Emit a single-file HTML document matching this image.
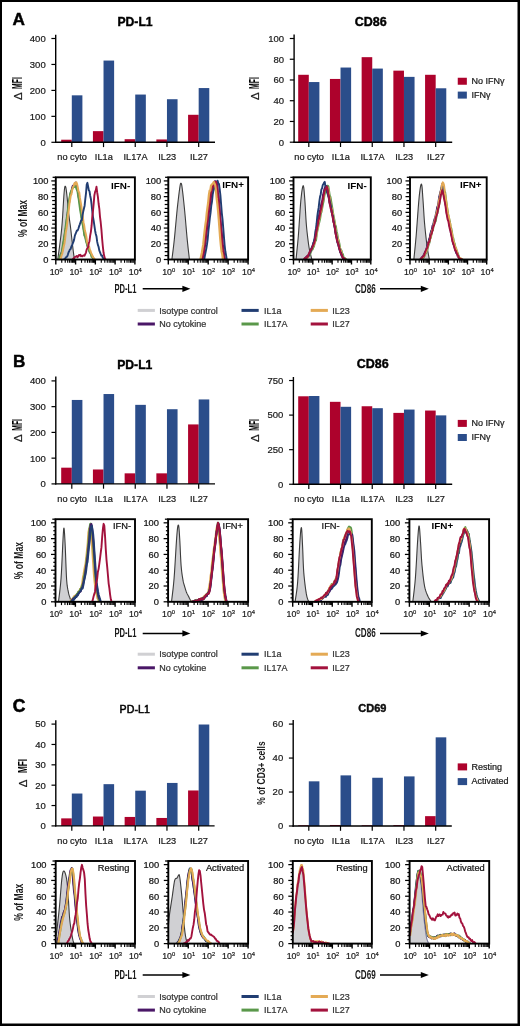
<!DOCTYPE html>
<html><head><meta charset="utf-8"><title>Figure</title>
<style>
html,body{margin:0;padding:0;background:#fff;}
body{width:520px;height:1026px;overflow:hidden;}
svg{display:block;filter:blur(0.3px);font-family:"Liberation Sans", sans-serif;}
</style></head><body>
<svg width="520" height="1026" viewBox="0 0 520 1026">
<rect x="0" y="0" width="520" height="1026" fill="#000"/>
<rect x="2" y="2" width="515.5" height="1021.5" fill="#fff"/>
<text x="12.4" y="24.9" font-size="17.2" text-anchor="start" font-weight="bold" fill="#000" stroke="#000" stroke-width="0.45">A</text>
<text x="12.9" y="367.2" font-size="17.2" text-anchor="start" font-weight="bold" fill="#000" stroke="#000" stroke-width="0.45">B</text>
<text x="12.7" y="711.5" font-size="17.5" text-anchor="start" font-weight="bold" fill="#000" stroke="#000" stroke-width="0.55">C</text>
<text x="135" y="26" font-size="12.2" text-anchor="middle" font-weight="bold" fill="#000" stroke="#000" stroke-width="0.4">PD-L1</text>
<text x="370.8" y="26.1" font-size="12.5" text-anchor="middle" font-weight="bold" fill="#000" stroke="#000" stroke-width="0.4">CD86</text>
<rect x="61.2" y="139.71" width="10.6" height="2.6" fill="#ad022c"/>
<rect x="71.8" y="95.33" width="10.6" height="46.97" fill="#2b4d8a"/>
<rect x="92.92" y="131.14" width="10.6" height="11.16" fill="#ad022c"/>
<rect x="103.52" y="60.56" width="10.6" height="81.74" fill="#2b4d8a"/>
<rect x="124.64" y="139.19" width="10.6" height="3.11" fill="#ad022c"/>
<rect x="135.24" y="94.55" width="10.6" height="47.75" fill="#2b4d8a"/>
<rect x="156.36" y="139.45" width="10.6" height="2.85" fill="#ad022c"/>
<rect x="166.96" y="99.22" width="10.6" height="43.08" fill="#2b4d8a"/>
<rect x="188.08" y="114.79" width="10.6" height="27.51" fill="#ad022c"/>
<rect x="198.68" y="88.06" width="10.6" height="54.24" fill="#2b4d8a"/>
<line x1="55.7" y1="34.7" x2="55.7" y2="143" stroke="#000" stroke-width="1.4"/>
<line x1="55" y1="142.3" x2="215" y2="142.3" stroke="#000" stroke-width="1.4"/>
<line x1="51.4" y1="142.3" x2="55.7" y2="142.3" stroke="#000" stroke-width="1.2"/>
<text x="45.7" y="145.65" font-size="9.5" text-anchor="end" font-weight="normal" fill="#1a1a1a" stroke="#1a1a1a" stroke-width="0.22">0</text>
<line x1="51.4" y1="116.35" x2="55.7" y2="116.35" stroke="#000" stroke-width="1.2"/>
<text x="45.7" y="119.7" font-size="9.5" text-anchor="end" font-weight="normal" fill="#1a1a1a" stroke="#1a1a1a" stroke-width="0.22">100</text>
<line x1="51.4" y1="90.4" x2="55.7" y2="90.4" stroke="#000" stroke-width="1.2"/>
<text x="45.7" y="93.75" font-size="9.5" text-anchor="end" font-weight="normal" fill="#1a1a1a" stroke="#1a1a1a" stroke-width="0.22">200</text>
<line x1="51.4" y1="64.45" x2="55.7" y2="64.45" stroke="#000" stroke-width="1.2"/>
<text x="45.7" y="67.8" font-size="9.5" text-anchor="end" font-weight="normal" fill="#1a1a1a" stroke="#1a1a1a" stroke-width="0.22">300</text>
<line x1="51.4" y1="38.5" x2="55.7" y2="38.5" stroke="#000" stroke-width="1.2"/>
<text x="45.7" y="41.85" font-size="9.5" text-anchor="end" font-weight="normal" fill="#1a1a1a" stroke="#1a1a1a" stroke-width="0.22">400</text>
<line x1="71.8" y1="142.3" x2="71.8" y2="147.1" stroke="#000" stroke-width="1.2"/>
<text x="72.1" y="159.9" font-size="9.2" text-anchor="middle" font-weight="normal" fill="#1a1a1a" stroke="#1a1a1a" stroke-width="0.22">no cyto</text>
<line x1="103.52" y1="142.3" x2="103.52" y2="147.1" stroke="#000" stroke-width="1.2"/>
<text x="103.82" y="159.9" font-size="9.2" text-anchor="middle" font-weight="normal" fill="#1a1a1a" stroke="#1a1a1a" stroke-width="0.22">IL1a</text>
<line x1="135.24" y1="142.3" x2="135.24" y2="147.1" stroke="#000" stroke-width="1.2"/>
<text x="135.54" y="159.9" font-size="9.2" text-anchor="middle" font-weight="normal" fill="#1a1a1a" stroke="#1a1a1a" stroke-width="0.22">IL17A</text>
<line x1="166.96" y1="142.3" x2="166.96" y2="147.1" stroke="#000" stroke-width="1.2"/>
<text x="167.26" y="159.9" font-size="9.2" text-anchor="middle" font-weight="normal" fill="#1a1a1a" stroke="#1a1a1a" stroke-width="0.22">IL23</text>
<line x1="198.68" y1="142.3" x2="198.68" y2="147.1" stroke="#000" stroke-width="1.2"/>
<text x="198.98" y="159.9" font-size="9.2" text-anchor="middle" font-weight="normal" fill="#1a1a1a" stroke="#1a1a1a" stroke-width="0.22">IL27</text>
<rect x="298.2" y="74.79" width="10.6" height="67.41" fill="#ad022c"/>
<rect x="308.8" y="82.05" width="10.6" height="60.15" fill="#2b4d8a"/>
<rect x="329.92" y="78.94" width="10.6" height="63.26" fill="#ad022c"/>
<rect x="340.52" y="67.54" width="10.6" height="74.66" fill="#2b4d8a"/>
<rect x="361.64" y="57.17" width="10.6" height="85.03" fill="#ad022c"/>
<rect x="372.24" y="68.57" width="10.6" height="73.63" fill="#2b4d8a"/>
<rect x="393.36" y="70.65" width="10.6" height="71.55" fill="#ad022c"/>
<rect x="403.96" y="76.87" width="10.6" height="65.33" fill="#2b4d8a"/>
<rect x="425.08" y="74.79" width="10.6" height="67.41" fill="#ad022c"/>
<rect x="435.68" y="88.28" width="10.6" height="53.92" fill="#2b4d8a"/>
<line x1="294.1" y1="34.6" x2="294.1" y2="142.9" stroke="#000" stroke-width="1.4"/>
<line x1="293.4" y1="142.2" x2="452.2" y2="142.2" stroke="#000" stroke-width="1.4"/>
<line x1="289.8" y1="142.2" x2="294.1" y2="142.2" stroke="#000" stroke-width="1.2"/>
<text x="284.1" y="145.55" font-size="9.5" text-anchor="end" font-weight="normal" fill="#1a1a1a" stroke="#1a1a1a" stroke-width="0.22">0</text>
<line x1="289.8" y1="121.46" x2="294.1" y2="121.46" stroke="#000" stroke-width="1.2"/>
<text x="284.1" y="124.81" font-size="9.5" text-anchor="end" font-weight="normal" fill="#1a1a1a" stroke="#1a1a1a" stroke-width="0.22">20</text>
<line x1="289.8" y1="100.72" x2="294.1" y2="100.72" stroke="#000" stroke-width="1.2"/>
<text x="284.1" y="104.07" font-size="9.5" text-anchor="end" font-weight="normal" fill="#1a1a1a" stroke="#1a1a1a" stroke-width="0.22">40</text>
<line x1="289.8" y1="79.98" x2="294.1" y2="79.98" stroke="#000" stroke-width="1.2"/>
<text x="284.1" y="83.33" font-size="9.5" text-anchor="end" font-weight="normal" fill="#1a1a1a" stroke="#1a1a1a" stroke-width="0.22">60</text>
<line x1="289.8" y1="59.24" x2="294.1" y2="59.24" stroke="#000" stroke-width="1.2"/>
<text x="284.1" y="62.59" font-size="9.5" text-anchor="end" font-weight="normal" fill="#1a1a1a" stroke="#1a1a1a" stroke-width="0.22">80</text>
<line x1="289.8" y1="38.5" x2="294.1" y2="38.5" stroke="#000" stroke-width="1.2"/>
<text x="284.1" y="41.85" font-size="9.5" text-anchor="end" font-weight="normal" fill="#1a1a1a" stroke="#1a1a1a" stroke-width="0.22">100</text>
<line x1="308.8" y1="142.2" x2="308.8" y2="147" stroke="#000" stroke-width="1.2"/>
<text x="309.1" y="159.8" font-size="9.2" text-anchor="middle" font-weight="normal" fill="#1a1a1a" stroke="#1a1a1a" stroke-width="0.22">no cyto</text>
<line x1="340.52" y1="142.2" x2="340.52" y2="147" stroke="#000" stroke-width="1.2"/>
<text x="340.82" y="159.8" font-size="9.2" text-anchor="middle" font-weight="normal" fill="#1a1a1a" stroke="#1a1a1a" stroke-width="0.22">IL1a</text>
<line x1="372.24" y1="142.2" x2="372.24" y2="147" stroke="#000" stroke-width="1.2"/>
<text x="372.54" y="159.8" font-size="9.2" text-anchor="middle" font-weight="normal" fill="#1a1a1a" stroke="#1a1a1a" stroke-width="0.22">IL17A</text>
<line x1="403.96" y1="142.2" x2="403.96" y2="147" stroke="#000" stroke-width="1.2"/>
<text x="404.26" y="159.8" font-size="9.2" text-anchor="middle" font-weight="normal" fill="#1a1a1a" stroke="#1a1a1a" stroke-width="0.22">IL23</text>
<line x1="435.68" y1="142.2" x2="435.68" y2="147" stroke="#000" stroke-width="1.2"/>
<text x="435.98" y="159.8" font-size="9.2" text-anchor="middle" font-weight="normal" fill="#1a1a1a" stroke="#1a1a1a" stroke-width="0.22">IL27</text>
<text transform="translate(21.7 100.1) rotate(-90)" font-size="11.5" fill="#1a1a1a" stroke="#1a1a1a" stroke-width="0.2">&#916;</text>
<text transform="translate(21.7 89) rotate(-90) scale(0.49 1)" font-size="14" font-weight="bold" fill="#000">MFI</text>
<text transform="translate(259 100.1) rotate(-90)" font-size="11.5" fill="#1a1a1a" stroke="#1a1a1a" stroke-width="0.2">&#916;</text>
<text transform="translate(259 89) rotate(-90) scale(0.49 1)" font-size="14" font-weight="bold" fill="#000">MFI</text>
<rect x="457.75" y="77.75" width="9.1" height="7" fill="#ad022c"/>
<rect x="457.75" y="91.6" width="9.1" height="7" fill="#2b4d8a"/>
<text x="471.45" y="84.05" font-size="9" text-anchor="start" font-weight="normal" fill="#1a1a1a" stroke="#1a1a1a" stroke-width="0.22">No IFN&#947;</text>
<text x="471.45" y="97.9" font-size="9" text-anchor="start" font-weight="normal" fill="#1a1a1a" stroke="#1a1a1a" stroke-width="0.22">IFN&#947;</text>
<text x="134.8" y="368.6" font-size="12.2" text-anchor="middle" font-weight="bold" fill="#000" stroke="#000" stroke-width="0.4">PD-L1</text>
<text x="372.8" y="368.1" font-size="12.5" text-anchor="middle" font-weight="bold" fill="#000" stroke="#000" stroke-width="0.4">CD86</text>
<rect x="61.2" y="467.68" width="10.6" height="16.22" fill="#ad022c"/>
<rect x="71.8" y="399.95" width="10.6" height="83.95" fill="#2b4d8a"/>
<rect x="92.92" y="469.48" width="10.6" height="14.42" fill="#ad022c"/>
<rect x="103.52" y="394.03" width="10.6" height="89.87" fill="#2b4d8a"/>
<rect x="124.64" y="473.34" width="10.6" height="10.56" fill="#ad022c"/>
<rect x="135.24" y="404.85" width="10.6" height="79.05" fill="#2b4d8a"/>
<rect x="156.36" y="473.34" width="10.6" height="10.56" fill="#ad022c"/>
<rect x="166.96" y="409.22" width="10.6" height="74.67" fill="#2b4d8a"/>
<rect x="188.08" y="424.42" width="10.6" height="59.48" fill="#ad022c"/>
<rect x="198.68" y="399.44" width="10.6" height="84.46" fill="#2b4d8a"/>
<line x1="55.8" y1="376.4" x2="55.8" y2="484.6" stroke="#000" stroke-width="1.4"/>
<line x1="55.1" y1="483.9" x2="215" y2="483.9" stroke="#000" stroke-width="1.4"/>
<line x1="51.5" y1="483.9" x2="55.8" y2="483.9" stroke="#000" stroke-width="1.2"/>
<text x="45.8" y="487.25" font-size="9.5" text-anchor="end" font-weight="normal" fill="#1a1a1a" stroke="#1a1a1a" stroke-width="0.22">0</text>
<line x1="51.5" y1="458.15" x2="55.8" y2="458.15" stroke="#000" stroke-width="1.2"/>
<text x="45.8" y="461.5" font-size="9.5" text-anchor="end" font-weight="normal" fill="#1a1a1a" stroke="#1a1a1a" stroke-width="0.22">100</text>
<line x1="51.5" y1="432.4" x2="55.8" y2="432.4" stroke="#000" stroke-width="1.2"/>
<text x="45.8" y="435.75" font-size="9.5" text-anchor="end" font-weight="normal" fill="#1a1a1a" stroke="#1a1a1a" stroke-width="0.22">200</text>
<line x1="51.5" y1="406.65" x2="55.8" y2="406.65" stroke="#000" stroke-width="1.2"/>
<text x="45.8" y="410" font-size="9.5" text-anchor="end" font-weight="normal" fill="#1a1a1a" stroke="#1a1a1a" stroke-width="0.22">300</text>
<line x1="51.5" y1="380.9" x2="55.8" y2="380.9" stroke="#000" stroke-width="1.2"/>
<text x="45.8" y="384.25" font-size="9.5" text-anchor="end" font-weight="normal" fill="#1a1a1a" stroke="#1a1a1a" stroke-width="0.22">400</text>
<line x1="71.8" y1="483.9" x2="71.8" y2="488.7" stroke="#000" stroke-width="1.2"/>
<text x="72.1" y="501.5" font-size="9.2" text-anchor="middle" font-weight="normal" fill="#1a1a1a" stroke="#1a1a1a" stroke-width="0.22">no cyto</text>
<line x1="103.52" y1="483.9" x2="103.52" y2="488.7" stroke="#000" stroke-width="1.2"/>
<text x="103.82" y="501.5" font-size="9.2" text-anchor="middle" font-weight="normal" fill="#1a1a1a" stroke="#1a1a1a" stroke-width="0.22">IL1a</text>
<line x1="135.24" y1="483.9" x2="135.24" y2="488.7" stroke="#000" stroke-width="1.2"/>
<text x="135.54" y="501.5" font-size="9.2" text-anchor="middle" font-weight="normal" fill="#1a1a1a" stroke="#1a1a1a" stroke-width="0.22">IL17A</text>
<line x1="166.96" y1="483.9" x2="166.96" y2="488.7" stroke="#000" stroke-width="1.2"/>
<text x="167.26" y="501.5" font-size="9.2" text-anchor="middle" font-weight="normal" fill="#1a1a1a" stroke="#1a1a1a" stroke-width="0.22">IL23</text>
<line x1="198.68" y1="483.9" x2="198.68" y2="488.7" stroke="#000" stroke-width="1.2"/>
<text x="198.98" y="501.5" font-size="9.2" text-anchor="middle" font-weight="normal" fill="#1a1a1a" stroke="#1a1a1a" stroke-width="0.22">IL27</text>
<rect x="298.2" y="396.29" width="10.6" height="87.96" fill="#ad022c"/>
<rect x="308.8" y="396.01" width="10.6" height="88.24" fill="#2b4d8a"/>
<rect x="329.92" y="401.82" width="10.6" height="82.43" fill="#ad022c"/>
<rect x="340.52" y="406.8" width="10.6" height="77.45" fill="#2b4d8a"/>
<rect x="361.64" y="406.25" width="10.6" height="78" fill="#ad022c"/>
<rect x="372.24" y="408.19" width="10.6" height="76.06" fill="#2b4d8a"/>
<rect x="393.36" y="412.89" width="10.6" height="71.36" fill="#ad022c"/>
<rect x="403.96" y="409.57" width="10.6" height="74.68" fill="#2b4d8a"/>
<rect x="425.08" y="410.54" width="10.6" height="73.71" fill="#ad022c"/>
<rect x="435.68" y="415.38" width="10.6" height="68.87" fill="#2b4d8a"/>
<line x1="293.4" y1="377" x2="293.4" y2="484.95" stroke="#000" stroke-width="1.4"/>
<line x1="292.7" y1="484.25" x2="452.2" y2="484.25" stroke="#000" stroke-width="1.4"/>
<line x1="289.1" y1="484.25" x2="293.4" y2="484.25" stroke="#000" stroke-width="1.2"/>
<text x="283.4" y="487.6" font-size="9.5" text-anchor="end" font-weight="normal" fill="#1a1a1a" stroke="#1a1a1a" stroke-width="0.22">0</text>
<line x1="289.1" y1="449.68" x2="293.4" y2="449.68" stroke="#000" stroke-width="1.2"/>
<text x="283.4" y="453.03" font-size="9.5" text-anchor="end" font-weight="normal" fill="#1a1a1a" stroke="#1a1a1a" stroke-width="0.22">250</text>
<line x1="289.1" y1="415.1" x2="293.4" y2="415.1" stroke="#000" stroke-width="1.2"/>
<text x="283.4" y="418.45" font-size="9.5" text-anchor="end" font-weight="normal" fill="#1a1a1a" stroke="#1a1a1a" stroke-width="0.22">500</text>
<line x1="289.1" y1="380.52" x2="293.4" y2="380.52" stroke="#000" stroke-width="1.2"/>
<text x="283.4" y="383.88" font-size="9.5" text-anchor="end" font-weight="normal" fill="#1a1a1a" stroke="#1a1a1a" stroke-width="0.22">750</text>
<line x1="308.8" y1="484.25" x2="308.8" y2="489.05" stroke="#000" stroke-width="1.2"/>
<text x="309.1" y="501.85" font-size="9.2" text-anchor="middle" font-weight="normal" fill="#1a1a1a" stroke="#1a1a1a" stroke-width="0.22">no cyto</text>
<line x1="340.52" y1="484.25" x2="340.52" y2="489.05" stroke="#000" stroke-width="1.2"/>
<text x="340.82" y="501.85" font-size="9.2" text-anchor="middle" font-weight="normal" fill="#1a1a1a" stroke="#1a1a1a" stroke-width="0.22">IL1a</text>
<line x1="372.24" y1="484.25" x2="372.24" y2="489.05" stroke="#000" stroke-width="1.2"/>
<text x="372.54" y="501.85" font-size="9.2" text-anchor="middle" font-weight="normal" fill="#1a1a1a" stroke="#1a1a1a" stroke-width="0.22">IL17A</text>
<line x1="403.96" y1="484.25" x2="403.96" y2="489.05" stroke="#000" stroke-width="1.2"/>
<text x="404.26" y="501.85" font-size="9.2" text-anchor="middle" font-weight="normal" fill="#1a1a1a" stroke="#1a1a1a" stroke-width="0.22">IL23</text>
<line x1="435.68" y1="484.25" x2="435.68" y2="489.05" stroke="#000" stroke-width="1.2"/>
<text x="435.98" y="501.85" font-size="9.2" text-anchor="middle" font-weight="normal" fill="#1a1a1a" stroke="#1a1a1a" stroke-width="0.22">IL27</text>
<text transform="translate(21.8 441.9) rotate(-90)" font-size="11.5" fill="#1a1a1a" stroke="#1a1a1a" stroke-width="0.2">&#916;</text>
<text transform="translate(21.8 430.8) rotate(-90) scale(0.49 1)" font-size="14" font-weight="bold" fill="#000">MFI</text>
<text transform="translate(259 441.9) rotate(-90)" font-size="11.5" fill="#1a1a1a" stroke="#1a1a1a" stroke-width="0.2">&#916;</text>
<text transform="translate(259 430.8) rotate(-90) scale(0.49 1)" font-size="14" font-weight="bold" fill="#000">MFI</text>
<rect x="457.75" y="419.9" width="9.1" height="7" fill="#ad022c"/>
<rect x="457.75" y="434" width="9.1" height="7" fill="#2b4d8a"/>
<text x="471.45" y="426.2" font-size="9" text-anchor="start" font-weight="normal" fill="#1a1a1a" stroke="#1a1a1a" stroke-width="0.22">No IFN&#947;</text>
<text x="471.45" y="440.3" font-size="9" text-anchor="start" font-weight="normal" fill="#1a1a1a" stroke="#1a1a1a" stroke-width="0.22">IFN&#947;</text>
<text x="134.8" y="713.1" font-size="10.6" text-anchor="middle" fill="#000" stroke="#000" stroke-width="0.5" letter-spacing="0.1">PD-L1</text>
<text x="372.4" y="712.3" font-size="11" text-anchor="middle" font-weight="bold" fill="#111" stroke="#000" stroke-width="0.4">CD69</text>
<rect x="61.2" y="818.37" width="10.6" height="7.53" fill="#ad022c"/>
<rect x="71.8" y="793.53" width="10.6" height="32.37" fill="#2b4d8a"/>
<rect x="92.92" y="816.53" width="10.6" height="9.37" fill="#ad022c"/>
<rect x="103.52" y="784.16" width="10.6" height="41.74" fill="#2b4d8a"/>
<rect x="124.64" y="816.94" width="10.6" height="8.96" fill="#ad022c"/>
<rect x="135.24" y="790.68" width="10.6" height="35.22" fill="#2b4d8a"/>
<rect x="156.36" y="817.96" width="10.6" height="7.94" fill="#ad022c"/>
<rect x="166.96" y="782.94" width="10.6" height="42.96" fill="#2b4d8a"/>
<rect x="188.08" y="790.47" width="10.6" height="35.43" fill="#ad022c"/>
<rect x="198.68" y="724.51" width="10.6" height="101.39" fill="#2b4d8a"/>
<line x1="55.8" y1="720.3" x2="55.8" y2="826.6" stroke="#000" stroke-width="1.4"/>
<line x1="55.1" y1="825.9" x2="214.6" y2="825.9" stroke="#000" stroke-width="1.4"/>
<line x1="51.5" y1="825.9" x2="55.8" y2="825.9" stroke="#000" stroke-width="1.2"/>
<text x="45.8" y="829.25" font-size="9.5" text-anchor="end" font-weight="normal" fill="#1a1a1a" stroke="#1a1a1a" stroke-width="0.22">0</text>
<line x1="51.5" y1="805.54" x2="55.8" y2="805.54" stroke="#000" stroke-width="1.2"/>
<text x="45.8" y="808.89" font-size="9.5" text-anchor="end" font-weight="normal" fill="#1a1a1a" stroke="#1a1a1a" stroke-width="0.22">10</text>
<line x1="51.5" y1="785.18" x2="55.8" y2="785.18" stroke="#000" stroke-width="1.2"/>
<text x="45.8" y="788.53" font-size="9.5" text-anchor="end" font-weight="normal" fill="#1a1a1a" stroke="#1a1a1a" stroke-width="0.22">20</text>
<line x1="51.5" y1="764.82" x2="55.8" y2="764.82" stroke="#000" stroke-width="1.2"/>
<text x="45.8" y="768.17" font-size="9.5" text-anchor="end" font-weight="normal" fill="#1a1a1a" stroke="#1a1a1a" stroke-width="0.22">30</text>
<line x1="51.5" y1="744.46" x2="55.8" y2="744.46" stroke="#000" stroke-width="1.2"/>
<text x="45.8" y="747.81" font-size="9.5" text-anchor="end" font-weight="normal" fill="#1a1a1a" stroke="#1a1a1a" stroke-width="0.22">40</text>
<line x1="51.5" y1="724.1" x2="55.8" y2="724.1" stroke="#000" stroke-width="1.2"/>
<text x="45.8" y="727.45" font-size="9.5" text-anchor="end" font-weight="normal" fill="#1a1a1a" stroke="#1a1a1a" stroke-width="0.22">50</text>
<line x1="71.8" y1="825.9" x2="71.8" y2="830.7" stroke="#000" stroke-width="1.2"/>
<text x="72.1" y="843.5" font-size="9.2" text-anchor="middle" font-weight="normal" fill="#1a1a1a" stroke="#1a1a1a" stroke-width="0.22">no cyto</text>
<line x1="103.52" y1="825.9" x2="103.52" y2="830.7" stroke="#000" stroke-width="1.2"/>
<text x="103.82" y="843.5" font-size="9.2" text-anchor="middle" font-weight="normal" fill="#1a1a1a" stroke="#1a1a1a" stroke-width="0.22">IL1a</text>
<line x1="135.24" y1="825.9" x2="135.24" y2="830.7" stroke="#000" stroke-width="1.2"/>
<text x="135.54" y="843.5" font-size="9.2" text-anchor="middle" font-weight="normal" fill="#1a1a1a" stroke="#1a1a1a" stroke-width="0.22">IL17A</text>
<line x1="166.96" y1="825.9" x2="166.96" y2="830.7" stroke="#000" stroke-width="1.2"/>
<text x="167.26" y="843.5" font-size="9.2" text-anchor="middle" font-weight="normal" fill="#1a1a1a" stroke="#1a1a1a" stroke-width="0.22">IL23</text>
<line x1="198.68" y1="825.9" x2="198.68" y2="830.7" stroke="#000" stroke-width="1.2"/>
<text x="198.98" y="843.5" font-size="9.2" text-anchor="middle" font-weight="normal" fill="#1a1a1a" stroke="#1a1a1a" stroke-width="0.22">IL27</text>
<rect x="298.2" y="825.32" width="10.6" height="0.68" fill="#ad022c"/>
<rect x="308.8" y="781.33" width="10.6" height="44.67" fill="#2b4d8a"/>
<rect x="329.92" y="824.98" width="10.6" height="1.02" fill="#ad022c"/>
<rect x="340.52" y="775.38" width="10.6" height="50.62" fill="#2b4d8a"/>
<rect x="361.64" y="825.32" width="10.6" height="0.68" fill="#ad022c"/>
<rect x="372.24" y="777.76" width="10.6" height="48.24" fill="#2b4d8a"/>
<rect x="393.36" y="825.15" width="10.6" height="0.85" fill="#ad022c"/>
<rect x="403.96" y="776.4" width="10.6" height="49.6" fill="#2b4d8a"/>
<rect x="425.08" y="816.15" width="10.6" height="9.85" fill="#ad022c"/>
<rect x="435.68" y="737.34" width="10.6" height="88.66" fill="#2b4d8a"/>
<line x1="293.2" y1="720" x2="293.2" y2="826.7" stroke="#000" stroke-width="1.4"/>
<line x1="292.5" y1="826" x2="451.8" y2="826" stroke="#000" stroke-width="1.4"/>
<line x1="288.9" y1="826" x2="293.2" y2="826" stroke="#000" stroke-width="1.2"/>
<text x="283.2" y="829.35" font-size="9.5" text-anchor="end" font-weight="normal" fill="#1a1a1a" stroke="#1a1a1a" stroke-width="0.22">0</text>
<line x1="288.9" y1="792.03" x2="293.2" y2="792.03" stroke="#000" stroke-width="1.2"/>
<text x="283.2" y="795.38" font-size="9.5" text-anchor="end" font-weight="normal" fill="#1a1a1a" stroke="#1a1a1a" stroke-width="0.22">20</text>
<line x1="288.9" y1="758.06" x2="293.2" y2="758.06" stroke="#000" stroke-width="1.2"/>
<text x="283.2" y="761.41" font-size="9.5" text-anchor="end" font-weight="normal" fill="#1a1a1a" stroke="#1a1a1a" stroke-width="0.22">40</text>
<line x1="288.9" y1="724.09" x2="293.2" y2="724.09" stroke="#000" stroke-width="1.2"/>
<text x="283.2" y="727.44" font-size="9.5" text-anchor="end" font-weight="normal" fill="#1a1a1a" stroke="#1a1a1a" stroke-width="0.22">60</text>
<line x1="308.8" y1="826" x2="308.8" y2="830.8" stroke="#000" stroke-width="1.2"/>
<text x="309.1" y="843.6" font-size="9.2" text-anchor="middle" font-weight="normal" fill="#1a1a1a" stroke="#1a1a1a" stroke-width="0.22">no cyto</text>
<line x1="340.52" y1="826" x2="340.52" y2="830.8" stroke="#000" stroke-width="1.2"/>
<text x="340.82" y="843.6" font-size="9.2" text-anchor="middle" font-weight="normal" fill="#1a1a1a" stroke="#1a1a1a" stroke-width="0.22">IL1a</text>
<line x1="372.24" y1="826" x2="372.24" y2="830.8" stroke="#000" stroke-width="1.2"/>
<text x="372.54" y="843.6" font-size="9.2" text-anchor="middle" font-weight="normal" fill="#1a1a1a" stroke="#1a1a1a" stroke-width="0.22">IL17A</text>
<line x1="403.96" y1="826" x2="403.96" y2="830.8" stroke="#000" stroke-width="1.2"/>
<text x="404.26" y="843.6" font-size="9.2" text-anchor="middle" font-weight="normal" fill="#1a1a1a" stroke="#1a1a1a" stroke-width="0.22">IL23</text>
<line x1="435.68" y1="826" x2="435.68" y2="830.8" stroke="#000" stroke-width="1.2"/>
<text x="435.98" y="843.6" font-size="9.2" text-anchor="middle" font-weight="normal" fill="#1a1a1a" stroke="#1a1a1a" stroke-width="0.22">IL27</text>
<text transform="translate(27.3 787.3) rotate(-90)" font-size="11.5" fill="#1a1a1a" stroke="#1a1a1a" stroke-width="0.2">&#916;</text>
<text transform="translate(27 773.1) rotate(-90) scale(0.615 1)" font-size="13.4" font-weight="bold" fill="#000">MFI</text>
<text transform="translate(265.2 773) rotate(-90) scale(0.72 1)" font-size="11.8" font-weight="bold" text-anchor="middle" fill="#1a1a1a">% of CD3+ cells</text>
<rect x="457.7" y="763.4" width="9.4" height="7" fill="#ad022c"/>
<rect x="457.7" y="778.1" width="9.4" height="7" fill="#2b4d8a"/>
<text x="471.5" y="770" font-size="9" text-anchor="start" font-weight="normal" fill="#1a1a1a" stroke="#1a1a1a" stroke-width="0.22">Resting</text>
<text x="471.5" y="784.4" font-size="9" text-anchor="start" font-weight="normal" fill="#1a1a1a" stroke="#1a1a1a" stroke-width="0.22">Activated</text>
<path d="M57.78 259.5L58.23 256.13L58.86 251.5L59.61 245.99L60.38 240L61.12 233.9L61.73 228.07L62.23 222.06L62.68 215.49L63.08 208.81L63.45 202.48L63.79 196.96L64.11 192.7L64.39 189.8L64.64 187.9L64.86 186.81L65.06 186.33L65.27 186.26L65.49 186.42L65.72 186.89L65.94 187.84L66.16 189.22L66.38 190.93L66.62 192.9L66.87 195.06L67.15 197.56L67.43 200.5L67.73 203.71L68.03 206.99L68.34 210.2L68.65 213.14L68.98 215.82L69.31 218.37L69.65 220.85L69.99 223.26L70.32 225.66L70.63 228.07L70.92 230.47L71.18 232.84L71.43 235.19L71.69 237.53L71.94 239.86L72.21 242.21L72.51 244.7L72.81 247.33L73.13 249.97L73.44 252.46L73.73 254.64L73.99 256.36L74.24 257.55L74.48 258.34L74.7 258.81L74.89 259.09L75.06 259.29L75.18 259.5L75.18 259.5L57.78 259.5Z" fill="#d0d0d3" stroke="none"/>
<path d="M57.78 259.5L58.23 256.13L58.86 251.5L59.61 245.99L60.38 240L61.12 233.9L61.73 228.07L62.23 222.06L62.68 215.49L63.08 208.81L63.45 202.48L63.79 196.96L64.11 192.7L64.39 189.8L64.64 187.9L64.86 186.81L65.06 186.33L65.27 186.26L65.49 186.42L65.72 186.89L65.94 187.84L66.16 189.22L66.38 190.93L66.62 192.9L66.87 195.06L67.15 197.56L67.43 200.5L67.73 203.71L68.03 206.99L68.34 210.2L68.65 213.14L68.98 215.82L69.31 218.37L69.65 220.85L69.99 223.26L70.32 225.66L70.63 228.07L70.92 230.47L71.18 232.84L71.43 235.19L71.69 237.53L71.94 239.86L72.21 242.21L72.51 244.7L72.81 247.33L73.13 249.97L73.44 252.46L73.73 254.64L73.99 256.36L74.24 257.55L74.48 258.34L74.7 258.81L74.89 259.09L75.06 259.29L75.18 259.5" fill="none" stroke="#3c3c3c" stroke-width="1.1" stroke-linejoin="round"/>
<path d="M59.36 259.5L60.07 258.16L60.77 254.92L61.48 252.82L62.18 251.16L62.89 247.15L63.6 243.01L64.3 237.85L65.01 232.62L65.72 229.41L66.42 224.21L67.13 216.39L67.83 211.94L68.54 205.12L69.25 202.23L69.95 196.82L70.66 192.97L71.37 192.24L72.07 187.71L72.78 185.7L73.48 186.81L74.19 185.68L74.9 183.51L75.6 182.47L76.31 185.62L77.02 188.49L77.72 190.89L78.43 195.74L79.13 199.38L79.84 203.34L80.55 207.97L81.25 213.71L81.96 218.49L82.67 223.03L83.37 226.72L84.08 231.24L84.78 235.53L85.49 236.72L86.2 240.39L86.9 242.92L87.61 246.4L88.32 246.67L89.02 248.81L89.73 252.1L90.43 253.32L91.14 254.16L91.85 255.68L92.55 256.62L93.26 258.61L93.97 259.5" fill="none" stroke="#4a1767" stroke-width="1.9" stroke-linejoin="round"/>
<path d="M58.96 259.5L59.67 256.81L60.38 254.83L61.08 254.31L61.79 251.68L62.5 246.66L63.2 242.68L63.91 238.24L64.61 234.37L65.32 228.67L66.03 223.33L66.73 217.98L67.44 213.7L68.15 207.22L68.85 202.16L69.56 197.2L70.26 193.43L70.97 191.24L71.68 190.46L72.38 188.69L73.09 187.47L73.8 187.12L74.5 186.76L75.21 185.59L75.91 187.3L76.62 189.37L77.33 190.73L78.03 195.42L78.74 199.52L79.45 205.08L80.15 210.41L80.86 214.36L81.56 219.58L82.27 222.95L82.98 225.93L83.68 230.81L84.39 235.61L85.1 237.04L85.8 240.21L86.51 243.05L87.21 245.07L87.92 247.42L88.63 249.17L89.33 251.78L90.04 252.19L90.75 253.81L91.45 256.74L92.16 256.99L92.86 258.16L93.57 259.5" fill="none" stroke="#5a984a" stroke-width="1.9" stroke-linejoin="round"/>
<path d="M60.15 259.5L60.86 257.97L61.56 255.44L62.27 253.53L62.98 250.35L63.68 246.74L64.39 243.75L65.09 239.22L65.8 232.23L66.51 228.66L67.21 223.27L67.92 215.49L68.63 211.35L69.33 204.35L70.04 200.14L70.74 195.56L71.45 194.2L72.16 190.2L72.86 187.26L73.57 186.26L74.28 183.64L74.98 182.71L75.69 184.4L76.39 182.32L77.1 184.16L77.81 187.49L78.51 191.52L79.22 192.34L79.93 197.97L80.63 201.89L81.34 206.27L82.04 211.81L82.75 216.06L83.46 222.16L84.16 225.45L84.87 230.55L85.58 232.93L86.28 236.38L86.99 241.32L87.69 243.95L88.4 246.2L89.11 246.6L89.81 249.61L90.52 250.98L91.23 253.32L91.93 254.51L92.64 256.24L93.34 257.62L94.05 258.33L94.76 259.5" fill="none" stroke="#e4aa55" stroke-width="2" stroke-linejoin="round"/>
<path d="M63.71 259.5L64.41 259.17L65.1 258.68L65.8 257.43L66.5 257.04L67.2 256.29L67.89 254.56L68.59 252.23L69.29 250.97L69.98 249.41L70.68 248.88L71.38 246.44L72.08 245.18L72.77 243.47L73.47 241.63L74.17 239.37L74.86 235.66L75.56 233.98L76.26 232.16L76.96 230.43L77.65 230.49L78.35 228.76L79.05 226.45L79.74 224.56L80.44 222.5L81.14 220.42L81.84 220.07L82.53 215.33L83.23 211.58L83.93 208.54L84.62 205.67L85.32 198.9L86.02 193.02L86.72 184.56L87.41 182.85L88.11 186.42L88.81 190.24L89.5 191.23L90.2 195.71L90.9 198.98L91.6 204.77L92.29 211.62L92.99 216.85L93.69 220.88L94.38 225.67L95.08 230.48L95.78 233.96L96.48 236.36L97.17 241.65L97.87 244.89L98.57 246.79L99.26 250.38L99.96 252.08L100.66 253.94L101.36 255.57L102.05 255.47L102.75 257.82L103.45 258.29L104.14 259.34L104.84 259.5" fill="none" stroke="#213d72" stroke-width="1.9" stroke-linejoin="round"/>
<path d="M72.61 259.5L73.31 258.71L74.01 257.94L74.72 257.35L75.42 256.67L76.12 256.62L76.82 255.94L77.53 257.21L78.23 256.16L78.93 255.05L79.64 255.42L80.34 254.83L81.04 256.28L81.74 255.7L82.45 256.18L83.15 255.58L83.85 255.25L84.55 255.71L85.26 254.17L85.96 252.59L86.66 249.65L87.36 248.14L88.07 247.37L88.77 243.25L89.47 241.21L90.17 235.62L90.88 231.85L91.58 225.95L92.28 216.53L92.99 211.03L93.69 203.55L94.39 195.19L95.09 191.9L95.8 190.25L96.5 186.76L97.2 192.49L97.9 196.85L98.61 203.74L99.31 208.52L100.01 216.82L100.71 222.49L101.42 229.66L102.12 238.74L102.82 246.28L103.53 252.54L104.23 256.11L104.93 258.6L105.63 259.5" fill="none" stroke="#a3123d" stroke-width="1.9" stroke-linejoin="round"/>
<rect x="55.8" y="177.3" width="79.1" height="82.2" fill="none" stroke="#000" stroke-width="1.9"/>
<line x1="51.3" y1="259.5" x2="55.8" y2="259.5" stroke="#000" stroke-width="1.25"/>
<line x1="52.2" y1="255.57" x2="55.8" y2="255.57" stroke="#000" stroke-width="1.25"/>
<line x1="52.2" y1="251.64" x2="55.8" y2="251.64" stroke="#000" stroke-width="1.25"/>
<line x1="52.2" y1="247.71" x2="55.8" y2="247.71" stroke="#000" stroke-width="1.25"/>
<line x1="51.3" y1="243.78" x2="55.8" y2="243.78" stroke="#000" stroke-width="1.25"/>
<line x1="52.2" y1="239.85" x2="55.8" y2="239.85" stroke="#000" stroke-width="1.25"/>
<line x1="52.2" y1="235.93" x2="55.8" y2="235.93" stroke="#000" stroke-width="1.25"/>
<line x1="52.2" y1="232" x2="55.8" y2="232" stroke="#000" stroke-width="1.25"/>
<line x1="51.3" y1="228.07" x2="55.8" y2="228.07" stroke="#000" stroke-width="1.25"/>
<line x1="52.2" y1="224.14" x2="55.8" y2="224.14" stroke="#000" stroke-width="1.25"/>
<line x1="52.2" y1="220.21" x2="55.8" y2="220.21" stroke="#000" stroke-width="1.25"/>
<line x1="52.2" y1="216.28" x2="55.8" y2="216.28" stroke="#000" stroke-width="1.25"/>
<line x1="51.3" y1="212.35" x2="55.8" y2="212.35" stroke="#000" stroke-width="1.25"/>
<line x1="52.2" y1="208.42" x2="55.8" y2="208.42" stroke="#000" stroke-width="1.25"/>
<line x1="52.2" y1="204.49" x2="55.8" y2="204.49" stroke="#000" stroke-width="1.25"/>
<line x1="52.2" y1="200.56" x2="55.8" y2="200.56" stroke="#000" stroke-width="1.25"/>
<line x1="51.3" y1="196.63" x2="55.8" y2="196.63" stroke="#000" stroke-width="1.25"/>
<line x1="52.2" y1="192.7" x2="55.8" y2="192.7" stroke="#000" stroke-width="1.25"/>
<line x1="52.2" y1="188.78" x2="55.8" y2="188.78" stroke="#000" stroke-width="1.25"/>
<line x1="52.2" y1="184.85" x2="55.8" y2="184.85" stroke="#000" stroke-width="1.25"/>
<line x1="51.3" y1="180.92" x2="55.8" y2="180.92" stroke="#000" stroke-width="1.25"/>
<line x1="52.6" y1="177.3" x2="55.8" y2="177.3" stroke="#000" stroke-width="1.3"/>
<text x="48.4" y="262.8" font-size="9.3" text-anchor="end" font-weight="normal" fill="#111" stroke="#111" stroke-width="0.22">0</text>
<text x="48.4" y="247.08" font-size="9.3" text-anchor="end" font-weight="normal" fill="#111" stroke="#111" stroke-width="0.22">20</text>
<text x="48.4" y="231.37" font-size="9.3" text-anchor="end" font-weight="normal" fill="#111" stroke="#111" stroke-width="0.22">40</text>
<text x="48.4" y="215.65" font-size="9.3" text-anchor="end" font-weight="normal" fill="#111" stroke="#111" stroke-width="0.22">60</text>
<text x="48.4" y="199.93" font-size="9.3" text-anchor="end" font-weight="normal" fill="#111" stroke="#111" stroke-width="0.22">80</text>
<text x="48.4" y="184.22" font-size="9.3" text-anchor="end" font-weight="normal" fill="#111" stroke="#111" stroke-width="0.22">100</text>
<line x1="55.8" y1="259.5" x2="55.8" y2="264.5" stroke="#000" stroke-width="1.4"/>
<line x1="61.75" y1="259.5" x2="61.75" y2="262.8" stroke="#000" stroke-width="1.15"/>
<line x1="65.24" y1="259.5" x2="65.24" y2="262.8" stroke="#000" stroke-width="1.15"/>
<line x1="67.71" y1="259.5" x2="67.71" y2="262.8" stroke="#000" stroke-width="1.15"/>
<line x1="69.62" y1="259.5" x2="69.62" y2="262.8" stroke="#000" stroke-width="1.15"/>
<line x1="71.19" y1="259.5" x2="71.19" y2="262.8" stroke="#000" stroke-width="1.15"/>
<line x1="72.51" y1="259.5" x2="72.51" y2="262.8" stroke="#000" stroke-width="1.15"/>
<line x1="73.66" y1="259.5" x2="73.66" y2="262.8" stroke="#000" stroke-width="1.15"/>
<line x1="74.67" y1="259.5" x2="74.67" y2="262.8" stroke="#000" stroke-width="1.15"/>
<text x="56.2" y="274.7" font-size="8.8" text-anchor="middle" fill="#1a1a1a" stroke="#1a1a1a" stroke-width="0.2">10<tspan font-size="5.8" dy="-3.1">0</tspan></text>
<line x1="75.58" y1="259.5" x2="75.58" y2="264.5" stroke="#000" stroke-width="1.4"/>
<line x1="81.53" y1="259.5" x2="81.53" y2="262.8" stroke="#000" stroke-width="1.15"/>
<line x1="85.01" y1="259.5" x2="85.01" y2="262.8" stroke="#000" stroke-width="1.15"/>
<line x1="87.48" y1="259.5" x2="87.48" y2="262.8" stroke="#000" stroke-width="1.15"/>
<line x1="89.4" y1="259.5" x2="89.4" y2="262.8" stroke="#000" stroke-width="1.15"/>
<line x1="90.96" y1="259.5" x2="90.96" y2="262.8" stroke="#000" stroke-width="1.15"/>
<line x1="92.29" y1="259.5" x2="92.29" y2="262.8" stroke="#000" stroke-width="1.15"/>
<line x1="93.43" y1="259.5" x2="93.43" y2="262.8" stroke="#000" stroke-width="1.15"/>
<line x1="94.45" y1="259.5" x2="94.45" y2="262.8" stroke="#000" stroke-width="1.15"/>
<text x="75.98" y="274.7" font-size="8.8" text-anchor="middle" fill="#1a1a1a" stroke="#1a1a1a" stroke-width="0.2">10<tspan font-size="5.8" dy="-3.1">1</tspan></text>
<line x1="95.35" y1="259.5" x2="95.35" y2="264.5" stroke="#000" stroke-width="1.4"/>
<line x1="101.3" y1="259.5" x2="101.3" y2="262.8" stroke="#000" stroke-width="1.15"/>
<line x1="104.79" y1="259.5" x2="104.79" y2="262.8" stroke="#000" stroke-width="1.15"/>
<line x1="107.26" y1="259.5" x2="107.26" y2="262.8" stroke="#000" stroke-width="1.15"/>
<line x1="109.17" y1="259.5" x2="109.17" y2="262.8" stroke="#000" stroke-width="1.15"/>
<line x1="110.74" y1="259.5" x2="110.74" y2="262.8" stroke="#000" stroke-width="1.15"/>
<line x1="112.06" y1="259.5" x2="112.06" y2="262.8" stroke="#000" stroke-width="1.15"/>
<line x1="113.21" y1="259.5" x2="113.21" y2="262.8" stroke="#000" stroke-width="1.15"/>
<line x1="114.22" y1="259.5" x2="114.22" y2="262.8" stroke="#000" stroke-width="1.15"/>
<text x="95.75" y="274.7" font-size="8.8" text-anchor="middle" fill="#1a1a1a" stroke="#1a1a1a" stroke-width="0.2">10<tspan font-size="5.8" dy="-3.1">2</tspan></text>
<line x1="115.12" y1="259.5" x2="115.12" y2="264.5" stroke="#000" stroke-width="1.4"/>
<line x1="121.08" y1="259.5" x2="121.08" y2="262.8" stroke="#000" stroke-width="1.15"/>
<line x1="124.56" y1="259.5" x2="124.56" y2="262.8" stroke="#000" stroke-width="1.15"/>
<line x1="127.03" y1="259.5" x2="127.03" y2="262.8" stroke="#000" stroke-width="1.15"/>
<line x1="128.95" y1="259.5" x2="128.95" y2="262.8" stroke="#000" stroke-width="1.15"/>
<line x1="130.51" y1="259.5" x2="130.51" y2="262.8" stroke="#000" stroke-width="1.15"/>
<line x1="131.84" y1="259.5" x2="131.84" y2="262.8" stroke="#000" stroke-width="1.15"/>
<line x1="132.98" y1="259.5" x2="132.98" y2="262.8" stroke="#000" stroke-width="1.15"/>
<line x1="134" y1="259.5" x2="134" y2="262.8" stroke="#000" stroke-width="1.15"/>
<text x="115.53" y="274.7" font-size="8.8" text-anchor="middle" fill="#1a1a1a" stroke="#1a1a1a" stroke-width="0.2">10<tspan font-size="5.8" dy="-3.1">3</tspan></text>
<line x1="134.9" y1="259.5" x2="134.9" y2="264.5" stroke="#000" stroke-width="1.4"/>
<text x="135.3" y="274.7" font-size="8.8" text-anchor="middle" fill="#1a1a1a" stroke="#1a1a1a" stroke-width="0.2">10<tspan font-size="5.8" dy="-3.1">4</tspan></text>
<text x="111" y="188.7" font-size="9.9" text-anchor="start" font-weight="bold" fill="#000">IFN-</text>
<path d="M171.89 259.5L172.14 257.5L172.49 254.84L172.9 251.64L173.35 248L173.82 244.04L174.28 239.85L174.75 235.18L175.25 229.87L175.77 224.24L176.29 218.58L176.79 213.21L177.28 208.42L177.75 204.09L178.22 199.95L178.69 196.09L179.12 192.62L179.52 189.62L179.87 187.2L180.15 185.44L180.37 184.26L180.56 183.57L180.72 183.25L180.88 183.18L181.07 183.27L181.25 183.45L181.42 183.8L181.59 184.4L181.78 185.37L182 186.79L182.27 188.78L182.59 191.41L182.97 194.63L183.37 198.3L183.8 202.31L184.23 206.51L184.66 210.78L185.08 215.32L185.52 220.3L185.97 225.46L186.41 230.6L186.84 235.47L187.25 239.85L187.67 243.9L188.09 247.83L188.51 251.49L188.89 254.76L189.21 257.47L189.45 259.5L189.45 259.5L171.89 259.5Z" fill="#d0d0d3" stroke="none"/>
<path d="M171.89 259.5L172.14 257.5L172.49 254.84L172.9 251.64L173.35 248L173.82 244.04L174.28 239.85L174.75 235.18L175.25 229.87L175.77 224.24L176.29 218.58L176.79 213.21L177.28 208.42L177.75 204.09L178.22 199.95L178.69 196.09L179.12 192.62L179.52 189.62L179.87 187.2L180.15 185.44L180.37 184.26L180.56 183.57L180.72 183.25L180.88 183.18L181.07 183.27L181.25 183.45L181.42 183.8L181.59 184.4L181.78 185.37L182 186.79L182.27 188.78L182.59 191.41L182.97 194.63L183.37 198.3L183.8 202.31L184.23 206.51L184.66 210.78L185.08 215.32L185.52 220.3L185.97 225.46L186.41 230.6L186.84 235.47L187.25 239.85L187.67 243.9L188.09 247.83L188.51 251.49L188.89 254.76L189.21 257.47L189.45 259.5" fill="none" stroke="#3c3c3c" stroke-width="1.1" stroke-linejoin="round"/>
<path d="M204.21 259.5L204.91 255.56L205.62 251.95L206.32 248.62L207.03 244.17L207.73 238.83L208.44 230.74L209.14 225L209.85 217.95L210.55 212.89L211.25 205.79L211.96 201.85L212.66 194.96L213.37 190.84L214.07 188.71L214.78 186.03L215.48 183.79L216.19 183.95L216.89 181.65L217.6 180.67L218.3 183.35L219 184.03L219.71 189.36L220.41 195.31L221.12 204.35L221.82 213.05L222.53 219.28L223.23 227.87L223.94 236.85L224.64 245.27L225.34 251.27L226.05 255.09L226.75 259.5" fill="none" stroke="#213d72" stroke-width="1.9" stroke-linejoin="round"/>
<path d="M202.41 259.5L203.12 256.45L203.82 253.36L204.53 248.37L205.23 244.76L205.94 237.71L206.64 231.81L207.35 226.47L208.05 219.09L208.75 214.35L209.46 207.36L210.16 203.06L210.87 197.9L211.57 192.53L212.28 188.03L212.98 188.16L213.69 186.1L214.39 183.21L215.1 181.06L215.8 182.24L216.5 183.66L217.21 184.19L217.91 192.18L218.62 195.9L219.32 205.04L220.03 213.36L220.73 221.62L221.44 229.51L222.14 236.15L222.84 245.21L223.55 250.55L224.25 255.13L224.96 259.5" fill="none" stroke="#4a1767" stroke-width="1.9" stroke-linejoin="round"/>
<path d="M201.42 259.5L202.12 256.63L202.83 251.74L203.53 249.5L204.23 243.3L204.94 238.83L205.64 232.12L206.35 223.88L207.05 219.94L207.76 212.55L208.46 207.28L209.17 201.85L209.87 196.59L210.58 193.3L211.28 188.02L211.98 188.27L212.69 186.06L213.39 185.29L214.1 183.4L214.8 182.82L215.51 181.93L216.21 186.22L216.92 191.96L217.62 197.84L218.32 202.85L219.03 213.6L219.73 220.19L220.44 229.32L221.14 236.54L221.85 244.85L222.55 250.32L223.26 255.39L223.96 259.5" fill="none" stroke="#5a984a" stroke-width="1.9" stroke-linejoin="round"/>
<path d="M201.82 259.5L202.52 256.2L203.22 252.92L203.93 249.48L204.63 242.92L205.34 239.02L206.04 231.45L206.75 224.16L207.45 220.31L208.16 212.81L208.86 206.8L209.57 203.15L210.27 196.97L210.97 191.61L211.68 189.28L212.38 186.13L213.09 186.32L213.79 184.54L214.5 183.94L215.2 182.48L215.91 181.85L216.61 185.5L217.31 189.76L218.02 197.44L218.72 203.61L219.43 213.49L220.13 221.13L220.84 228.53L221.54 236.38L222.25 244.66L222.95 251.58L223.66 255.82L224.36 259.5" fill="none" stroke="#a3123d" stroke-width="2.2" stroke-linejoin="round"/>
<path d="M200.42 259.5L201.12 256L201.83 252.8L202.53 248.53L203.24 244.45L203.94 237.03L204.65 230.61L205.35 224.83L206.06 220.08L206.76 212.91L207.46 207.69L208.17 202.49L208.87 195.11L209.58 190.64L210.28 190.65L210.99 185.67L211.69 184.81L212.4 184.05L213.1 183.34L213.8 181.9L214.51 183.45L215.21 185.18L215.92 190.13L216.62 198.25L217.33 203.54L218.03 210.85L218.74 219.2L219.44 228.69L220.15 238.08L220.85 245.61L221.55 251.48L222.26 254.57L222.96 259.5" fill="none" stroke="#e4aa55" stroke-width="2.2" stroke-linejoin="round"/>
<rect x="168.3" y="177.3" width="79.8" height="82.2" fill="none" stroke="#000" stroke-width="1.9"/>
<line x1="163.8" y1="259.5" x2="168.3" y2="259.5" stroke="#000" stroke-width="1.25"/>
<line x1="164.7" y1="255.57" x2="168.3" y2="255.57" stroke="#000" stroke-width="1.25"/>
<line x1="164.7" y1="251.64" x2="168.3" y2="251.64" stroke="#000" stroke-width="1.25"/>
<line x1="164.7" y1="247.71" x2="168.3" y2="247.71" stroke="#000" stroke-width="1.25"/>
<line x1="163.8" y1="243.78" x2="168.3" y2="243.78" stroke="#000" stroke-width="1.25"/>
<line x1="164.7" y1="239.85" x2="168.3" y2="239.85" stroke="#000" stroke-width="1.25"/>
<line x1="164.7" y1="235.93" x2="168.3" y2="235.93" stroke="#000" stroke-width="1.25"/>
<line x1="164.7" y1="232" x2="168.3" y2="232" stroke="#000" stroke-width="1.25"/>
<line x1="163.8" y1="228.07" x2="168.3" y2="228.07" stroke="#000" stroke-width="1.25"/>
<line x1="164.7" y1="224.14" x2="168.3" y2="224.14" stroke="#000" stroke-width="1.25"/>
<line x1="164.7" y1="220.21" x2="168.3" y2="220.21" stroke="#000" stroke-width="1.25"/>
<line x1="164.7" y1="216.28" x2="168.3" y2="216.28" stroke="#000" stroke-width="1.25"/>
<line x1="163.8" y1="212.35" x2="168.3" y2="212.35" stroke="#000" stroke-width="1.25"/>
<line x1="164.7" y1="208.42" x2="168.3" y2="208.42" stroke="#000" stroke-width="1.25"/>
<line x1="164.7" y1="204.49" x2="168.3" y2="204.49" stroke="#000" stroke-width="1.25"/>
<line x1="164.7" y1="200.56" x2="168.3" y2="200.56" stroke="#000" stroke-width="1.25"/>
<line x1="163.8" y1="196.63" x2="168.3" y2="196.63" stroke="#000" stroke-width="1.25"/>
<line x1="164.7" y1="192.7" x2="168.3" y2="192.7" stroke="#000" stroke-width="1.25"/>
<line x1="164.7" y1="188.78" x2="168.3" y2="188.78" stroke="#000" stroke-width="1.25"/>
<line x1="164.7" y1="184.85" x2="168.3" y2="184.85" stroke="#000" stroke-width="1.25"/>
<line x1="163.8" y1="180.92" x2="168.3" y2="180.92" stroke="#000" stroke-width="1.25"/>
<line x1="165.1" y1="177.3" x2="168.3" y2="177.3" stroke="#000" stroke-width="1.3"/>
<text x="161.2" y="262.8" font-size="9.3" text-anchor="end" font-weight="normal" fill="#111" stroke="#111" stroke-width="0.22">0</text>
<text x="161.2" y="247.08" font-size="9.3" text-anchor="end" font-weight="normal" fill="#111" stroke="#111" stroke-width="0.22">20</text>
<text x="161.2" y="231.37" font-size="9.3" text-anchor="end" font-weight="normal" fill="#111" stroke="#111" stroke-width="0.22">40</text>
<text x="161.2" y="215.65" font-size="9.3" text-anchor="end" font-weight="normal" fill="#111" stroke="#111" stroke-width="0.22">60</text>
<text x="161.2" y="199.93" font-size="9.3" text-anchor="end" font-weight="normal" fill="#111" stroke="#111" stroke-width="0.22">80</text>
<text x="161.2" y="184.22" font-size="9.3" text-anchor="end" font-weight="normal" fill="#111" stroke="#111" stroke-width="0.22">100</text>
<line x1="168.3" y1="259.5" x2="168.3" y2="264.5" stroke="#000" stroke-width="1.4"/>
<line x1="174.31" y1="259.5" x2="174.31" y2="262.8" stroke="#000" stroke-width="1.15"/>
<line x1="177.82" y1="259.5" x2="177.82" y2="262.8" stroke="#000" stroke-width="1.15"/>
<line x1="180.31" y1="259.5" x2="180.31" y2="262.8" stroke="#000" stroke-width="1.15"/>
<line x1="182.24" y1="259.5" x2="182.24" y2="262.8" stroke="#000" stroke-width="1.15"/>
<line x1="183.82" y1="259.5" x2="183.82" y2="262.8" stroke="#000" stroke-width="1.15"/>
<line x1="185.16" y1="259.5" x2="185.16" y2="262.8" stroke="#000" stroke-width="1.15"/>
<line x1="186.32" y1="259.5" x2="186.32" y2="262.8" stroke="#000" stroke-width="1.15"/>
<line x1="187.34" y1="259.5" x2="187.34" y2="262.8" stroke="#000" stroke-width="1.15"/>
<text x="168.7" y="274.7" font-size="8.8" text-anchor="middle" fill="#1a1a1a" stroke="#1a1a1a" stroke-width="0.2">10<tspan font-size="5.8" dy="-3.1">0</tspan></text>
<line x1="188.25" y1="259.5" x2="188.25" y2="264.5" stroke="#000" stroke-width="1.4"/>
<line x1="194.26" y1="259.5" x2="194.26" y2="262.8" stroke="#000" stroke-width="1.15"/>
<line x1="197.77" y1="259.5" x2="197.77" y2="262.8" stroke="#000" stroke-width="1.15"/>
<line x1="200.26" y1="259.5" x2="200.26" y2="262.8" stroke="#000" stroke-width="1.15"/>
<line x1="202.19" y1="259.5" x2="202.19" y2="262.8" stroke="#000" stroke-width="1.15"/>
<line x1="203.77" y1="259.5" x2="203.77" y2="262.8" stroke="#000" stroke-width="1.15"/>
<line x1="205.11" y1="259.5" x2="205.11" y2="262.8" stroke="#000" stroke-width="1.15"/>
<line x1="206.27" y1="259.5" x2="206.27" y2="262.8" stroke="#000" stroke-width="1.15"/>
<line x1="207.29" y1="259.5" x2="207.29" y2="262.8" stroke="#000" stroke-width="1.15"/>
<text x="188.65" y="274.7" font-size="8.8" text-anchor="middle" fill="#1a1a1a" stroke="#1a1a1a" stroke-width="0.2">10<tspan font-size="5.8" dy="-3.1">1</tspan></text>
<line x1="208.2" y1="259.5" x2="208.2" y2="264.5" stroke="#000" stroke-width="1.4"/>
<line x1="214.21" y1="259.5" x2="214.21" y2="262.8" stroke="#000" stroke-width="1.15"/>
<line x1="217.72" y1="259.5" x2="217.72" y2="262.8" stroke="#000" stroke-width="1.15"/>
<line x1="220.21" y1="259.5" x2="220.21" y2="262.8" stroke="#000" stroke-width="1.15"/>
<line x1="222.14" y1="259.5" x2="222.14" y2="262.8" stroke="#000" stroke-width="1.15"/>
<line x1="223.72" y1="259.5" x2="223.72" y2="262.8" stroke="#000" stroke-width="1.15"/>
<line x1="225.06" y1="259.5" x2="225.06" y2="262.8" stroke="#000" stroke-width="1.15"/>
<line x1="226.22" y1="259.5" x2="226.22" y2="262.8" stroke="#000" stroke-width="1.15"/>
<line x1="227.24" y1="259.5" x2="227.24" y2="262.8" stroke="#000" stroke-width="1.15"/>
<text x="208.6" y="274.7" font-size="8.8" text-anchor="middle" fill="#1a1a1a" stroke="#1a1a1a" stroke-width="0.2">10<tspan font-size="5.8" dy="-3.1">2</tspan></text>
<line x1="228.15" y1="259.5" x2="228.15" y2="264.5" stroke="#000" stroke-width="1.4"/>
<line x1="234.16" y1="259.5" x2="234.16" y2="262.8" stroke="#000" stroke-width="1.15"/>
<line x1="237.67" y1="259.5" x2="237.67" y2="262.8" stroke="#000" stroke-width="1.15"/>
<line x1="240.16" y1="259.5" x2="240.16" y2="262.8" stroke="#000" stroke-width="1.15"/>
<line x1="242.09" y1="259.5" x2="242.09" y2="262.8" stroke="#000" stroke-width="1.15"/>
<line x1="243.67" y1="259.5" x2="243.67" y2="262.8" stroke="#000" stroke-width="1.15"/>
<line x1="245.01" y1="259.5" x2="245.01" y2="262.8" stroke="#000" stroke-width="1.15"/>
<line x1="246.17" y1="259.5" x2="246.17" y2="262.8" stroke="#000" stroke-width="1.15"/>
<line x1="247.19" y1="259.5" x2="247.19" y2="262.8" stroke="#000" stroke-width="1.15"/>
<text x="228.55" y="274.7" font-size="8.8" text-anchor="middle" fill="#1a1a1a" stroke="#1a1a1a" stroke-width="0.2">10<tspan font-size="5.8" dy="-3.1">3</tspan></text>
<line x1="248.1" y1="259.5" x2="248.1" y2="264.5" stroke="#000" stroke-width="1.4"/>
<text x="248.5" y="274.7" font-size="8.8" text-anchor="middle" fill="#1a1a1a" stroke="#1a1a1a" stroke-width="0.2">10<tspan font-size="5.8" dy="-3.1">4</tspan></text>
<text x="222.3" y="188.2" font-size="9.9" text-anchor="start" font-weight="bold" fill="#000">IFN+</text>
<path d="M296.01 259.5L296.26 257.07L296.61 253.82L297.01 249.92L297.46 245.53L297.91 240.81L298.33 235.93L298.74 230.48L299.16 224.25L299.59 217.7L300.01 211.27L300.43 205.41L300.84 200.56L301.25 196.57L301.66 193.05L302.06 190.1L302.45 187.81L302.82 186.29L303.16 185.63L303.46 185.99L303.74 187.32L303.98 189.41L304.22 192.06L304.46 195.06L304.71 198.21L304.96 201.77L305.22 205.98L305.47 210.53L305.72 215.14L305.99 219.52L306.25 223.35L306.54 226.68L306.83 229.73L307.12 232.54L307.42 235.14L307.71 237.57L307.99 239.85L308.25 241.93L308.49 243.75L308.73 245.4L308.97 246.96L309.24 248.49L309.54 250.07L309.91 251.8L310.34 253.62L310.8 255.42L311.23 257.08L311.6 258.48L311.86 259.5L311.86 259.5L296.01 259.5Z" fill="#d0d0d3" stroke="none"/>
<path d="M296.01 259.5L296.26 257.07L296.61 253.82L297.01 249.92L297.46 245.53L297.91 240.81L298.33 235.93L298.74 230.48L299.16 224.25L299.59 217.7L300.01 211.27L300.43 205.41L300.84 200.56L301.25 196.57L301.66 193.05L302.06 190.1L302.45 187.81L302.82 186.29L303.16 185.63L303.46 185.99L303.74 187.32L303.98 189.41L304.22 192.06L304.46 195.06L304.71 198.21L304.96 201.77L305.22 205.98L305.47 210.53L305.72 215.14L305.99 219.52L306.25 223.35L306.54 226.68L306.83 229.73L307.12 232.54L307.42 235.14L307.71 237.57L307.99 239.85L308.25 241.93L308.49 243.75L308.73 245.4L308.97 246.96L309.24 248.49L309.54 250.07L309.91 251.8L310.34 253.62L310.8 255.42L311.23 257.08L311.6 258.48L311.86 259.5" fill="none" stroke="#3c3c3c" stroke-width="1.1" stroke-linejoin="round"/>
<path d="M305.1 259.5L305.78 259L306.47 258.27L307.15 257.06L307.84 257.19L308.53 256.37L309.21 255.31L309.9 254.95L310.58 253.03L311.27 251.38L311.96 249.53L312.64 249.46L313.33 247.45L314.01 246.4L314.7 243.1L315.39 241.35L316.07 240.27L316.76 234.58L317.44 230.7L318.13 227.5L318.82 223.82L319.5 221.63L320.19 218.65L320.87 213.79L321.56 211.83L322.25 208.04L322.93 204.32L323.62 201.29L324.3 196.25L324.99 193L325.68 188.93L326.36 187.72L327.05 185.66L327.73 185.6L328.42 186.42L329.11 190.78L329.79 195.56L330.48 197.02L331.16 200.97L331.85 205.23L332.54 209.18L333.22 213.79L333.91 217.43L334.59 220.66L335.28 224.76L335.97 226.55L336.65 231.4L337.34 234.04L338.02 238.67L338.71 240.36L339.4 243.36L340.08 247.74L340.77 249.56L341.45 250.28L342.14 253.23L342.83 254.05L343.51 256.57L344.2 258.25L344.89 258.12L345.57 258.5L346.26 259.5" fill="none" stroke="#5a984a" stroke-width="1.9" stroke-linejoin="round"/>
<path d="M304.52 259.5L305.2 258.96L305.89 258.11L306.57 257.5L307.26 257.76L307.95 257.27L308.63 255.71L309.32 254.78L310 252.44L310.69 251.26L311.38 249.93L312.06 248.46L312.75 246.66L313.43 246.28L314.12 243.96L314.81 242.6L315.49 238.17L316.18 236.91L316.86 231.08L317.55 229.07L318.24 223.62L318.92 221.12L319.61 217.52L320.29 212.85L320.98 211.95L321.67 208.44L322.35 202.21L323.04 199.76L323.72 197.46L324.41 191.2L325.1 188.58L325.78 189.09L326.47 186.4L327.15 186.84L327.84 187.6L328.53 190.23L329.21 195.94L329.9 197.99L330.58 203.95L331.27 207.3L331.96 208.86L332.64 213.53L333.33 216.87L334.01 219.78L334.7 223.62L335.39 227.59L336.07 232.37L336.76 234.35L337.45 237.24L338.13 240.31L338.82 243.78L339.5 246.95L340.19 249.23L340.88 250.74L341.56 252.83L342.25 255.68L342.93 256.86L343.62 257.76L344.31 258.31L344.99 258.45L345.68 259.5" fill="none" stroke="#e4aa55" stroke-width="1.9" stroke-linejoin="round"/>
<path d="M303.74 259.5L304.43 259.3L305.11 258.07L305.8 257.47L306.49 256.52L307.17 256.95L307.86 255.98L308.54 255.02L309.23 253.6L309.92 251.17L310.6 250.92L311.29 248.52L311.97 247.65L312.66 245.94L313.35 243.98L314.03 241.01L314.72 238.89L315.4 237.03L316.09 232.5L316.78 228.87L317.46 223.11L318.15 219.77L318.84 216.36L319.52 212.9L320.21 209.76L320.89 205.71L321.58 202.59L322.27 200.57L322.95 194.99L323.64 192.84L324.32 189.22L325.01 187.57L325.7 186.38L326.38 186.06L327.07 187.2L327.75 191.26L328.44 196.09L329.13 197.59L329.81 201.6L330.5 204.78L331.18 209.23L331.87 213.08L332.56 215.91L333.24 221.1L333.93 223.07L334.61 227.43L335.3 231.98L335.99 235.68L336.67 238.34L337.36 242.03L338.04 244.25L338.73 246.4L339.42 249.16L340.1 251.89L340.79 253.19L341.47 255.45L342.16 256.86L342.85 258.05L343.53 258.55L344.22 259.5L344.9 259.5" fill="none" stroke="#4a1767" stroke-width="1.9" stroke-linejoin="round"/>
<path d="M305.1 259.5L305.77 259.37L306.45 257.68L307.13 256.99L307.81 255.65L308.49 255.94L309.16 254.88L309.84 252.61L310.52 251.19L311.2 250.1L311.88 247.26L312.55 245.93L313.23 243.04L313.91 241.98L314.59 238.33L315.27 232.27L315.94 228.63L316.62 223.49L317.3 216.39L317.98 211.38L318.66 207.7L319.33 201.68L320.01 196.82L320.69 194.5L321.37 189.55L322.05 188.36L322.72 185.11L323.4 183.96L324.08 182.68L324.76 181.87L325.44 186.91L326.11 187.34L326.79 191.71L327.47 193.7L328.15 195.34L328.83 198.44L329.5 202.81L330.18 203.97L330.86 206.72L331.54 211.25L332.22 214.85L332.89 216.05L333.57 220.65L334.25 225.09L334.93 228.08L335.61 232.51L336.28 234.71L336.96 238.85L337.64 242.76L338.32 243.73L339 247.79L339.67 249.62L340.35 252.27L341.03 252.83L341.71 255.77L342.39 256.4L343.06 258.25L343.74 258.38L344.42 258.65L345.1 259.5" fill="none" stroke="#213d72" stroke-width="1.9" stroke-linejoin="round"/>
<path d="M303.94 259.5L304.62 258.24L305.31 259.18L305.99 257.45L306.68 257.78L307.37 255.64L308.05 256.47L308.74 253.79L309.42 252.9L310.11 251.18L310.8 249.41L311.48 249.46L312.17 247.74L312.85 245.44L313.54 244.78L314.23 242.88L314.91 240.41L315.6 235.64L316.28 231.8L316.97 228.09L317.66 225.94L318.34 220.65L319.03 218.48L319.71 216.01L320.4 212.1L321.09 208.9L321.77 206.47L322.46 201.38L323.14 198.47L323.83 194.58L324.52 190.76L325.2 189.46L325.89 188.65L326.57 186.62L327.26 187.52L327.95 192.74L328.63 195.37L329.32 201.94L330 205.34L330.69 208.86L331.38 210.02L332.06 214.08L332.75 217.3L333.44 221.83L334.12 224.65L334.81 227.23L335.49 233.01L336.18 236.61L336.87 240.11L337.55 242.06L338.24 243.86L338.92 246.9L339.61 249.46L340.3 251.37L340.98 253.98L341.67 254.27L342.35 256.73L343.04 258.02L343.73 258.67L344.41 258.46L345.1 259.5" fill="none" stroke="#a3123d" stroke-width="1.9" stroke-linejoin="round"/>
<rect x="293.5" y="177.3" width="77.3" height="82.2" fill="none" stroke="#000" stroke-width="1.9"/>
<line x1="289" y1="259.5" x2="293.5" y2="259.5" stroke="#000" stroke-width="1.25"/>
<line x1="289.9" y1="255.57" x2="293.5" y2="255.57" stroke="#000" stroke-width="1.25"/>
<line x1="289.9" y1="251.64" x2="293.5" y2="251.64" stroke="#000" stroke-width="1.25"/>
<line x1="289.9" y1="247.71" x2="293.5" y2="247.71" stroke="#000" stroke-width="1.25"/>
<line x1="289" y1="243.78" x2="293.5" y2="243.78" stroke="#000" stroke-width="1.25"/>
<line x1="289.9" y1="239.85" x2="293.5" y2="239.85" stroke="#000" stroke-width="1.25"/>
<line x1="289.9" y1="235.93" x2="293.5" y2="235.93" stroke="#000" stroke-width="1.25"/>
<line x1="289.9" y1="232" x2="293.5" y2="232" stroke="#000" stroke-width="1.25"/>
<line x1="289" y1="228.07" x2="293.5" y2="228.07" stroke="#000" stroke-width="1.25"/>
<line x1="289.9" y1="224.14" x2="293.5" y2="224.14" stroke="#000" stroke-width="1.25"/>
<line x1="289.9" y1="220.21" x2="293.5" y2="220.21" stroke="#000" stroke-width="1.25"/>
<line x1="289.9" y1="216.28" x2="293.5" y2="216.28" stroke="#000" stroke-width="1.25"/>
<line x1="289" y1="212.35" x2="293.5" y2="212.35" stroke="#000" stroke-width="1.25"/>
<line x1="289.9" y1="208.42" x2="293.5" y2="208.42" stroke="#000" stroke-width="1.25"/>
<line x1="289.9" y1="204.49" x2="293.5" y2="204.49" stroke="#000" stroke-width="1.25"/>
<line x1="289.9" y1="200.56" x2="293.5" y2="200.56" stroke="#000" stroke-width="1.25"/>
<line x1="289" y1="196.63" x2="293.5" y2="196.63" stroke="#000" stroke-width="1.25"/>
<line x1="289.9" y1="192.7" x2="293.5" y2="192.7" stroke="#000" stroke-width="1.25"/>
<line x1="289.9" y1="188.78" x2="293.5" y2="188.78" stroke="#000" stroke-width="1.25"/>
<line x1="289.9" y1="184.85" x2="293.5" y2="184.85" stroke="#000" stroke-width="1.25"/>
<line x1="289" y1="180.92" x2="293.5" y2="180.92" stroke="#000" stroke-width="1.25"/>
<line x1="290.3" y1="177.3" x2="293.5" y2="177.3" stroke="#000" stroke-width="1.3"/>
<text x="285.3" y="262.8" font-size="9.3" text-anchor="end" font-weight="normal" fill="#111" stroke="#111" stroke-width="0.22">0</text>
<text x="285.3" y="247.08" font-size="9.3" text-anchor="end" font-weight="normal" fill="#111" stroke="#111" stroke-width="0.22">20</text>
<text x="285.3" y="231.37" font-size="9.3" text-anchor="end" font-weight="normal" fill="#111" stroke="#111" stroke-width="0.22">40</text>
<text x="285.3" y="215.65" font-size="9.3" text-anchor="end" font-weight="normal" fill="#111" stroke="#111" stroke-width="0.22">60</text>
<text x="285.3" y="199.93" font-size="9.3" text-anchor="end" font-weight="normal" fill="#111" stroke="#111" stroke-width="0.22">80</text>
<text x="285.3" y="184.22" font-size="9.3" text-anchor="end" font-weight="normal" fill="#111" stroke="#111" stroke-width="0.22">100</text>
<line x1="293.5" y1="259.5" x2="293.5" y2="264.5" stroke="#000" stroke-width="1.4"/>
<line x1="299.32" y1="259.5" x2="299.32" y2="262.8" stroke="#000" stroke-width="1.15"/>
<line x1="302.72" y1="259.5" x2="302.72" y2="262.8" stroke="#000" stroke-width="1.15"/>
<line x1="305.13" y1="259.5" x2="305.13" y2="262.8" stroke="#000" stroke-width="1.15"/>
<line x1="307.01" y1="259.5" x2="307.01" y2="262.8" stroke="#000" stroke-width="1.15"/>
<line x1="308.54" y1="259.5" x2="308.54" y2="262.8" stroke="#000" stroke-width="1.15"/>
<line x1="309.83" y1="259.5" x2="309.83" y2="262.8" stroke="#000" stroke-width="1.15"/>
<line x1="310.95" y1="259.5" x2="310.95" y2="262.8" stroke="#000" stroke-width="1.15"/>
<line x1="311.94" y1="259.5" x2="311.94" y2="262.8" stroke="#000" stroke-width="1.15"/>
<text x="293.9" y="274.7" font-size="8.8" text-anchor="middle" fill="#1a1a1a" stroke="#1a1a1a" stroke-width="0.2">10<tspan font-size="5.8" dy="-3.1">0</tspan></text>
<line x1="312.82" y1="259.5" x2="312.82" y2="264.5" stroke="#000" stroke-width="1.4"/>
<line x1="318.64" y1="259.5" x2="318.64" y2="262.8" stroke="#000" stroke-width="1.15"/>
<line x1="322.05" y1="259.5" x2="322.05" y2="262.8" stroke="#000" stroke-width="1.15"/>
<line x1="324.46" y1="259.5" x2="324.46" y2="262.8" stroke="#000" stroke-width="1.15"/>
<line x1="326.33" y1="259.5" x2="326.33" y2="262.8" stroke="#000" stroke-width="1.15"/>
<line x1="327.86" y1="259.5" x2="327.86" y2="262.8" stroke="#000" stroke-width="1.15"/>
<line x1="329.16" y1="259.5" x2="329.16" y2="262.8" stroke="#000" stroke-width="1.15"/>
<line x1="330.28" y1="259.5" x2="330.28" y2="262.8" stroke="#000" stroke-width="1.15"/>
<line x1="331.27" y1="259.5" x2="331.27" y2="262.8" stroke="#000" stroke-width="1.15"/>
<text x="313.22" y="274.7" font-size="8.8" text-anchor="middle" fill="#1a1a1a" stroke="#1a1a1a" stroke-width="0.2">10<tspan font-size="5.8" dy="-3.1">1</tspan></text>
<line x1="332.15" y1="259.5" x2="332.15" y2="264.5" stroke="#000" stroke-width="1.4"/>
<line x1="337.97" y1="259.5" x2="337.97" y2="262.8" stroke="#000" stroke-width="1.15"/>
<line x1="341.37" y1="259.5" x2="341.37" y2="262.8" stroke="#000" stroke-width="1.15"/>
<line x1="343.78" y1="259.5" x2="343.78" y2="262.8" stroke="#000" stroke-width="1.15"/>
<line x1="345.66" y1="259.5" x2="345.66" y2="262.8" stroke="#000" stroke-width="1.15"/>
<line x1="347.19" y1="259.5" x2="347.19" y2="262.8" stroke="#000" stroke-width="1.15"/>
<line x1="348.48" y1="259.5" x2="348.48" y2="262.8" stroke="#000" stroke-width="1.15"/>
<line x1="349.6" y1="259.5" x2="349.6" y2="262.8" stroke="#000" stroke-width="1.15"/>
<line x1="350.59" y1="259.5" x2="350.59" y2="262.8" stroke="#000" stroke-width="1.15"/>
<text x="332.55" y="274.7" font-size="8.8" text-anchor="middle" fill="#1a1a1a" stroke="#1a1a1a" stroke-width="0.2">10<tspan font-size="5.8" dy="-3.1">2</tspan></text>
<line x1="351.48" y1="259.5" x2="351.48" y2="264.5" stroke="#000" stroke-width="1.4"/>
<line x1="357.29" y1="259.5" x2="357.29" y2="262.8" stroke="#000" stroke-width="1.15"/>
<line x1="360.7" y1="259.5" x2="360.7" y2="262.8" stroke="#000" stroke-width="1.15"/>
<line x1="363.11" y1="259.5" x2="363.11" y2="262.8" stroke="#000" stroke-width="1.15"/>
<line x1="364.98" y1="259.5" x2="364.98" y2="262.8" stroke="#000" stroke-width="1.15"/>
<line x1="366.51" y1="259.5" x2="366.51" y2="262.8" stroke="#000" stroke-width="1.15"/>
<line x1="367.81" y1="259.5" x2="367.81" y2="262.8" stroke="#000" stroke-width="1.15"/>
<line x1="368.93" y1="259.5" x2="368.93" y2="262.8" stroke="#000" stroke-width="1.15"/>
<line x1="369.92" y1="259.5" x2="369.92" y2="262.8" stroke="#000" stroke-width="1.15"/>
<text x="351.88" y="274.7" font-size="8.8" text-anchor="middle" fill="#1a1a1a" stroke="#1a1a1a" stroke-width="0.2">10<tspan font-size="5.8" dy="-3.1">3</tspan></text>
<line x1="370.8" y1="259.5" x2="370.8" y2="264.5" stroke="#000" stroke-width="1.4"/>
<text x="371.2" y="274.7" font-size="8.8" text-anchor="middle" fill="#1a1a1a" stroke="#1a1a1a" stroke-width="0.2">10<tspan font-size="5.8" dy="-3.1">4</tspan></text>
<text x="347.6" y="188.5" font-size="9.9" text-anchor="start" font-weight="bold" fill="#000">IFN-</text>
<path d="M413.83 259.5L414.08 257.12L414.4 253.97L414.79 250.17L415.23 245.82L415.68 241.04L416.14 235.93L416.61 229.98L417.13 223L417.67 215.59L418.21 208.33L418.73 201.82L419.2 196.63L419.64 192.66L420.06 189.39L420.45 186.86L420.82 185.11L421.17 184.16L421.5 184.06L421.81 185.06L422.07 187.17L422.32 190.1L422.56 193.52L422.79 197.11L423.04 200.56L423.28 204L423.51 207.69L423.75 211.56L423.99 215.52L424.26 219.48L424.57 223.35L424.94 227.26L425.34 231.3L425.77 235.34L426.21 239.24L426.65 242.89L427.07 246.14L427.49 249.07L427.93 251.79L428.37 254.24L428.78 256.39L429.12 258.16L429.37 259.5L429.37 259.5L413.83 259.5Z" fill="#d0d0d3" stroke="none"/>
<path d="M413.83 259.5L414.08 257.12L414.4 253.97L414.79 250.17L415.23 245.82L415.68 241.04L416.14 235.93L416.61 229.98L417.13 223L417.67 215.59L418.21 208.33L418.73 201.82L419.2 196.63L419.64 192.66L420.06 189.39L420.45 186.86L420.82 185.11L421.17 184.16L421.5 184.06L421.81 185.06L422.07 187.17L422.32 190.1L422.56 193.52L422.79 197.11L423.04 200.56L423.28 204L423.51 207.69L423.75 211.56L423.99 215.52L424.26 219.48L424.57 223.35L424.94 227.26L425.34 231.3L425.77 235.34L426.21 239.24L426.65 242.89L427.07 246.14L427.49 249.07L427.93 251.79L428.37 254.24L428.78 256.39L429.12 258.16L429.37 259.5" fill="none" stroke="#3c3c3c" stroke-width="1.1" stroke-linejoin="round"/>
<path d="M421.31 259.5L422 259.09L422.68 258.32L423.36 257.74L424.04 256.82L424.72 255.76L425.41 253.85L426.09 252.91L426.77 250.24L427.45 249.52L428.13 246.78L428.82 244.54L429.5 242.78L430.18 239.1L430.86 237.84L431.55 234.17L432.23 231.16L432.91 230.4L433.59 226.11L434.27 223.9L434.96 222L435.64 221.52L436.32 217.75L437 214.37L437.68 212.22L438.37 209.15L439.05 205.5L439.73 202.25L440.41 197.01L441.09 194.62L441.78 190.85L442.46 187.12L443.14 184.19L443.82 187.21L444.51 191.19L445.19 192.23L445.87 197.87L446.55 203.04L447.23 208.05L447.92 212.58L448.6 216.22L449.28 219.09L449.96 221.97L450.64 226.48L451.33 228.32L452.01 231.85L452.69 237.14L453.37 238.31L454.06 242.05L454.74 243.61L455.42 246.91L456.1 248.33L456.78 251.02L457.47 252.49L458.15 254.35L458.83 256.7L459.51 257.64L460.19 258.33L460.88 258.63L461.56 259.08L462.24 259.17L462.92 259.5" fill="none" stroke="#5a984a" stroke-width="1.9" stroke-linejoin="round"/>
<path d="M420.16 259.5L420.84 258.84L421.53 257.79L422.21 256.81L422.89 257.1L423.57 255.1L424.26 253.76L424.94 252.1L425.62 251.33L426.3 249.49L426.98 246.6L427.67 243.59L428.35 242.52L429.03 239.69L429.71 237.83L430.39 234.03L431.08 231.19L431.76 230L432.44 225.83L433.12 225.96L433.81 221.6L434.49 219.1L435.17 218.63L435.85 214.14L436.53 211.43L437.22 206.91L437.9 205.81L438.58 201.35L439.26 196.71L439.94 193.67L440.63 191.23L441.31 189.01L441.99 184.22L442.67 186.6L443.36 188.01L444.04 194.96L444.72 197.93L445.4 202.97L446.08 206.83L446.77 213.23L447.45 215.58L448.13 219.82L448.81 221.14L449.49 225.68L450.18 227.62L450.86 232.77L451.54 235.22L452.22 238.24L452.9 242.64L453.59 244.44L454.27 245.84L454.95 248.91L455.63 251.21L456.32 253.18L457 253.8L457.68 256.38L458.36 256.84L459.04 257.79L459.73 258.39L460.41 259.46L461.09 259.17L461.77 259.5" fill="none" stroke="#4a1767" stroke-width="1.9" stroke-linejoin="round"/>
<path d="M420.55 259.5L421.23 259.38L421.91 258.03L422.59 257.88L423.27 257.26L423.96 255.61L424.64 254.16L425.32 252.46L426 250.61L426.69 248.97L427.37 246.89L428.05 243.72L428.73 242.35L429.41 239.27L430.1 236.66L430.78 233.98L431.46 231.19L432.14 230.45L432.82 227.89L433.51 224.1L434.19 222.26L434.87 221.02L435.55 217.11L436.24 213.64L436.92 210.6L437.6 209.17L438.28 205.54L438.96 203.04L439.65 196.41L440.33 195.04L441.01 189.84L441.69 187.48L442.37 185.39L443.06 186.42L443.74 188.58L444.42 193.46L445.1 199.56L445.78 205.15L446.47 208.19L447.15 210.51L447.83 216.24L448.51 218L449.2 221.49L449.88 226.22L450.56 229.64L451.24 231.96L451.92 236.07L452.61 239.37L453.29 242.07L453.97 245.48L454.65 246.4L455.33 248.77L456.02 250.85L456.7 253.04L457.38 253.75L458.06 255.23L458.75 256.94L459.43 258.58L460.11 259.05L460.79 259.42L461.47 259.17L462.16 259.5" fill="none" stroke="#213d72" stroke-width="1.9" stroke-linejoin="round"/>
<path d="M420.93 259.5L421.61 258.57L422.29 257.77L422.98 257.5L423.66 256.62L424.34 255.68L425.02 253.01L425.7 252.65L426.39 251L427.07 248.66L427.75 246.49L428.43 244.11L429.12 241.98L429.8 240.08L430.48 237.16L431.16 234.67L431.84 231.34L432.53 229.67L433.21 227.41L433.89 224.56L434.57 221.24L435.25 219.32L435.94 215.67L436.62 212.48L437.3 210.43L437.98 208.03L438.67 202.54L439.35 198.91L440.03 196.44L440.71 191.62L441.39 189.22L442.08 184.01L442.76 182.33L443.44 183.3L444.12 186.01L444.8 192.72L445.49 196.97L446.17 201.54L446.85 205.63L447.53 210.69L448.21 214.97L448.9 216.92L449.58 221.87L450.26 223.68L450.94 229.29L451.63 231.76L452.31 235.26L452.99 239.49L453.67 241.55L454.35 244.12L455.04 246.77L455.72 247.77L456.4 249.88L457.08 251.71L457.76 254.7L458.45 256.61L459.13 257.17L459.81 258.5L460.49 258.1L461.18 259.24L461.86 259.16L462.54 259.5" fill="none" stroke="#e4aa55" stroke-width="2" stroke-linejoin="round"/>
<path d="M420.35 259.5L421.04 258.33L421.72 258.09L422.4 257.31L423.08 256.25L423.77 256.28L424.45 254.28L425.13 252.16L425.81 250.43L426.49 249.09L427.18 247.95L427.86 245.42L428.54 242.08L429.22 241.98L429.9 239.34L430.59 235.57L431.27 234.37L431.95 232.55L432.63 229.91L433.31 226.14L434 225.49L434.68 223.11L435.36 220.21L436.04 217.04L436.73 214.98L437.41 213.08L438.09 208.52L438.77 206.91L439.45 203.46L440.14 199.64L440.82 194.82L441.5 193.32L442.18 190.27L442.86 192.68L443.55 195.74L444.23 199.84L444.91 202.56L445.59 206.79L446.28 212.51L446.96 215.85L447.64 219.63L448.32 221.01L449 225.01L449.69 228.61L450.37 230.63L451.05 234.1L451.73 237.69L452.41 241.35L453.1 242.94L453.78 245.49L454.46 247.88L455.14 250.37L455.83 250.7L456.51 252.52L457.19 254.37L457.87 255.23L458.55 257.06L459.24 258.24L459.92 259.13L460.6 258.77L461.28 259.19L461.96 259.5" fill="none" stroke="#a3123d" stroke-width="1.9" stroke-linejoin="round"/>
<rect x="410" y="177.3" width="76.7" height="82.2" fill="none" stroke="#000" stroke-width="1.9"/>
<line x1="405.5" y1="259.5" x2="410" y2="259.5" stroke="#000" stroke-width="1.25"/>
<line x1="406.4" y1="255.57" x2="410" y2="255.57" stroke="#000" stroke-width="1.25"/>
<line x1="406.4" y1="251.64" x2="410" y2="251.64" stroke="#000" stroke-width="1.25"/>
<line x1="406.4" y1="247.71" x2="410" y2="247.71" stroke="#000" stroke-width="1.25"/>
<line x1="405.5" y1="243.78" x2="410" y2="243.78" stroke="#000" stroke-width="1.25"/>
<line x1="406.4" y1="239.85" x2="410" y2="239.85" stroke="#000" stroke-width="1.25"/>
<line x1="406.4" y1="235.93" x2="410" y2="235.93" stroke="#000" stroke-width="1.25"/>
<line x1="406.4" y1="232" x2="410" y2="232" stroke="#000" stroke-width="1.25"/>
<line x1="405.5" y1="228.07" x2="410" y2="228.07" stroke="#000" stroke-width="1.25"/>
<line x1="406.4" y1="224.14" x2="410" y2="224.14" stroke="#000" stroke-width="1.25"/>
<line x1="406.4" y1="220.21" x2="410" y2="220.21" stroke="#000" stroke-width="1.25"/>
<line x1="406.4" y1="216.28" x2="410" y2="216.28" stroke="#000" stroke-width="1.25"/>
<line x1="405.5" y1="212.35" x2="410" y2="212.35" stroke="#000" stroke-width="1.25"/>
<line x1="406.4" y1="208.42" x2="410" y2="208.42" stroke="#000" stroke-width="1.25"/>
<line x1="406.4" y1="204.49" x2="410" y2="204.49" stroke="#000" stroke-width="1.25"/>
<line x1="406.4" y1="200.56" x2="410" y2="200.56" stroke="#000" stroke-width="1.25"/>
<line x1="405.5" y1="196.63" x2="410" y2="196.63" stroke="#000" stroke-width="1.25"/>
<line x1="406.4" y1="192.7" x2="410" y2="192.7" stroke="#000" stroke-width="1.25"/>
<line x1="406.4" y1="188.78" x2="410" y2="188.78" stroke="#000" stroke-width="1.25"/>
<line x1="406.4" y1="184.85" x2="410" y2="184.85" stroke="#000" stroke-width="1.25"/>
<line x1="405.5" y1="180.92" x2="410" y2="180.92" stroke="#000" stroke-width="1.25"/>
<line x1="406.8" y1="177.3" x2="410" y2="177.3" stroke="#000" stroke-width="1.3"/>
<text x="402.1" y="262.8" font-size="9.3" text-anchor="end" font-weight="normal" fill="#111" stroke="#111" stroke-width="0.22">0</text>
<text x="402.1" y="247.08" font-size="9.3" text-anchor="end" font-weight="normal" fill="#111" stroke="#111" stroke-width="0.22">20</text>
<text x="402.1" y="231.37" font-size="9.3" text-anchor="end" font-weight="normal" fill="#111" stroke="#111" stroke-width="0.22">40</text>
<text x="402.1" y="215.65" font-size="9.3" text-anchor="end" font-weight="normal" fill="#111" stroke="#111" stroke-width="0.22">60</text>
<text x="402.1" y="199.93" font-size="9.3" text-anchor="end" font-weight="normal" fill="#111" stroke="#111" stroke-width="0.22">80</text>
<text x="402.1" y="184.22" font-size="9.3" text-anchor="end" font-weight="normal" fill="#111" stroke="#111" stroke-width="0.22">100</text>
<line x1="410" y1="259.5" x2="410" y2="264.5" stroke="#000" stroke-width="1.4"/>
<line x1="415.77" y1="259.5" x2="415.77" y2="262.8" stroke="#000" stroke-width="1.15"/>
<line x1="419.15" y1="259.5" x2="419.15" y2="262.8" stroke="#000" stroke-width="1.15"/>
<line x1="421.54" y1="259.5" x2="421.54" y2="262.8" stroke="#000" stroke-width="1.15"/>
<line x1="423.4" y1="259.5" x2="423.4" y2="262.8" stroke="#000" stroke-width="1.15"/>
<line x1="424.92" y1="259.5" x2="424.92" y2="262.8" stroke="#000" stroke-width="1.15"/>
<line x1="426.2" y1="259.5" x2="426.2" y2="262.8" stroke="#000" stroke-width="1.15"/>
<line x1="427.32" y1="259.5" x2="427.32" y2="262.8" stroke="#000" stroke-width="1.15"/>
<line x1="428.3" y1="259.5" x2="428.3" y2="262.8" stroke="#000" stroke-width="1.15"/>
<text x="410.4" y="274.7" font-size="8.8" text-anchor="middle" fill="#1a1a1a" stroke="#1a1a1a" stroke-width="0.2">10<tspan font-size="5.8" dy="-3.1">0</tspan></text>
<line x1="429.18" y1="259.5" x2="429.18" y2="264.5" stroke="#000" stroke-width="1.4"/>
<line x1="434.95" y1="259.5" x2="434.95" y2="262.8" stroke="#000" stroke-width="1.15"/>
<line x1="438.32" y1="259.5" x2="438.32" y2="262.8" stroke="#000" stroke-width="1.15"/>
<line x1="440.72" y1="259.5" x2="440.72" y2="262.8" stroke="#000" stroke-width="1.15"/>
<line x1="442.58" y1="259.5" x2="442.58" y2="262.8" stroke="#000" stroke-width="1.15"/>
<line x1="444.1" y1="259.5" x2="444.1" y2="262.8" stroke="#000" stroke-width="1.15"/>
<line x1="445.38" y1="259.5" x2="445.38" y2="262.8" stroke="#000" stroke-width="1.15"/>
<line x1="446.49" y1="259.5" x2="446.49" y2="262.8" stroke="#000" stroke-width="1.15"/>
<line x1="447.47" y1="259.5" x2="447.47" y2="262.8" stroke="#000" stroke-width="1.15"/>
<text x="429.57" y="274.7" font-size="8.8" text-anchor="middle" fill="#1a1a1a" stroke="#1a1a1a" stroke-width="0.2">10<tspan font-size="5.8" dy="-3.1">1</tspan></text>
<line x1="448.35" y1="259.5" x2="448.35" y2="264.5" stroke="#000" stroke-width="1.4"/>
<line x1="454.12" y1="259.5" x2="454.12" y2="262.8" stroke="#000" stroke-width="1.15"/>
<line x1="457.5" y1="259.5" x2="457.5" y2="262.8" stroke="#000" stroke-width="1.15"/>
<line x1="459.89" y1="259.5" x2="459.89" y2="262.8" stroke="#000" stroke-width="1.15"/>
<line x1="461.75" y1="259.5" x2="461.75" y2="262.8" stroke="#000" stroke-width="1.15"/>
<line x1="463.27" y1="259.5" x2="463.27" y2="262.8" stroke="#000" stroke-width="1.15"/>
<line x1="464.55" y1="259.5" x2="464.55" y2="262.8" stroke="#000" stroke-width="1.15"/>
<line x1="465.67" y1="259.5" x2="465.67" y2="262.8" stroke="#000" stroke-width="1.15"/>
<line x1="466.65" y1="259.5" x2="466.65" y2="262.8" stroke="#000" stroke-width="1.15"/>
<text x="448.75" y="274.7" font-size="8.8" text-anchor="middle" fill="#1a1a1a" stroke="#1a1a1a" stroke-width="0.2">10<tspan font-size="5.8" dy="-3.1">2</tspan></text>
<line x1="467.52" y1="259.5" x2="467.52" y2="264.5" stroke="#000" stroke-width="1.4"/>
<line x1="473.3" y1="259.5" x2="473.3" y2="262.8" stroke="#000" stroke-width="1.15"/>
<line x1="476.67" y1="259.5" x2="476.67" y2="262.8" stroke="#000" stroke-width="1.15"/>
<line x1="479.07" y1="259.5" x2="479.07" y2="262.8" stroke="#000" stroke-width="1.15"/>
<line x1="480.93" y1="259.5" x2="480.93" y2="262.8" stroke="#000" stroke-width="1.15"/>
<line x1="482.45" y1="259.5" x2="482.45" y2="262.8" stroke="#000" stroke-width="1.15"/>
<line x1="483.73" y1="259.5" x2="483.73" y2="262.8" stroke="#000" stroke-width="1.15"/>
<line x1="484.84" y1="259.5" x2="484.84" y2="262.8" stroke="#000" stroke-width="1.15"/>
<line x1="485.82" y1="259.5" x2="485.82" y2="262.8" stroke="#000" stroke-width="1.15"/>
<text x="467.92" y="274.7" font-size="8.8" text-anchor="middle" fill="#1a1a1a" stroke="#1a1a1a" stroke-width="0.2">10<tspan font-size="5.8" dy="-3.1">3</tspan></text>
<line x1="486.7" y1="259.5" x2="486.7" y2="264.5" stroke="#000" stroke-width="1.4"/>
<text x="487.1" y="274.7" font-size="8.8" text-anchor="middle" fill="#1a1a1a" stroke="#1a1a1a" stroke-width="0.2">10<tspan font-size="5.8" dy="-3.1">4</tspan></text>
<text x="459.9" y="188.4" font-size="9.9" text-anchor="start" font-weight="bold" fill="#000">IFN+</text>
<text transform="translate(27.2 218.5) rotate(-90) scale(0.66 1)" font-size="13" font-weight="bold" text-anchor="middle" fill="#1a1a1a" stroke="#1a1a1a" stroke-width="0">% of Max</text>
<text transform="translate(114.4 292.6) scale(0.62 1)" font-size="12.3" font-weight="bold" fill="#1a1a1a">PD-L1</text>
<line x1="142.7" y1="288.8" x2="184.4" y2="288.8" stroke="#000" stroke-width="1.5"/>
<path d="M182.4 285.7L190.4 288.8L182.4 291.9Z" fill="#000"/>
<text transform="translate(355 292.6) scale(0.66 1)" font-size="12.3" font-weight="bold" fill="#1a1a1a">CD86</text>
<line x1="380" y1="288.8" x2="422.8" y2="288.8" stroke="#000" stroke-width="1.5"/>
<path d="M420.8 285.7L428.8 288.8L420.8 291.9Z" fill="#000"/>
<line x1="137.7" y1="310.4" x2="154.9" y2="310.4" stroke="#d0d0d3" stroke-width="3"/>
<text x="159.3" y="313.6" font-size="9" text-anchor="start" font-weight="normal" fill="#333" stroke="#333" stroke-width="0.22">Isotype control</text>
<line x1="137.7" y1="324" x2="154.9" y2="324" stroke="#4a1767" stroke-width="3"/>
<text x="159.3" y="327.2" font-size="9" text-anchor="start" font-weight="normal" fill="#333" stroke="#333" stroke-width="0.22">No cytokine</text>
<line x1="241.5" y1="310.4" x2="258.7" y2="310.4" stroke="#213d72" stroke-width="3"/>
<text x="263.9" y="313.6" font-size="9" text-anchor="start" font-weight="normal" fill="#333" stroke="#333" stroke-width="0.22">IL1a</text>
<line x1="241.5" y1="324" x2="258.7" y2="324" stroke="#5a984a" stroke-width="3"/>
<text x="263.9" y="327.2" font-size="9" text-anchor="start" font-weight="normal" fill="#333" stroke="#333" stroke-width="0.22">IL17A</text>
<line x1="310.7" y1="310.4" x2="327.9" y2="310.4" stroke="#e4aa55" stroke-width="3"/>
<text x="332.3" y="313.6" font-size="9" text-anchor="start" font-weight="normal" fill="#333" stroke="#333" stroke-width="0.22">IL23</text>
<line x1="310.7" y1="324" x2="327.9" y2="324" stroke="#a3123d" stroke-width="3"/>
<text x="332.3" y="327.2" font-size="9" text-anchor="start" font-weight="normal" fill="#333" stroke="#333" stroke-width="0.22">IL27</text>
<path d="M58.48 601.8L58.77 599.41L59.17 596.24L59.65 592.42L60.15 588.05L60.64 583.25L61.06 578.11L61.44 572.11L61.81 565.04L62.16 557.53L62.49 550.21L62.79 543.7L63.05 538.63L63.27 534.9L63.45 531.99L63.6 529.89L63.74 528.6L63.88 528.09L64.05 528.36L64.23 529.57L64.42 531.75L64.62 534.73L64.82 538.31L65.03 542.3L65.24 546.52L65.45 551.42L65.67 557.23L65.9 563.45L66.13 569.6L66.37 575.18L66.63 579.69L66.91 583.07L67.2 585.69L67.51 587.73L67.82 589.4L68.13 590.87L68.42 592.32L68.7 593.67L68.99 594.75L69.26 595.63L69.53 596.39L69.78 597.1L70.01 597.85L70.22 598.65L70.42 599.43L70.61 600.17L70.77 600.83L70.9 601.39L71 601.8L71 601.8L58.48 601.8Z" fill="#d0d0d3" stroke="none"/>
<path d="M58.48 601.8L58.77 599.41L59.17 596.24L59.65 592.42L60.15 588.05L60.64 583.25L61.06 578.11L61.44 572.11L61.81 565.04L62.16 557.53L62.49 550.21L62.79 543.7L63.05 538.63L63.27 534.9L63.45 531.99L63.6 529.89L63.74 528.6L63.88 528.09L64.05 528.36L64.23 529.57L64.42 531.75L64.62 534.73L64.82 538.31L65.03 542.3L65.24 546.52L65.45 551.42L65.67 557.23L65.9 563.45L66.13 569.6L66.37 575.18L66.63 579.69L66.91 583.07L67.2 585.69L67.51 587.73L67.82 589.4L68.13 590.87L68.42 592.32L68.7 593.67L68.99 594.75L69.26 595.63L69.53 596.39L69.78 597.1L70.01 597.85L70.22 598.65L70.42 599.43L70.61 600.17L70.77 600.83L70.9 601.39L71 601.8" fill="none" stroke="#3c3c3c" stroke-width="1.1" stroke-linejoin="round"/>
<path d="M69.61 601.8L70.31 601.55L71 599.98L71.7 599.3L72.39 598.8L73.09 598.5L73.78 596.69L74.48 595.87L75.18 595.63L75.87 594.87L76.57 594.59L77.26 594.23L77.96 592.58L78.65 591.21L79.35 591.43L80.05 588.88L80.74 588.56L81.44 586.27L82.13 583.78L82.83 578L83.52 574.73L84.22 570.2L84.91 566.39L85.61 563.11L86.31 556.92L87 550.12L87.7 543.25L88.39 532.37L89.09 528.57L89.78 529.22L90.48 530.31L91.18 538.33L91.87 543.99L92.57 554.57L93.26 564.86L93.96 575.47L94.65 582.36L95.35 588.48L96.05 593.1L96.74 594.91L97.44 598.52L98.13 599.52L98.83 601.8" fill="none" stroke="#e4aa55" stroke-width="2" stroke-linejoin="round"/>
<path d="M70.61 601.8L71.3 600.27L72 600.81L72.69 600.24L73.39 597.7L74.08 598.38L74.78 597.7L75.47 595.86L76.17 595.64L76.87 593.72L77.56 594.22L78.26 591.83L78.95 592.21L79.65 590.62L80.34 588.99L81.04 588.45L81.73 586.28L82.43 584.33L83.13 582.82L83.82 577.04L84.52 573.7L85.21 570.08L85.91 565.73L86.6 558.7L87.3 553.8L88 546.03L88.69 538.03L89.39 528.68L90.08 524.03L90.78 523.52L91.47 527.24L92.17 534.54L92.87 540.85L93.56 552.52L94.26 562.26L94.95 572.47L95.65 580.93L96.34 587.88L97.04 590.96L97.73 594.95L98.43 598.44L99.13 600.65L99.82 601.8" fill="none" stroke="#5a984a" stroke-width="1.9" stroke-linejoin="round"/>
<path d="M71.2 601.8L71.9 600.32L72.59 599.45L73.29 598.72L73.98 599.35L74.68 597.62L75.38 597.12L76.07 596.1L76.77 596.06L77.46 595.13L78.16 593.79L78.85 593.37L79.55 591.92L80.24 591.87L80.94 590.85L81.64 588.39L82.33 587.43L83.03 584.79L83.72 581.15L84.42 578.37L85.11 575.09L85.81 568.79L86.5 564.61L87.2 559.25L87.9 553.68L88.59 545.93L89.29 539.37L89.98 529.36L90.68 524.71L91.37 523.96L92.07 527.08L92.77 534.36L93.46 543.64L94.16 552.03L94.85 562.44L95.55 573.43L96.24 581.43L96.94 586.73L97.64 592.33L98.33 595.92L99.03 598.18L99.72 599.34L100.42 601.8" fill="none" stroke="#4a1767" stroke-width="1.9" stroke-linejoin="round"/>
<path d="M71.6 601.8L72.29 600.68L72.99 599.67L73.69 600L74.38 597.78L75.08 598.43L75.77 596.76L76.47 597.05L77.16 594.96L77.86 595.35L78.56 593.42L79.25 592.51L79.95 591.47L80.64 591.19L81.34 589.39L82.03 588.05L82.73 588.4L83.42 585.12L84.12 581.02L84.82 577.89L85.51 574.63L86.21 570.73L86.9 564.34L87.6 561.74L88.29 554.23L88.99 547.44L89.69 541.27L90.38 532.24L91.08 526.47L91.77 525.61L92.47 529.55L93.16 533.82L93.86 542.17L94.55 553.49L95.25 562.74L95.95 575.34L96.64 582.68L97.34 586.98L98.03 591.23L98.73 594.79L99.42 597.04L100.12 599.32L100.81 601.8" fill="none" stroke="#213d72" stroke-width="1.9" stroke-linejoin="round"/>
<path d="M92.07 601.8L92.79 599.9L93.51 596.68L94.23 594.13L94.96 591.96L95.68 586.25L96.4 582.18L97.12 579.07L97.84 572.05L98.56 569.11L99.28 564.04L100.01 558.72L100.73 552.74L101.45 547.18L102.17 537.12L102.89 528.73L103.61 523.82L104.33 525.81L105.06 536.37L105.78 549.36L106.5 559.93L107.22 567.17L107.94 575.24L108.66 583.55L109.38 588.29L110.1 594.55L110.83 599.34L111.55 601.8" fill="none" stroke="#a3123d" stroke-width="1.9" stroke-linejoin="round"/>
<rect x="55.5" y="519.2" width="79.5" height="82.6" fill="none" stroke="#000" stroke-width="1.9"/>
<line x1="51" y1="601.8" x2="55.5" y2="601.8" stroke="#000" stroke-width="1.25"/>
<line x1="53.3" y1="597.85" x2="55.5" y2="597.85" stroke="#000" stroke-width="1.25"/>
<line x1="53.3" y1="593.9" x2="55.5" y2="593.9" stroke="#000" stroke-width="1.25"/>
<line x1="53.3" y1="589.96" x2="55.5" y2="589.96" stroke="#000" stroke-width="1.25"/>
<line x1="51" y1="586.01" x2="55.5" y2="586.01" stroke="#000" stroke-width="1.25"/>
<line x1="53.3" y1="582.06" x2="55.5" y2="582.06" stroke="#000" stroke-width="1.25"/>
<line x1="53.3" y1="578.11" x2="55.5" y2="578.11" stroke="#000" stroke-width="1.25"/>
<line x1="53.3" y1="574.16" x2="55.5" y2="574.16" stroke="#000" stroke-width="1.25"/>
<line x1="51" y1="570.21" x2="55.5" y2="570.21" stroke="#000" stroke-width="1.25"/>
<line x1="53.3" y1="566.27" x2="55.5" y2="566.27" stroke="#000" stroke-width="1.25"/>
<line x1="53.3" y1="562.32" x2="55.5" y2="562.32" stroke="#000" stroke-width="1.25"/>
<line x1="53.3" y1="558.37" x2="55.5" y2="558.37" stroke="#000" stroke-width="1.25"/>
<line x1="51" y1="554.42" x2="55.5" y2="554.42" stroke="#000" stroke-width="1.25"/>
<line x1="53.3" y1="550.47" x2="55.5" y2="550.47" stroke="#000" stroke-width="1.25"/>
<line x1="53.3" y1="546.52" x2="55.5" y2="546.52" stroke="#000" stroke-width="1.25"/>
<line x1="53.3" y1="542.58" x2="55.5" y2="542.58" stroke="#000" stroke-width="1.25"/>
<line x1="51" y1="538.63" x2="55.5" y2="538.63" stroke="#000" stroke-width="1.25"/>
<line x1="53.3" y1="534.68" x2="55.5" y2="534.68" stroke="#000" stroke-width="1.25"/>
<line x1="53.3" y1="530.73" x2="55.5" y2="530.73" stroke="#000" stroke-width="1.25"/>
<line x1="53.3" y1="526.78" x2="55.5" y2="526.78" stroke="#000" stroke-width="1.25"/>
<line x1="51" y1="522.83" x2="55.5" y2="522.83" stroke="#000" stroke-width="1.25"/>
<line x1="52.3" y1="519.2" x2="55.5" y2="519.2" stroke="#000" stroke-width="1.3"/>
<text x="46.3" y="605.1" font-size="9.3" text-anchor="end" font-weight="normal" fill="#111" stroke="#111" stroke-width="0.22">0</text>
<text x="46.3" y="589.31" font-size="9.3" text-anchor="end" font-weight="normal" fill="#111" stroke="#111" stroke-width="0.22">20</text>
<text x="46.3" y="573.51" font-size="9.3" text-anchor="end" font-weight="normal" fill="#111" stroke="#111" stroke-width="0.22">40</text>
<text x="46.3" y="557.72" font-size="9.3" text-anchor="end" font-weight="normal" fill="#111" stroke="#111" stroke-width="0.22">60</text>
<text x="46.3" y="541.93" font-size="9.3" text-anchor="end" font-weight="normal" fill="#111" stroke="#111" stroke-width="0.22">80</text>
<text x="46.3" y="526.13" font-size="9.3" text-anchor="end" font-weight="normal" fill="#111" stroke="#111" stroke-width="0.22">100</text>
<line x1="55.5" y1="601.8" x2="55.5" y2="606.8" stroke="#000" stroke-width="1.4"/>
<line x1="61.48" y1="601.8" x2="61.48" y2="605.1" stroke="#000" stroke-width="1.15"/>
<line x1="64.98" y1="601.8" x2="64.98" y2="605.1" stroke="#000" stroke-width="1.15"/>
<line x1="67.47" y1="601.8" x2="67.47" y2="605.1" stroke="#000" stroke-width="1.15"/>
<line x1="69.39" y1="601.8" x2="69.39" y2="605.1" stroke="#000" stroke-width="1.15"/>
<line x1="70.97" y1="601.8" x2="70.97" y2="605.1" stroke="#000" stroke-width="1.15"/>
<line x1="72.3" y1="601.8" x2="72.3" y2="605.1" stroke="#000" stroke-width="1.15"/>
<line x1="73.45" y1="601.8" x2="73.45" y2="605.1" stroke="#000" stroke-width="1.15"/>
<line x1="74.47" y1="601.8" x2="74.47" y2="605.1" stroke="#000" stroke-width="1.15"/>
<text x="55.9" y="617" font-size="8.8" text-anchor="middle" fill="#1a1a1a" stroke="#1a1a1a" stroke-width="0.2">10<tspan font-size="5.8" dy="-3.1">0</tspan></text>
<line x1="75.38" y1="601.8" x2="75.38" y2="606.8" stroke="#000" stroke-width="1.4"/>
<line x1="81.36" y1="601.8" x2="81.36" y2="605.1" stroke="#000" stroke-width="1.15"/>
<line x1="84.86" y1="601.8" x2="84.86" y2="605.1" stroke="#000" stroke-width="1.15"/>
<line x1="87.34" y1="601.8" x2="87.34" y2="605.1" stroke="#000" stroke-width="1.15"/>
<line x1="89.27" y1="601.8" x2="89.27" y2="605.1" stroke="#000" stroke-width="1.15"/>
<line x1="90.84" y1="601.8" x2="90.84" y2="605.1" stroke="#000" stroke-width="1.15"/>
<line x1="92.17" y1="601.8" x2="92.17" y2="605.1" stroke="#000" stroke-width="1.15"/>
<line x1="93.32" y1="601.8" x2="93.32" y2="605.1" stroke="#000" stroke-width="1.15"/>
<line x1="94.34" y1="601.8" x2="94.34" y2="605.1" stroke="#000" stroke-width="1.15"/>
<text x="75.78" y="617" font-size="8.8" text-anchor="middle" fill="#1a1a1a" stroke="#1a1a1a" stroke-width="0.2">10<tspan font-size="5.8" dy="-3.1">1</tspan></text>
<line x1="95.25" y1="601.8" x2="95.25" y2="606.8" stroke="#000" stroke-width="1.4"/>
<line x1="101.23" y1="601.8" x2="101.23" y2="605.1" stroke="#000" stroke-width="1.15"/>
<line x1="104.73" y1="601.8" x2="104.73" y2="605.1" stroke="#000" stroke-width="1.15"/>
<line x1="107.22" y1="601.8" x2="107.22" y2="605.1" stroke="#000" stroke-width="1.15"/>
<line x1="109.14" y1="601.8" x2="109.14" y2="605.1" stroke="#000" stroke-width="1.15"/>
<line x1="110.72" y1="601.8" x2="110.72" y2="605.1" stroke="#000" stroke-width="1.15"/>
<line x1="112.05" y1="601.8" x2="112.05" y2="605.1" stroke="#000" stroke-width="1.15"/>
<line x1="113.2" y1="601.8" x2="113.2" y2="605.1" stroke="#000" stroke-width="1.15"/>
<line x1="114.22" y1="601.8" x2="114.22" y2="605.1" stroke="#000" stroke-width="1.15"/>
<text x="95.65" y="617" font-size="8.8" text-anchor="middle" fill="#1a1a1a" stroke="#1a1a1a" stroke-width="0.2">10<tspan font-size="5.8" dy="-3.1">2</tspan></text>
<line x1="115.12" y1="601.8" x2="115.12" y2="606.8" stroke="#000" stroke-width="1.4"/>
<line x1="121.11" y1="601.8" x2="121.11" y2="605.1" stroke="#000" stroke-width="1.15"/>
<line x1="124.61" y1="601.8" x2="124.61" y2="605.1" stroke="#000" stroke-width="1.15"/>
<line x1="127.09" y1="601.8" x2="127.09" y2="605.1" stroke="#000" stroke-width="1.15"/>
<line x1="129.02" y1="601.8" x2="129.02" y2="605.1" stroke="#000" stroke-width="1.15"/>
<line x1="130.59" y1="601.8" x2="130.59" y2="605.1" stroke="#000" stroke-width="1.15"/>
<line x1="131.92" y1="601.8" x2="131.92" y2="605.1" stroke="#000" stroke-width="1.15"/>
<line x1="133.07" y1="601.8" x2="133.07" y2="605.1" stroke="#000" stroke-width="1.15"/>
<line x1="134.09" y1="601.8" x2="134.09" y2="605.1" stroke="#000" stroke-width="1.15"/>
<text x="115.53" y="617" font-size="8.8" text-anchor="middle" fill="#1a1a1a" stroke="#1a1a1a" stroke-width="0.2">10<tspan font-size="5.8" dy="-3.1">3</tspan></text>
<line x1="135" y1="601.8" x2="135" y2="606.8" stroke="#000" stroke-width="1.4"/>
<text x="135.4" y="617" font-size="8.8" text-anchor="middle" fill="#1a1a1a" stroke="#1a1a1a" stroke-width="0.2">10<tspan font-size="5.8" dy="-3.1">4</tspan></text>
<text x="113" y="529.3" font-size="9.3" text-anchor="start" font-weight="normal" fill="#111" stroke="#111" stroke-width="0.22">IFN-</text>
<path d="M171.5 601.8L171.78 599.45L172.17 596.39L172.62 592.67L173.12 588.35L173.62 583.48L174.1 578.11L174.57 571.62L175.06 563.84L175.56 555.51L176.05 547.37L176.5 540.18L176.9 534.68L177.24 530.87L177.54 528.16L177.8 526.39L178.04 525.41L178.27 525.06L178.5 525.2L178.72 525.96L178.92 527.48L179.11 529.65L179.3 532.31L179.49 535.35L179.7 538.63L179.92 542.47L180.14 547.05L180.36 552L180.6 556.97L180.84 561.58L181.1 565.48L181.38 568.67L181.68 571.44L181.99 573.87L182.3 576L182.61 577.92L182.9 579.69L183.17 581.2L183.43 582.38L183.69 583.34L183.94 584.19L184.21 585.05L184.5 586.01L184.81 587.09L185.14 588.2L185.47 589.31L185.82 590.39L186.16 591.41L186.5 592.32L186.84 593.13L187.18 593.84L187.52 594.5L187.86 595.1L188.19 595.69L188.5 596.27L188.79 596.85L189.06 597.41L189.32 597.95L189.58 598.47L189.84 598.96L190.1 599.43L190.39 599.9L190.69 600.37L191 600.81L191.29 601.22L191.53 601.55L191.7 601.8L191.7 601.8L171.5 601.8Z" fill="#d0d0d3" stroke="none"/>
<path d="M171.5 601.8L171.78 599.45L172.17 596.39L172.62 592.67L173.12 588.35L173.62 583.48L174.1 578.11L174.57 571.62L175.06 563.84L175.56 555.51L176.05 547.37L176.5 540.18L176.9 534.68L177.24 530.87L177.54 528.16L177.8 526.39L178.04 525.41L178.27 525.06L178.5 525.2L178.72 525.96L178.92 527.48L179.11 529.65L179.3 532.31L179.49 535.35L179.7 538.63L179.92 542.47L180.14 547.05L180.36 552L180.6 556.97L180.84 561.58L181.1 565.48L181.38 568.67L181.68 571.44L181.99 573.87L182.3 576L182.61 577.92L182.9 579.69L183.17 581.2L183.43 582.38L183.69 583.34L183.94 584.19L184.21 585.05L184.5 586.01L184.81 587.09L185.14 588.2L185.47 589.31L185.82 590.39L186.16 591.41L186.5 592.32L186.84 593.13L187.18 593.84L187.52 594.5L187.86 595.1L188.19 595.69L188.5 596.27L188.79 596.85L189.06 597.41L189.32 597.95L189.58 598.47L189.84 598.96L190.1 599.43L190.39 599.9L190.69 600.37L191 600.81L191.29 601.22L191.53 601.55L191.7 601.8" fill="none" stroke="#3c3c3c" stroke-width="1.1" stroke-linejoin="round"/>
<path d="M190.7 601.8L191.41 601.63L192.12 601.47L192.83 600.93L193.54 601.6L194.25 601.43L194.96 600.65L195.67 601.34L196.38 600.01L197.09 599.84L197.8 600.85L198.51 599.63L199.22 599.76L199.93 599.37L200.64 598.61L201.35 598.28L202.06 598.91L202.77 597.66L203.48 597.18L204.19 596.16L204.9 597.18L205.61 594.64L206.32 595.2L207.03 594.64L207.74 592.78L208.46 590.5L209.17 586.61L209.88 582.46L210.59 575.57L211.3 571.35L212.01 562.6L212.72 558.26L213.43 551.37L214.14 546.75L214.85 541.53L215.56 536.53L216.27 529.95L216.98 526.29L217.69 525.34L218.4 529.35L219.11 537.68L219.82 544.44L220.53 554.77L221.24 561.58L221.95 572.45L222.66 580.17L223.37 589.4L224.08 595.1L224.79 598.92L225.5 601.8" fill="none" stroke="#e4aa55" stroke-width="2" stroke-linejoin="round"/>
<path d="M191.5 601.8L192.21 601.63L192.92 601.46L193.63 601.06L194.34 600.8L195.05 600.21L195.76 601.27L196.47 601.31L197.18 599.87L197.89 600.5L198.6 600.26L199.31 599.33L200.02 600.25L200.73 598.81L201.44 599.33L202.15 599.8L202.86 597.91L203.57 598.04L204.28 598.36L204.99 596.24L205.7 595.58L206.41 594.81L207.12 594.12L207.83 592.64L208.54 593.73L209.26 589.86L209.97 586.86L210.68 582.13L211.39 575.31L212.1 569.57L212.81 562.3L213.52 555.69L214.23 549.87L214.94 545.13L215.65 538.53L216.36 533.53L217.07 527.22L217.78 522.67L218.49 523.11L219.2 528.2L219.91 536.53L220.62 543.11L221.33 553.12L222.04 560L222.75 571.75L223.46 579.43L224.17 589.84L224.88 594.18L225.59 599.14L226.3 601.8" fill="none" stroke="#5a984a" stroke-width="1.9" stroke-linejoin="round"/>
<path d="M191.9 601.8L192.61 601.63L193.32 601.46L194.03 601.8L194.74 601.7L195.45 600.79L196.16 601.3L196.87 601.2L197.58 600.47L198.29 600.36L199 600.53L199.71 600.06L200.42 599.11L201.13 600.17L201.84 599.86L202.55 599.88L203.26 599.13L203.97 598.91L204.68 596.66L205.39 597.24L206.1 595.16L206.81 596.02L207.52 593.62L208.23 593.64L208.94 592.3L209.66 590.54L210.37 587.71L211.08 582.18L211.79 575.14L212.5 570.13L213.21 564.12L213.92 555.5L214.63 549.54L215.34 544.62L216.05 538.11L216.76 531.5L217.47 528.82L218.18 525.46L218.89 524.35L219.6 529.43L220.31 535.88L221.02 545.25L221.73 551.6L222.44 560.55L223.15 571.21L223.86 580.89L224.57 589.3L225.28 593.83L225.99 598.19L226.7 601.8" fill="none" stroke="#213d72" stroke-width="1.9" stroke-linejoin="round"/>
<path d="M191.7 601.8L192.41 601.63L193.12 601.46L193.83 601.22L194.54 601.36L195.25 600.39L195.96 601.12L196.67 600.58L197.38 600.67L198.09 600.37L198.8 599.24L199.51 600.55L200.22 599.8L200.93 600.01L201.64 599.58L202.35 598.15L203.06 598.97L203.77 597.97L204.48 597.72L205.19 596.44L205.9 596.22L206.61 595.94L207.32 594.57L208.03 593.84L208.74 592.09L209.46 590.75L210.17 587.88L210.88 581.1L211.59 576.13L212.3 569.1L213.01 563.53L213.72 556.57L214.43 549.07L215.14 543.81L215.85 537.35L216.56 532.01L217.27 527.77L217.98 523.66L218.69 524.42L219.4 527.9L220.11 534.52L220.82 545.04L221.53 551.07L222.24 561.81L222.95 571.84L223.66 581.45L224.37 589.12L225.08 595.61L225.79 599.05L226.5 601.8" fill="none" stroke="#4a1767" stroke-width="1.9" stroke-linejoin="round"/>
<path d="M191.7 601.8L192.41 601.63L193.12 601.46L193.83 601.23L194.54 601.45L195.25 601.7L195.96 600.52L196.67 601.07L197.38 600.82L198.09 600.4L198.8 599.8L199.51 599.03L200.22 599.77L200.93 598.67L201.64 598.44L202.35 599.49L203.06 599.43L203.77 598.79L204.48 596.93L205.19 596.69L205.9 595.3L206.61 594.35L207.32 594.12L208.03 593.58L208.74 593.61L209.46 591.92L210.17 586.48L210.88 581.11L211.59 574.92L212.3 568.95L213.01 562.23L213.72 555.89L214.43 548.73L215.14 545.09L215.85 538.19L216.56 533.5L217.27 526.94L217.98 522.86L218.69 524.92L219.4 529.73L220.11 536.29L220.82 544.36L221.53 551.58L222.24 561.69L222.95 570.2L223.66 581.08L224.37 588.71L225.08 595.38L225.79 598.61L226.5 601.8" fill="none" stroke="#a3123d" stroke-width="2" stroke-linejoin="round"/>
<rect x="168.1" y="519.2" width="80" height="82.6" fill="none" stroke="#000" stroke-width="1.9"/>
<line x1="163.6" y1="601.8" x2="168.1" y2="601.8" stroke="#000" stroke-width="1.25"/>
<line x1="165.9" y1="597.85" x2="168.1" y2="597.85" stroke="#000" stroke-width="1.25"/>
<line x1="165.9" y1="593.9" x2="168.1" y2="593.9" stroke="#000" stroke-width="1.25"/>
<line x1="165.9" y1="589.96" x2="168.1" y2="589.96" stroke="#000" stroke-width="1.25"/>
<line x1="163.6" y1="586.01" x2="168.1" y2="586.01" stroke="#000" stroke-width="1.25"/>
<line x1="165.9" y1="582.06" x2="168.1" y2="582.06" stroke="#000" stroke-width="1.25"/>
<line x1="165.9" y1="578.11" x2="168.1" y2="578.11" stroke="#000" stroke-width="1.25"/>
<line x1="165.9" y1="574.16" x2="168.1" y2="574.16" stroke="#000" stroke-width="1.25"/>
<line x1="163.6" y1="570.21" x2="168.1" y2="570.21" stroke="#000" stroke-width="1.25"/>
<line x1="165.9" y1="566.27" x2="168.1" y2="566.27" stroke="#000" stroke-width="1.25"/>
<line x1="165.9" y1="562.32" x2="168.1" y2="562.32" stroke="#000" stroke-width="1.25"/>
<line x1="165.9" y1="558.37" x2="168.1" y2="558.37" stroke="#000" stroke-width="1.25"/>
<line x1="163.6" y1="554.42" x2="168.1" y2="554.42" stroke="#000" stroke-width="1.25"/>
<line x1="165.9" y1="550.47" x2="168.1" y2="550.47" stroke="#000" stroke-width="1.25"/>
<line x1="165.9" y1="546.52" x2="168.1" y2="546.52" stroke="#000" stroke-width="1.25"/>
<line x1="165.9" y1="542.58" x2="168.1" y2="542.58" stroke="#000" stroke-width="1.25"/>
<line x1="163.6" y1="538.63" x2="168.1" y2="538.63" stroke="#000" stroke-width="1.25"/>
<line x1="165.9" y1="534.68" x2="168.1" y2="534.68" stroke="#000" stroke-width="1.25"/>
<line x1="165.9" y1="530.73" x2="168.1" y2="530.73" stroke="#000" stroke-width="1.25"/>
<line x1="165.9" y1="526.78" x2="168.1" y2="526.78" stroke="#000" stroke-width="1.25"/>
<line x1="163.6" y1="522.83" x2="168.1" y2="522.83" stroke="#000" stroke-width="1.25"/>
<line x1="164.9" y1="519.2" x2="168.1" y2="519.2" stroke="#000" stroke-width="1.3"/>
<text x="158.9" y="605.1" font-size="9.3" text-anchor="end" font-weight="normal" fill="#111" stroke="#111" stroke-width="0.22">0</text>
<text x="158.9" y="589.31" font-size="9.3" text-anchor="end" font-weight="normal" fill="#111" stroke="#111" stroke-width="0.22">20</text>
<text x="158.9" y="573.51" font-size="9.3" text-anchor="end" font-weight="normal" fill="#111" stroke="#111" stroke-width="0.22">40</text>
<text x="158.9" y="557.72" font-size="9.3" text-anchor="end" font-weight="normal" fill="#111" stroke="#111" stroke-width="0.22">60</text>
<text x="158.9" y="541.93" font-size="9.3" text-anchor="end" font-weight="normal" fill="#111" stroke="#111" stroke-width="0.22">80</text>
<text x="158.9" y="526.13" font-size="9.3" text-anchor="end" font-weight="normal" fill="#111" stroke="#111" stroke-width="0.22">100</text>
<line x1="168.1" y1="601.8" x2="168.1" y2="606.8" stroke="#000" stroke-width="1.4"/>
<line x1="174.12" y1="601.8" x2="174.12" y2="605.1" stroke="#000" stroke-width="1.15"/>
<line x1="177.64" y1="601.8" x2="177.64" y2="605.1" stroke="#000" stroke-width="1.15"/>
<line x1="180.14" y1="601.8" x2="180.14" y2="605.1" stroke="#000" stroke-width="1.15"/>
<line x1="182.08" y1="601.8" x2="182.08" y2="605.1" stroke="#000" stroke-width="1.15"/>
<line x1="183.66" y1="601.8" x2="183.66" y2="605.1" stroke="#000" stroke-width="1.15"/>
<line x1="185" y1="601.8" x2="185" y2="605.1" stroke="#000" stroke-width="1.15"/>
<line x1="186.16" y1="601.8" x2="186.16" y2="605.1" stroke="#000" stroke-width="1.15"/>
<line x1="187.18" y1="601.8" x2="187.18" y2="605.1" stroke="#000" stroke-width="1.15"/>
<text x="168.5" y="617" font-size="8.8" text-anchor="middle" fill="#1a1a1a" stroke="#1a1a1a" stroke-width="0.2">10<tspan font-size="5.8" dy="-3.1">0</tspan></text>
<line x1="188.1" y1="601.8" x2="188.1" y2="606.8" stroke="#000" stroke-width="1.4"/>
<line x1="194.12" y1="601.8" x2="194.12" y2="605.1" stroke="#000" stroke-width="1.15"/>
<line x1="197.64" y1="601.8" x2="197.64" y2="605.1" stroke="#000" stroke-width="1.15"/>
<line x1="200.14" y1="601.8" x2="200.14" y2="605.1" stroke="#000" stroke-width="1.15"/>
<line x1="202.08" y1="601.8" x2="202.08" y2="605.1" stroke="#000" stroke-width="1.15"/>
<line x1="203.66" y1="601.8" x2="203.66" y2="605.1" stroke="#000" stroke-width="1.15"/>
<line x1="205" y1="601.8" x2="205" y2="605.1" stroke="#000" stroke-width="1.15"/>
<line x1="206.16" y1="601.8" x2="206.16" y2="605.1" stroke="#000" stroke-width="1.15"/>
<line x1="207.18" y1="601.8" x2="207.18" y2="605.1" stroke="#000" stroke-width="1.15"/>
<text x="188.5" y="617" font-size="8.8" text-anchor="middle" fill="#1a1a1a" stroke="#1a1a1a" stroke-width="0.2">10<tspan font-size="5.8" dy="-3.1">1</tspan></text>
<line x1="208.1" y1="601.8" x2="208.1" y2="606.8" stroke="#000" stroke-width="1.4"/>
<line x1="214.12" y1="601.8" x2="214.12" y2="605.1" stroke="#000" stroke-width="1.15"/>
<line x1="217.64" y1="601.8" x2="217.64" y2="605.1" stroke="#000" stroke-width="1.15"/>
<line x1="220.14" y1="601.8" x2="220.14" y2="605.1" stroke="#000" stroke-width="1.15"/>
<line x1="222.08" y1="601.8" x2="222.08" y2="605.1" stroke="#000" stroke-width="1.15"/>
<line x1="223.66" y1="601.8" x2="223.66" y2="605.1" stroke="#000" stroke-width="1.15"/>
<line x1="225" y1="601.8" x2="225" y2="605.1" stroke="#000" stroke-width="1.15"/>
<line x1="226.16" y1="601.8" x2="226.16" y2="605.1" stroke="#000" stroke-width="1.15"/>
<line x1="227.18" y1="601.8" x2="227.18" y2="605.1" stroke="#000" stroke-width="1.15"/>
<text x="208.5" y="617" font-size="8.8" text-anchor="middle" fill="#1a1a1a" stroke="#1a1a1a" stroke-width="0.2">10<tspan font-size="5.8" dy="-3.1">2</tspan></text>
<line x1="228.1" y1="601.8" x2="228.1" y2="606.8" stroke="#000" stroke-width="1.4"/>
<line x1="234.12" y1="601.8" x2="234.12" y2="605.1" stroke="#000" stroke-width="1.15"/>
<line x1="237.64" y1="601.8" x2="237.64" y2="605.1" stroke="#000" stroke-width="1.15"/>
<line x1="240.14" y1="601.8" x2="240.14" y2="605.1" stroke="#000" stroke-width="1.15"/>
<line x1="242.08" y1="601.8" x2="242.08" y2="605.1" stroke="#000" stroke-width="1.15"/>
<line x1="243.66" y1="601.8" x2="243.66" y2="605.1" stroke="#000" stroke-width="1.15"/>
<line x1="245" y1="601.8" x2="245" y2="605.1" stroke="#000" stroke-width="1.15"/>
<line x1="246.16" y1="601.8" x2="246.16" y2="605.1" stroke="#000" stroke-width="1.15"/>
<line x1="247.18" y1="601.8" x2="247.18" y2="605.1" stroke="#000" stroke-width="1.15"/>
<text x="228.5" y="617" font-size="8.8" text-anchor="middle" fill="#1a1a1a" stroke="#1a1a1a" stroke-width="0.2">10<tspan font-size="5.8" dy="-3.1">3</tspan></text>
<line x1="248.1" y1="601.8" x2="248.1" y2="606.8" stroke="#000" stroke-width="1.4"/>
<text x="248.5" y="617" font-size="8.8" text-anchor="middle" fill="#1a1a1a" stroke="#1a1a1a" stroke-width="0.2">10<tspan font-size="5.8" dy="-3.1">4</tspan></text>
<text x="222.6" y="529.3" font-size="9.3" text-anchor="start" font-weight="normal" fill="#111" stroke="#111" stroke-width="0.22">IFN+</text>
<path d="M295.07 601.8L295.36 599.88L295.75 597.41L296.22 594.4L296.72 590.83L297.21 586.72L297.64 582.06L298.04 576.34L298.42 569.45L298.79 562.02L299.15 554.65L299.5 547.97L299.82 542.58L300.12 538.27L300.4 534.5L300.67 531.42L300.92 529.15L301.17 527.82L301.4 527.57L301.62 528.68L301.83 531.11L302.02 534.48L302.21 538.42L302.39 542.56L302.59 546.52L302.77 550.51L302.93 554.86L303.09 559.41L303.28 563.98L303.5 568.43L303.77 572.58L304.12 576.57L304.54 580.54L304.99 584.38L305.45 587.97L305.91 591.18L306.34 593.9L306.78 596.09L307.24 597.82L307.69 599.18L308.11 600.25L308.46 601.1L308.72 601.8L308.72 601.8L295.07 601.8Z" fill="#d0d0d3" stroke="none"/>
<path d="M295.07 601.8L295.36 599.88L295.75 597.41L296.22 594.4L296.72 590.83L297.21 586.72L297.64 582.06L298.04 576.34L298.42 569.45L298.79 562.02L299.15 554.65L299.5 547.97L299.82 542.58L300.12 538.27L300.4 534.5L300.67 531.42L300.92 529.15L301.17 527.82L301.4 527.57L301.62 528.68L301.83 531.11L302.02 534.48L302.21 538.42L302.39 542.56L302.59 546.52L302.77 550.51L302.93 554.86L303.09 559.41L303.28 563.98L303.5 568.43L303.77 572.58L304.12 576.57L304.54 580.54L304.99 584.38L305.45 587.97L305.91 591.18L306.34 593.9L306.78 596.09L307.24 597.82L307.69 599.18L308.11 600.25L308.46 601.1L308.72 601.8" fill="none" stroke="#3c3c3c" stroke-width="1.1" stroke-linejoin="round"/>
<path d="M314.25 601.8L314.95 601.55L315.65 601.8L316.34 601.68L317.04 600.95L317.73 600.17L318.43 600.79L319.12 600.49L319.82 599.92L320.51 598.56L321.21 599.24L321.9 597.64L322.6 597.22L323.29 597.61L323.99 596.14L324.68 595.59L325.38 594.91L326.07 592.9L326.77 594L327.46 593.3L328.16 590.29L328.85 590.34L329.55 589.5L330.24 587.8L330.94 586.4L331.64 583.91L332.33 584.93L333.03 584.24L333.72 582.53L334.42 581.75L335.11 579.69L335.81 578.82L336.5 578.16L337.2 574.89L337.89 568.57L338.59 563.62L339.28 561.98L339.98 556.04L340.67 551.95L341.37 549.08L342.06 547.12L342.76 542.18L343.45 539.71L344.15 539.2L344.84 535.65L345.54 535.14L346.23 533.83L346.93 530.88L347.63 529.08L348.32 527.54L349.02 526.43L349.71 526.87L350.41 527.2L351.1 528.07L351.8 532.01L352.49 538.62L353.19 547.87L353.88 557.26L354.58 565.85L355.27 575.87L355.97 583.53L356.66 591.41L357.36 596.29L358.05 598.47L358.75 601.8" fill="none" stroke="#5a984a" stroke-width="1.9" stroke-linejoin="round"/>
<path d="M315.44 601.8L316.14 601.57L316.83 601.8L317.53 601.53L318.22 601.16L318.92 599.96L319.61 600.3L320.31 599.61L321 600.28L321.7 599.23L322.39 598.25L323.09 598.34L323.78 597.07L324.48 596.59L325.17 596.88L325.87 596.91L326.56 594.79L327.26 595.28L327.96 594.77L328.65 592.54L329.35 591.38L330.04 590.33L330.74 588.86L331.43 589.17L332.13 588.22L332.82 587.15L333.52 584.52L334.21 585.84L334.91 585L335.6 584.52L336.3 583.51L336.99 582.49L337.69 580L338.38 577.08L339.08 572.5L339.77 566.74L340.47 564.7L341.16 559.37L341.86 556.19L342.55 553.42L343.25 550.31L343.95 546.89L344.64 544.96L345.34 543.96L346.03 541.76L346.73 540.24L347.42 537.98L348.12 534.32L348.81 534.44L349.51 534.36L350.2 532.83L350.9 532.77L351.59 534.64L352.29 534.67L352.98 540.26L353.68 545.75L354.37 551.01L355.07 561.08L355.76 569.49L356.46 578.28L357.15 586.03L357.85 592.33L358.54 597.07L359.24 598.68L359.94 601.8" fill="none" stroke="#213d72" stroke-width="1.9" stroke-linejoin="round"/>
<path d="M314.85 601.8L315.54 601.56L316.24 601.22L316.93 600.88L317.63 600.33L318.32 600.92L319.02 600.01L319.71 599.28L320.41 598.88L321.1 599.73L321.8 598.51L322.5 598.1L323.19 597.77L323.89 596.32L324.58 596.49L325.28 595.96L325.97 594.28L326.67 594.14L327.36 594.04L328.06 593.2L328.75 591.88L329.45 591.75L330.14 589.34L330.84 587.73L331.53 587.16L332.23 585.2L332.92 584.27L333.62 584.48L334.31 583.43L335.01 583.93L335.7 583.11L336.4 579.82L337.09 579.71L337.79 576.43L338.49 570.35L339.18 566.49L339.88 564.04L340.57 559.88L341.27 556.68L341.96 553.28L342.66 550.95L343.35 546.49L344.05 544.64L344.74 542.22L345.44 540.95L346.13 539.37L346.83 537.82L347.52 533.27L348.22 531.97L348.91 531.33L349.61 532.54L350.3 533.49L351 534.29L351.69 534.51L352.39 539.07L353.08 543.9L353.78 551.32L354.48 559.8L355.17 567.87L355.87 577.6L356.56 585.06L357.26 591.46L357.95 595.95L358.65 598.89L359.34 601.8" fill="none" stroke="#4a1767" stroke-width="1.9" stroke-linejoin="round"/>
<path d="M313.86 601.8L314.55 601.55L315.25 601.27L315.94 600.93L316.64 600.25L317.34 599.86L318.03 599.57L318.73 600.1L319.42 598.72L320.12 599.25L320.81 599.03L321.51 598.94L322.2 597.63L322.9 597.7L323.59 596.81L324.29 595.45L324.98 594.38L325.68 593.66L326.37 594.24L327.07 593.46L327.76 592.09L328.46 590.35L329.15 588.44L329.85 587.14L330.54 585.54L331.24 585.29L331.93 584.42L332.63 584.57L333.33 583.75L334.02 583.16L334.72 581.35L335.41 580.06L336.11 578.3L336.8 575.18L337.5 570.65L338.19 566.79L338.89 560.88L339.58 557.82L340.28 553.76L340.97 550.13L341.67 548.52L342.36 546.06L343.06 542.95L343.75 538.72L344.45 537.09L345.14 536.47L345.84 533.37L346.53 532.92L347.23 529.41L347.92 530.74L348.62 528.31L349.32 528.57L350.01 531.19L350.71 531.94L351.4 536.89L352.1 542.11L352.79 549.66L353.49 558.2L354.18 568.44L354.88 577.26L355.57 585.41L356.27 590.77L356.96 596.03L357.66 599.79L358.35 601.8" fill="none" stroke="#e4aa55" stroke-width="1.9" stroke-linejoin="round"/>
<path d="M313.66 601.8L314.36 601.56L315.05 601.25L315.75 600.69L316.44 600.43L317.14 599.96L317.83 600.6L318.53 599.12L319.22 599.44L319.92 598.74L320.61 598.29L321.31 597.5L322 598.15L322.7 597.38L323.39 596.07L324.09 595.63L324.78 594.58L325.48 594.6L326.18 592.63L326.87 593.73L327.57 591.31L328.26 590.96L328.96 590.48L329.65 587.72L330.35 587.85L331.04 586.43L331.74 585.49L332.43 585.23L333.13 584.46L333.82 583.85L334.52 581.02L335.21 581.77L335.91 579.79L336.6 576.52L337.3 569.99L337.99 566.68L338.69 561.68L339.38 557.57L340.08 555.47L340.77 552.41L341.47 549.25L342.17 546.72L342.86 543.14L343.56 539.8L344.25 539.3L344.95 536.64L345.64 534.38L346.34 532.7L347.03 531.5L347.73 530.64L348.42 531.91L349.12 532.03L349.81 531.18L350.51 533.4L351.2 536.41L351.9 543.36L352.59 549.64L353.29 559.3L353.98 567.16L354.68 576.46L355.37 585.94L356.07 590.7L356.76 596.75L357.46 598.58L358.16 601.8" fill="none" stroke="#a3123d" stroke-width="1.9" stroke-linejoin="round"/>
<rect x="292.7" y="519.2" width="79.1" height="82.6" fill="none" stroke="#000" stroke-width="1.9"/>
<line x1="288.2" y1="601.8" x2="292.7" y2="601.8" stroke="#000" stroke-width="1.25"/>
<line x1="290.5" y1="597.85" x2="292.7" y2="597.85" stroke="#000" stroke-width="1.25"/>
<line x1="290.5" y1="593.9" x2="292.7" y2="593.9" stroke="#000" stroke-width="1.25"/>
<line x1="290.5" y1="589.96" x2="292.7" y2="589.96" stroke="#000" stroke-width="1.25"/>
<line x1="288.2" y1="586.01" x2="292.7" y2="586.01" stroke="#000" stroke-width="1.25"/>
<line x1="290.5" y1="582.06" x2="292.7" y2="582.06" stroke="#000" stroke-width="1.25"/>
<line x1="290.5" y1="578.11" x2="292.7" y2="578.11" stroke="#000" stroke-width="1.25"/>
<line x1="290.5" y1="574.16" x2="292.7" y2="574.16" stroke="#000" stroke-width="1.25"/>
<line x1="288.2" y1="570.21" x2="292.7" y2="570.21" stroke="#000" stroke-width="1.25"/>
<line x1="290.5" y1="566.27" x2="292.7" y2="566.27" stroke="#000" stroke-width="1.25"/>
<line x1="290.5" y1="562.32" x2="292.7" y2="562.32" stroke="#000" stroke-width="1.25"/>
<line x1="290.5" y1="558.37" x2="292.7" y2="558.37" stroke="#000" stroke-width="1.25"/>
<line x1="288.2" y1="554.42" x2="292.7" y2="554.42" stroke="#000" stroke-width="1.25"/>
<line x1="290.5" y1="550.47" x2="292.7" y2="550.47" stroke="#000" stroke-width="1.25"/>
<line x1="290.5" y1="546.52" x2="292.7" y2="546.52" stroke="#000" stroke-width="1.25"/>
<line x1="290.5" y1="542.58" x2="292.7" y2="542.58" stroke="#000" stroke-width="1.25"/>
<line x1="288.2" y1="538.63" x2="292.7" y2="538.63" stroke="#000" stroke-width="1.25"/>
<line x1="290.5" y1="534.68" x2="292.7" y2="534.68" stroke="#000" stroke-width="1.25"/>
<line x1="290.5" y1="530.73" x2="292.7" y2="530.73" stroke="#000" stroke-width="1.25"/>
<line x1="290.5" y1="526.78" x2="292.7" y2="526.78" stroke="#000" stroke-width="1.25"/>
<line x1="288.2" y1="522.83" x2="292.7" y2="522.83" stroke="#000" stroke-width="1.25"/>
<line x1="289.5" y1="519.2" x2="292.7" y2="519.2" stroke="#000" stroke-width="1.3"/>
<text x="283.5" y="605.1" font-size="9.3" text-anchor="end" font-weight="normal" fill="#111" stroke="#111" stroke-width="0.22">0</text>
<text x="283.5" y="589.31" font-size="9.3" text-anchor="end" font-weight="normal" fill="#111" stroke="#111" stroke-width="0.22">20</text>
<text x="283.5" y="573.51" font-size="9.3" text-anchor="end" font-weight="normal" fill="#111" stroke="#111" stroke-width="0.22">40</text>
<text x="283.5" y="557.72" font-size="9.3" text-anchor="end" font-weight="normal" fill="#111" stroke="#111" stroke-width="0.22">60</text>
<text x="283.5" y="541.93" font-size="9.3" text-anchor="end" font-weight="normal" fill="#111" stroke="#111" stroke-width="0.22">80</text>
<text x="283.5" y="526.13" font-size="9.3" text-anchor="end" font-weight="normal" fill="#111" stroke="#111" stroke-width="0.22">100</text>
<line x1="292.7" y1="601.8" x2="292.7" y2="606.8" stroke="#000" stroke-width="1.4"/>
<line x1="298.65" y1="601.8" x2="298.65" y2="605.1" stroke="#000" stroke-width="1.15"/>
<line x1="302.14" y1="601.8" x2="302.14" y2="605.1" stroke="#000" stroke-width="1.15"/>
<line x1="304.61" y1="601.8" x2="304.61" y2="605.1" stroke="#000" stroke-width="1.15"/>
<line x1="306.52" y1="601.8" x2="306.52" y2="605.1" stroke="#000" stroke-width="1.15"/>
<line x1="308.09" y1="601.8" x2="308.09" y2="605.1" stroke="#000" stroke-width="1.15"/>
<line x1="309.41" y1="601.8" x2="309.41" y2="605.1" stroke="#000" stroke-width="1.15"/>
<line x1="310.56" y1="601.8" x2="310.56" y2="605.1" stroke="#000" stroke-width="1.15"/>
<line x1="311.57" y1="601.8" x2="311.57" y2="605.1" stroke="#000" stroke-width="1.15"/>
<text x="293.1" y="617" font-size="8.8" text-anchor="middle" fill="#1a1a1a" stroke="#1a1a1a" stroke-width="0.2">10<tspan font-size="5.8" dy="-3.1">0</tspan></text>
<line x1="312.48" y1="601.8" x2="312.48" y2="606.8" stroke="#000" stroke-width="1.4"/>
<line x1="318.43" y1="601.8" x2="318.43" y2="605.1" stroke="#000" stroke-width="1.15"/>
<line x1="321.91" y1="601.8" x2="321.91" y2="605.1" stroke="#000" stroke-width="1.15"/>
<line x1="324.38" y1="601.8" x2="324.38" y2="605.1" stroke="#000" stroke-width="1.15"/>
<line x1="326.3" y1="601.8" x2="326.3" y2="605.1" stroke="#000" stroke-width="1.15"/>
<line x1="327.86" y1="601.8" x2="327.86" y2="605.1" stroke="#000" stroke-width="1.15"/>
<line x1="329.19" y1="601.8" x2="329.19" y2="605.1" stroke="#000" stroke-width="1.15"/>
<line x1="330.33" y1="601.8" x2="330.33" y2="605.1" stroke="#000" stroke-width="1.15"/>
<line x1="331.35" y1="601.8" x2="331.35" y2="605.1" stroke="#000" stroke-width="1.15"/>
<text x="312.88" y="617" font-size="8.8" text-anchor="middle" fill="#1a1a1a" stroke="#1a1a1a" stroke-width="0.2">10<tspan font-size="5.8" dy="-3.1">1</tspan></text>
<line x1="332.25" y1="601.8" x2="332.25" y2="606.8" stroke="#000" stroke-width="1.4"/>
<line x1="338.2" y1="601.8" x2="338.2" y2="605.1" stroke="#000" stroke-width="1.15"/>
<line x1="341.69" y1="601.8" x2="341.69" y2="605.1" stroke="#000" stroke-width="1.15"/>
<line x1="344.16" y1="601.8" x2="344.16" y2="605.1" stroke="#000" stroke-width="1.15"/>
<line x1="346.07" y1="601.8" x2="346.07" y2="605.1" stroke="#000" stroke-width="1.15"/>
<line x1="347.64" y1="601.8" x2="347.64" y2="605.1" stroke="#000" stroke-width="1.15"/>
<line x1="348.96" y1="601.8" x2="348.96" y2="605.1" stroke="#000" stroke-width="1.15"/>
<line x1="350.11" y1="601.8" x2="350.11" y2="605.1" stroke="#000" stroke-width="1.15"/>
<line x1="351.12" y1="601.8" x2="351.12" y2="605.1" stroke="#000" stroke-width="1.15"/>
<text x="332.65" y="617" font-size="8.8" text-anchor="middle" fill="#1a1a1a" stroke="#1a1a1a" stroke-width="0.2">10<tspan font-size="5.8" dy="-3.1">2</tspan></text>
<line x1="352.02" y1="601.8" x2="352.02" y2="606.8" stroke="#000" stroke-width="1.4"/>
<line x1="357.98" y1="601.8" x2="357.98" y2="605.1" stroke="#000" stroke-width="1.15"/>
<line x1="361.46" y1="601.8" x2="361.46" y2="605.1" stroke="#000" stroke-width="1.15"/>
<line x1="363.93" y1="601.8" x2="363.93" y2="605.1" stroke="#000" stroke-width="1.15"/>
<line x1="365.85" y1="601.8" x2="365.85" y2="605.1" stroke="#000" stroke-width="1.15"/>
<line x1="367.41" y1="601.8" x2="367.41" y2="605.1" stroke="#000" stroke-width="1.15"/>
<line x1="368.74" y1="601.8" x2="368.74" y2="605.1" stroke="#000" stroke-width="1.15"/>
<line x1="369.88" y1="601.8" x2="369.88" y2="605.1" stroke="#000" stroke-width="1.15"/>
<line x1="370.9" y1="601.8" x2="370.9" y2="605.1" stroke="#000" stroke-width="1.15"/>
<text x="352.42" y="617" font-size="8.8" text-anchor="middle" fill="#1a1a1a" stroke="#1a1a1a" stroke-width="0.2">10<tspan font-size="5.8" dy="-3.1">3</tspan></text>
<line x1="371.8" y1="601.8" x2="371.8" y2="606.8" stroke="#000" stroke-width="1.4"/>
<text x="372.2" y="617" font-size="8.8" text-anchor="middle" fill="#1a1a1a" stroke="#1a1a1a" stroke-width="0.2">10<tspan font-size="5.8" dy="-3.1">4</tspan></text>
<text x="321.6" y="529.3" font-size="9.3" text-anchor="start" font-weight="normal" fill="#111" stroke="#111" stroke-width="0.22">IFN-</text>
<path d="M412.79 601.8L413.07 599.41L413.47 596.24L413.93 592.42L414.43 588.05L414.93 583.25L415.38 578.11L415.8 572.13L416.23 565.12L416.65 557.68L417.05 550.38L417.43 543.84L417.77 538.63L418.06 534.63L418.31 531.35L418.53 528.81L418.74 527.05L418.94 526.1L419.16 525.99L419.4 527L419.63 529.15L419.86 532.11L420.09 535.56L420.33 539.15L420.56 542.58L420.78 545.95L420.98 549.57L421.18 553.33L421.4 557.17L421.65 560.98L421.95 564.69L422.31 568.41L422.7 572.26L423.12 576.09L423.58 579.75L424.05 583.1L424.54 586.01L425.06 588.41L425.61 590.42L426.19 592.13L426.77 593.61L427.36 594.96L427.93 596.27L428.53 597.53L429.18 598.67L429.84 599.68L430.44 600.54L430.95 601.25L431.32 601.8L431.32 601.8L412.79 601.8Z" fill="#d0d0d3" stroke="none"/>
<path d="M412.79 601.8L413.07 599.41L413.47 596.24L413.93 592.42L414.43 588.05L414.93 583.25L415.38 578.11L415.8 572.13L416.23 565.12L416.65 557.68L417.05 550.38L417.43 543.84L417.77 538.63L418.06 534.63L418.31 531.35L418.53 528.81L418.74 527.05L418.94 526.1L419.16 525.99L419.4 527L419.63 529.15L419.86 532.11L420.09 535.56L420.33 539.15L420.56 542.58L420.78 545.95L420.98 549.57L421.18 553.33L421.4 557.17L421.65 560.98L421.95 564.69L422.31 568.41L422.7 572.26L423.12 576.09L423.58 579.75L424.05 583.1L424.54 586.01L425.06 588.41L425.61 590.42L426.19 592.13L426.77 593.61L427.36 594.96L427.93 596.27L428.53 597.53L429.18 598.67L429.84 599.68L430.44 600.54L430.95 601.25L431.32 601.8" fill="none" stroke="#3c3c3c" stroke-width="1.1" stroke-linejoin="round"/>
<path d="M435.7 601.8L436.4 601.49L437.11 599.88L437.81 599.3L438.52 598.73L439.22 598.26L439.92 597.33L440.63 598.11L441.33 595.98L442.04 595.69L442.74 593.65L443.44 593.12L444.15 591.69L444.85 590.55L445.55 589.29L446.26 587.56L446.96 586.04L447.67 586.36L448.37 584.23L449.07 583.03L449.78 583.21L450.48 582.84L451.18 580.87L451.89 579.01L452.59 578.15L453.3 577.18L454 573.58L454.7 571.85L455.41 567.52L456.11 566.39L456.82 561.82L457.52 559.1L458.22 554L458.93 553.13L459.63 547.58L460.33 545.92L461.04 543.35L461.74 541.56L462.45 538.61L463.15 535.33L463.85 533.23L464.56 531.34L465.26 530.31L465.96 530.68L466.67 530.56L467.37 531.64L468.08 534.08L468.78 533.64L469.48 539.67L470.19 543.11L470.89 547.62L471.59 552.74L472.3 559.82L473 567.36L473.71 574.52L474.41 579.73L475.11 586.31L475.82 590.68L476.52 594.28L477.23 597.22L477.93 598.77L478.63 600.2L479.34 601.8" fill="none" stroke="#213d72" stroke-width="1.9" stroke-linejoin="round"/>
<path d="M435.1 601.8L435.81 600.93L436.51 601.3L437.21 599.83L437.92 598.8L438.62 598.11L439.33 597.91L440.03 596.83L440.73 596.37L441.44 595L442.14 594.76L442.85 592.41L443.55 591.4L444.25 590.89L444.96 589.48L445.66 587.48L446.36 586.96L447.07 584.61L447.77 583.48L448.48 582.77L449.18 583.56L449.88 582.57L450.59 580.96L451.29 579.55L451.99 577.21L452.7 575.02L453.4 573.38L454.11 570.39L454.81 567.69L455.51 566.05L456.22 561.2L456.92 558.74L457.62 554.73L458.33 552.53L459.03 547.18L459.74 543.22L460.44 543.13L461.14 539.13L461.85 538.86L462.55 535.88L463.26 534.62L463.96 530.16L464.66 528.46L465.37 526.99L466.07 530.09L466.77 529.97L467.48 531.35L468.18 533.83L468.89 535.67L469.59 540.66L470.29 546.26L471 550.06L471.7 557.73L472.4 566.73L473.11 573.32L473.81 581.49L474.52 586.22L475.22 590.6L475.92 594.84L476.63 596.21L477.33 599.56L478.04 600.3L478.74 601.8" fill="none" stroke="#5a984a" stroke-width="1.9" stroke-linejoin="round"/>
<path d="M434.7 601.8L435.41 601L436.11 600.75L436.82 599.65L437.52 600.16L438.22 598.35L438.93 598.17L439.63 596.88L440.34 596.75L441.04 595.37L441.74 594.43L442.45 593.15L443.15 591.13L443.85 590.47L444.56 588.18L445.26 587.82L445.97 587.46L446.67 585.42L447.37 584.53L448.08 584.44L448.78 582.5L449.48 582.73L450.19 580.74L450.89 579.12L451.6 577.26L452.3 574.67L453 573.24L453.71 572.05L454.41 567.96L455.12 565.44L455.82 560.57L456.52 556.73L457.23 555.72L457.93 550.2L458.63 548.31L459.34 545.52L460.04 541.9L460.75 539.65L461.45 538L462.15 536.17L462.86 533.71L463.56 530.74L464.26 530.37L464.97 528.77L465.67 530.02L466.38 529.94L467.08 532.86L467.78 533.07L468.49 538.58L469.19 539.92L469.89 545.81L470.6 549.39L471.3 556.8L472.01 564.97L472.71 574.87L473.41 579.76L474.12 586.04L474.82 589.88L475.53 593.68L476.23 596.79L476.93 598.09L477.64 599.73L478.34 601.8" fill="none" stroke="#4a1767" stroke-width="1.9" stroke-linejoin="round"/>
<path d="M434.51 601.8L435.21 601.67L435.91 600.82L436.62 600.55L437.32 599.59L438.02 598.6L438.73 597.66L439.43 597.55L440.14 596.39L440.84 595.7L441.54 593.31L442.25 593.23L442.95 590.79L443.65 591.34L444.36 590.3L445.06 588.18L445.77 587.01L446.47 585.1L447.17 583.73L447.88 583.55L448.58 583.05L449.29 581L449.99 580.53L450.69 579.81L451.4 578.18L452.1 577.15L452.8 572.99L453.51 571.99L454.21 568.75L454.92 564.4L455.62 560.93L456.32 557.54L457.03 554.08L457.73 550.11L458.43 546.28L459.14 543.04L459.84 542.11L460.55 539.87L461.25 538.5L461.95 535.61L462.66 534.58L463.36 529.92L464.07 528.37L464.77 529.23L465.47 528.48L466.18 530.04L466.88 533.36L467.58 532.84L468.29 536.27L468.99 541.15L469.7 544.18L470.4 551.99L471.1 559.05L471.81 565.3L472.51 573.19L473.21 581.6L473.92 585.85L474.62 590.52L475.33 594.07L476.03 597.21L476.73 598.25L477.44 599.9L478.14 601.8" fill="none" stroke="#e4aa55" stroke-width="1.9" stroke-linejoin="round"/>
<path d="M434.11 601.8L434.81 601.28L435.51 600.03L436.22 600.84L436.92 599.8L437.63 597.92L438.33 597.67L439.03 597.83L439.74 596.46L440.44 594.38L441.15 594.15L441.85 593.86L442.55 590.87L443.26 591.32L443.96 589.02L444.66 587.88L445.37 587.07L446.07 584.78L446.78 585.53L447.48 583.51L448.18 583.68L448.89 580.61L449.59 581.52L450.29 579.4L451 577.13L451.7 575.14L452.41 574.88L453.11 570.07L453.81 567.29L454.52 565.62L455.22 560.95L455.92 559.13L456.63 555.98L457.33 552.56L458.04 548.79L458.74 544.07L459.44 542.47L460.15 538.44L460.85 536.67L461.56 537L462.26 534.39L462.96 533.53L463.67 529.68L464.37 528.7L465.07 529.57L465.78 532.79L466.48 532.34L467.19 535.82L467.89 536.58L468.59 541.79L469.3 547.39L470 549.78L470.7 556.82L471.41 566.75L472.11 572.79L472.82 581.11L473.52 586.18L474.22 590.67L474.93 593.31L475.63 597.37L476.34 599.67L477.04 601.14L477.74 601.8" fill="none" stroke="#a3123d" stroke-width="1.9" stroke-linejoin="round"/>
<rect x="409.4" y="519.2" width="79.7" height="82.6" fill="none" stroke="#000" stroke-width="1.9"/>
<line x1="404.9" y1="601.8" x2="409.4" y2="601.8" stroke="#000" stroke-width="1.25"/>
<line x1="407.2" y1="597.85" x2="409.4" y2="597.85" stroke="#000" stroke-width="1.25"/>
<line x1="407.2" y1="593.9" x2="409.4" y2="593.9" stroke="#000" stroke-width="1.25"/>
<line x1="407.2" y1="589.96" x2="409.4" y2="589.96" stroke="#000" stroke-width="1.25"/>
<line x1="404.9" y1="586.01" x2="409.4" y2="586.01" stroke="#000" stroke-width="1.25"/>
<line x1="407.2" y1="582.06" x2="409.4" y2="582.06" stroke="#000" stroke-width="1.25"/>
<line x1="407.2" y1="578.11" x2="409.4" y2="578.11" stroke="#000" stroke-width="1.25"/>
<line x1="407.2" y1="574.16" x2="409.4" y2="574.16" stroke="#000" stroke-width="1.25"/>
<line x1="404.9" y1="570.21" x2="409.4" y2="570.21" stroke="#000" stroke-width="1.25"/>
<line x1="407.2" y1="566.27" x2="409.4" y2="566.27" stroke="#000" stroke-width="1.25"/>
<line x1="407.2" y1="562.32" x2="409.4" y2="562.32" stroke="#000" stroke-width="1.25"/>
<line x1="407.2" y1="558.37" x2="409.4" y2="558.37" stroke="#000" stroke-width="1.25"/>
<line x1="404.9" y1="554.42" x2="409.4" y2="554.42" stroke="#000" stroke-width="1.25"/>
<line x1="407.2" y1="550.47" x2="409.4" y2="550.47" stroke="#000" stroke-width="1.25"/>
<line x1="407.2" y1="546.52" x2="409.4" y2="546.52" stroke="#000" stroke-width="1.25"/>
<line x1="407.2" y1="542.58" x2="409.4" y2="542.58" stroke="#000" stroke-width="1.25"/>
<line x1="404.9" y1="538.63" x2="409.4" y2="538.63" stroke="#000" stroke-width="1.25"/>
<line x1="407.2" y1="534.68" x2="409.4" y2="534.68" stroke="#000" stroke-width="1.25"/>
<line x1="407.2" y1="530.73" x2="409.4" y2="530.73" stroke="#000" stroke-width="1.25"/>
<line x1="407.2" y1="526.78" x2="409.4" y2="526.78" stroke="#000" stroke-width="1.25"/>
<line x1="404.9" y1="522.83" x2="409.4" y2="522.83" stroke="#000" stroke-width="1.25"/>
<line x1="406.2" y1="519.2" x2="409.4" y2="519.2" stroke="#000" stroke-width="1.3"/>
<text x="400.2" y="605.1" font-size="9.3" text-anchor="end" font-weight="normal" fill="#111" stroke="#111" stroke-width="0.22">0</text>
<text x="400.2" y="589.31" font-size="9.3" text-anchor="end" font-weight="normal" fill="#111" stroke="#111" stroke-width="0.22">20</text>
<text x="400.2" y="573.51" font-size="9.3" text-anchor="end" font-weight="normal" fill="#111" stroke="#111" stroke-width="0.22">40</text>
<text x="400.2" y="557.72" font-size="9.3" text-anchor="end" font-weight="normal" fill="#111" stroke="#111" stroke-width="0.22">60</text>
<text x="400.2" y="541.93" font-size="9.3" text-anchor="end" font-weight="normal" fill="#111" stroke="#111" stroke-width="0.22">80</text>
<text x="400.2" y="526.13" font-size="9.3" text-anchor="end" font-weight="normal" fill="#111" stroke="#111" stroke-width="0.22">100</text>
<line x1="409.4" y1="601.8" x2="409.4" y2="606.8" stroke="#000" stroke-width="1.4"/>
<line x1="415.4" y1="601.8" x2="415.4" y2="605.1" stroke="#000" stroke-width="1.15"/>
<line x1="418.91" y1="601.8" x2="418.91" y2="605.1" stroke="#000" stroke-width="1.15"/>
<line x1="421.4" y1="601.8" x2="421.4" y2="605.1" stroke="#000" stroke-width="1.15"/>
<line x1="423.33" y1="601.8" x2="423.33" y2="605.1" stroke="#000" stroke-width="1.15"/>
<line x1="424.9" y1="601.8" x2="424.9" y2="605.1" stroke="#000" stroke-width="1.15"/>
<line x1="426.24" y1="601.8" x2="426.24" y2="605.1" stroke="#000" stroke-width="1.15"/>
<line x1="427.39" y1="601.8" x2="427.39" y2="605.1" stroke="#000" stroke-width="1.15"/>
<line x1="428.41" y1="601.8" x2="428.41" y2="605.1" stroke="#000" stroke-width="1.15"/>
<text x="409.8" y="617" font-size="8.8" text-anchor="middle" fill="#1a1a1a" stroke="#1a1a1a" stroke-width="0.2">10<tspan font-size="5.8" dy="-3.1">0</tspan></text>
<line x1="429.32" y1="601.8" x2="429.32" y2="606.8" stroke="#000" stroke-width="1.4"/>
<line x1="435.32" y1="601.8" x2="435.32" y2="605.1" stroke="#000" stroke-width="1.15"/>
<line x1="438.83" y1="601.8" x2="438.83" y2="605.1" stroke="#000" stroke-width="1.15"/>
<line x1="441.32" y1="601.8" x2="441.32" y2="605.1" stroke="#000" stroke-width="1.15"/>
<line x1="443.25" y1="601.8" x2="443.25" y2="605.1" stroke="#000" stroke-width="1.15"/>
<line x1="444.83" y1="601.8" x2="444.83" y2="605.1" stroke="#000" stroke-width="1.15"/>
<line x1="446.16" y1="601.8" x2="446.16" y2="605.1" stroke="#000" stroke-width="1.15"/>
<line x1="447.32" y1="601.8" x2="447.32" y2="605.1" stroke="#000" stroke-width="1.15"/>
<line x1="448.34" y1="601.8" x2="448.34" y2="605.1" stroke="#000" stroke-width="1.15"/>
<text x="429.72" y="617" font-size="8.8" text-anchor="middle" fill="#1a1a1a" stroke="#1a1a1a" stroke-width="0.2">10<tspan font-size="5.8" dy="-3.1">1</tspan></text>
<line x1="449.25" y1="601.8" x2="449.25" y2="606.8" stroke="#000" stroke-width="1.4"/>
<line x1="455.25" y1="601.8" x2="455.25" y2="605.1" stroke="#000" stroke-width="1.15"/>
<line x1="458.76" y1="601.8" x2="458.76" y2="605.1" stroke="#000" stroke-width="1.15"/>
<line x1="461.25" y1="601.8" x2="461.25" y2="605.1" stroke="#000" stroke-width="1.15"/>
<line x1="463.18" y1="601.8" x2="463.18" y2="605.1" stroke="#000" stroke-width="1.15"/>
<line x1="464.75" y1="601.8" x2="464.75" y2="605.1" stroke="#000" stroke-width="1.15"/>
<line x1="466.09" y1="601.8" x2="466.09" y2="605.1" stroke="#000" stroke-width="1.15"/>
<line x1="467.24" y1="601.8" x2="467.24" y2="605.1" stroke="#000" stroke-width="1.15"/>
<line x1="468.26" y1="601.8" x2="468.26" y2="605.1" stroke="#000" stroke-width="1.15"/>
<text x="449.65" y="617" font-size="8.8" text-anchor="middle" fill="#1a1a1a" stroke="#1a1a1a" stroke-width="0.2">10<tspan font-size="5.8" dy="-3.1">2</tspan></text>
<line x1="469.18" y1="601.8" x2="469.18" y2="606.8" stroke="#000" stroke-width="1.4"/>
<line x1="475.17" y1="601.8" x2="475.17" y2="605.1" stroke="#000" stroke-width="1.15"/>
<line x1="478.68" y1="601.8" x2="478.68" y2="605.1" stroke="#000" stroke-width="1.15"/>
<line x1="481.17" y1="601.8" x2="481.17" y2="605.1" stroke="#000" stroke-width="1.15"/>
<line x1="483.1" y1="601.8" x2="483.1" y2="605.1" stroke="#000" stroke-width="1.15"/>
<line x1="484.68" y1="601.8" x2="484.68" y2="605.1" stroke="#000" stroke-width="1.15"/>
<line x1="486.01" y1="601.8" x2="486.01" y2="605.1" stroke="#000" stroke-width="1.15"/>
<line x1="487.17" y1="601.8" x2="487.17" y2="605.1" stroke="#000" stroke-width="1.15"/>
<line x1="488.19" y1="601.8" x2="488.19" y2="605.1" stroke="#000" stroke-width="1.15"/>
<text x="469.57" y="617" font-size="8.8" text-anchor="middle" fill="#1a1a1a" stroke="#1a1a1a" stroke-width="0.2">10<tspan font-size="5.8" dy="-3.1">3</tspan></text>
<line x1="489.1" y1="601.8" x2="489.1" y2="606.8" stroke="#000" stroke-width="1.4"/>
<text x="489.5" y="617" font-size="8.8" text-anchor="middle" fill="#1a1a1a" stroke="#1a1a1a" stroke-width="0.2">10<tspan font-size="5.8" dy="-3.1">4</tspan></text>
<text x="431.6" y="529.1" font-size="9.9" text-anchor="start" font-weight="bold" fill="#000">IFN+</text>
<text transform="translate(22.9 560.6) rotate(-90) scale(0.66 1)" font-size="13" font-weight="bold" text-anchor="middle" fill="#1a1a1a" stroke="#1a1a1a" stroke-width="0">% of Max</text>
<text transform="translate(114.4 636.6) scale(0.62 1)" font-size="12.3" font-weight="bold" fill="#1a1a1a">PD-L1</text>
<line x1="142.7" y1="633.4" x2="184.4" y2="633.4" stroke="#000" stroke-width="1.5"/>
<path d="M182.4 630.3L190.4 633.4L182.4 636.5Z" fill="#000"/>
<text transform="translate(355 636.8) scale(0.66 1)" font-size="12.3" font-weight="bold" fill="#1a1a1a">CD86</text>
<line x1="380" y1="633.5" x2="422.8" y2="633.5" stroke="#000" stroke-width="1.5"/>
<path d="M420.8 630.4L428.8 633.5L420.8 636.6Z" fill="#000"/>
<line x1="137.7" y1="654.2" x2="154.9" y2="654.2" stroke="#d0d0d3" stroke-width="3"/>
<text x="159.3" y="657.4" font-size="9" text-anchor="start" font-weight="normal" fill="#333" stroke="#333" stroke-width="0.22">Isotype control</text>
<line x1="137.7" y1="667.8" x2="154.9" y2="667.8" stroke="#4a1767" stroke-width="3"/>
<text x="159.3" y="671" font-size="9" text-anchor="start" font-weight="normal" fill="#333" stroke="#333" stroke-width="0.22">No cytokine</text>
<line x1="241.5" y1="654.2" x2="258.7" y2="654.2" stroke="#213d72" stroke-width="3"/>
<text x="263.9" y="657.4" font-size="9" text-anchor="start" font-weight="normal" fill="#333" stroke="#333" stroke-width="0.22">IL1a</text>
<line x1="241.5" y1="667.8" x2="258.7" y2="667.8" stroke="#5a984a" stroke-width="3"/>
<text x="263.9" y="671" font-size="9" text-anchor="start" font-weight="normal" fill="#333" stroke="#333" stroke-width="0.22">IL17A</text>
<line x1="310.7" y1="654.2" x2="327.9" y2="654.2" stroke="#e4aa55" stroke-width="3"/>
<text x="332.3" y="657.4" font-size="9" text-anchor="start" font-weight="normal" fill="#333" stroke="#333" stroke-width="0.22">IL23</text>
<line x1="310.7" y1="667.8" x2="327.9" y2="667.8" stroke="#a3123d" stroke-width="3"/>
<text x="332.3" y="671" font-size="9" text-anchor="start" font-weight="normal" fill="#333" stroke="#333" stroke-width="0.22">IL27</text>
<path d="M55.7 935.7L55.79 935.52L55.89 935.47L56.02 935.31L56.19 934.8L56.41 933.69L56.69 931.76L57.06 928.8L57.5 925L57.99 920.6L58.5 915.87L59.01 911.08L59.47 906.49L59.89 901.79L60.3 896.72L60.71 891.58L61.1 886.69L61.48 882.34L61.85 878.85L62.19 876.21L62.51 874.17L62.81 872.68L63.12 871.68L63.46 871.13L63.83 870.95L64.26 871.24L64.74 872.06L65.24 873.32L65.74 874.93L66.2 876.8L66.6 878.85L66.94 881.12L67.22 883.7L67.47 886.55L67.71 889.61L67.94 892.85L68.19 896.22L68.44 899.88L68.68 903.88L68.92 908.07L69.17 912.25L69.45 916.25L69.78 919.91L70.16 923.3L70.6 926.58L71.06 929.68L71.53 932.54L71.97 935.1L72.35 937.28L72.69 939.05L73.01 940.44L73.31 941.53L73.56 942.37L73.78 943.04L73.94 943.6L73.94 943.6L55.7 943.6Z" fill="#d0d0d3" stroke="none"/>
<path d="M55.7 935.7L55.79 935.52L55.89 935.47L56.02 935.31L56.19 934.8L56.41 933.69L56.69 931.76L57.06 928.8L57.5 925L57.99 920.6L58.5 915.87L59.01 911.08L59.47 906.49L59.89 901.79L60.3 896.72L60.71 891.58L61.1 886.69L61.48 882.34L61.85 878.85L62.19 876.21L62.51 874.17L62.81 872.68L63.12 871.68L63.46 871.13L63.83 870.95L64.26 871.24L64.74 872.06L65.24 873.32L65.74 874.93L66.2 876.8L66.6 878.85L66.94 881.12L67.22 883.7L67.47 886.55L67.71 889.61L67.94 892.85L68.19 896.22L68.44 899.88L68.68 903.88L68.92 908.07L69.17 912.25L69.45 916.25L69.78 919.91L70.16 923.3L70.6 926.58L71.06 929.68L71.53 932.54L71.97 935.1L72.35 937.28L72.69 939.05L73.01 940.44L73.31 941.53L73.56 942.37L73.78 943.04L73.94 943.6" fill="none" stroke="#3c3c3c" stroke-width="1.1" stroke-linejoin="round"/>
<path d="M57.68 943.6L58.38 939.63L59.07 935.75L59.76 931.8L60.46 926.09L61.15 923.19L61.85 919.74L62.54 917.35L63.23 915.32L63.93 911.99L64.62 910.47L65.32 907.83L66.01 904.81L66.7 898.99L67.4 894.09L68.09 889.38L68.78 884.12L69.48 877.94L70.17 875.84L70.87 870.66L71.56 868.17L72.25 870.62L72.95 873.29L73.64 884.1L74.34 889.02L75.03 896.42L75.72 905.36L76.42 910.79L77.11 917.65L77.8 925.7L78.5 929.98L79.19 935.18L79.89 936.24L80.58 938.71L81.27 940.12L81.97 943.2L82.66 943.6" fill="none" stroke="#213d72" stroke-width="1.9" stroke-linejoin="round"/>
<path d="M57.29 943.6L57.98 939.14L58.67 936.18L59.37 931.56L60.06 927.71L60.76 922.81L61.45 919.77L62.14 916.47L62.84 916.1L63.53 912.83L64.22 911.96L64.92 909.39L65.61 905.25L66.31 901.38L67 894.82L67.69 887.83L68.39 882.85L69.08 879.58L69.78 874.44L70.47 870.14L71.16 870.27L71.86 868.07L72.55 873.58L73.25 883.11L73.94 891.23L74.63 896.08L75.33 905.01L76.02 912.51L76.71 919.28L77.41 923.96L78.1 930.13L78.8 933.74L79.49 936.6L80.18 939L80.88 940.14L81.57 942.67L82.27 943.6" fill="none" stroke="#4a1767" stroke-width="1.9" stroke-linejoin="round"/>
<path d="M58.08 943.6L58.77 940.27L59.47 934.79L60.16 931.85L60.85 927.15L61.55 922.96L62.24 919.48L62.94 917.61L63.63 915.01L64.32 913.91L65.02 910.86L65.71 908.96L66.41 904.26L67.1 899.85L67.79 893.13L68.49 888.5L69.18 884.04L69.87 877.52L70.57 873.67L71.26 871.61L71.96 869.97L72.65 869.08L73.34 874.25L74.04 881.72L74.73 889.86L75.43 897.42L76.12 904.33L76.81 911.74L77.51 919.4L78.2 925.85L78.9 929.37L79.59 933.67L80.28 937.47L80.98 938.33L81.67 940.93L82.36 943.12L83.06 943.6" fill="none" stroke="#5a984a" stroke-width="1.9" stroke-linejoin="round"/>
<path d="M58.28 943.6L58.97 939.5L59.67 934.94L60.36 929.99L61.05 927.5L61.75 923.67L62.44 920.96L63.13 917.98L63.83 915.76L64.52 912.94L65.22 909.98L65.91 906.52L66.6 903.94L67.3 899.48L67.99 893.2L68.69 886.58L69.38 882.36L70.07 878.8L70.77 872.19L71.46 869.33L72.15 868.44L72.85 869.13L73.54 874.24L74.24 879.87L74.93 890.33L75.62 896.14L76.32 902.4L77.01 912.05L77.71 918.04L78.4 924.48L79.09 929.14L79.79 934.87L80.48 937.42L81.18 939.46L81.87 941.74L82.56 942.16L83.26 943.6" fill="none" stroke="#e4aa55" stroke-width="2" stroke-linejoin="round"/>
<path d="M66.6 943.6L67.3 942.7L68 941.09L68.7 940.54L69.4 938.69L70.1 937.7L70.8 936.06L71.5 933.44L72.2 931.54L72.9 928.61L73.6 924.76L74.3 923.26L75 917.79L75.7 914.4L76.4 907.65L77.09 902.41L77.79 898.04L78.49 889.55L79.19 882.99L79.89 878.56L80.59 872.36L81.29 867.44L81.99 864.84L82.69 868L83.39 870.11L84.09 872.54L84.79 879.11L85.49 894.12L86.19 906.04L86.89 914.5L87.59 923.95L88.28 930.03L88.98 934.13L89.68 938.58L90.38 941.31L91.08 942.2L91.78 943.6" fill="none" stroke="#a3123d" stroke-width="1.9" stroke-linejoin="round"/>
<rect x="55.7" y="861" width="79.3" height="82.6" fill="none" stroke="#000" stroke-width="1.9"/>
<line x1="51.2" y1="943.6" x2="55.7" y2="943.6" stroke="#000" stroke-width="1.25"/>
<line x1="53.5" y1="939.65" x2="55.7" y2="939.65" stroke="#000" stroke-width="1.25"/>
<line x1="53.5" y1="935.7" x2="55.7" y2="935.7" stroke="#000" stroke-width="1.25"/>
<line x1="53.5" y1="931.76" x2="55.7" y2="931.76" stroke="#000" stroke-width="1.25"/>
<line x1="51.2" y1="927.81" x2="55.7" y2="927.81" stroke="#000" stroke-width="1.25"/>
<line x1="53.5" y1="923.86" x2="55.7" y2="923.86" stroke="#000" stroke-width="1.25"/>
<line x1="53.5" y1="919.91" x2="55.7" y2="919.91" stroke="#000" stroke-width="1.25"/>
<line x1="53.5" y1="915.96" x2="55.7" y2="915.96" stroke="#000" stroke-width="1.25"/>
<line x1="51.2" y1="912.01" x2="55.7" y2="912.01" stroke="#000" stroke-width="1.25"/>
<line x1="53.5" y1="908.07" x2="55.7" y2="908.07" stroke="#000" stroke-width="1.25"/>
<line x1="53.5" y1="904.12" x2="55.7" y2="904.12" stroke="#000" stroke-width="1.25"/>
<line x1="53.5" y1="900.17" x2="55.7" y2="900.17" stroke="#000" stroke-width="1.25"/>
<line x1="51.2" y1="896.22" x2="55.7" y2="896.22" stroke="#000" stroke-width="1.25"/>
<line x1="53.5" y1="892.27" x2="55.7" y2="892.27" stroke="#000" stroke-width="1.25"/>
<line x1="53.5" y1="888.32" x2="55.7" y2="888.32" stroke="#000" stroke-width="1.25"/>
<line x1="53.5" y1="884.38" x2="55.7" y2="884.38" stroke="#000" stroke-width="1.25"/>
<line x1="51.2" y1="880.43" x2="55.7" y2="880.43" stroke="#000" stroke-width="1.25"/>
<line x1="53.5" y1="876.48" x2="55.7" y2="876.48" stroke="#000" stroke-width="1.25"/>
<line x1="53.5" y1="872.53" x2="55.7" y2="872.53" stroke="#000" stroke-width="1.25"/>
<line x1="53.5" y1="868.58" x2="55.7" y2="868.58" stroke="#000" stroke-width="1.25"/>
<line x1="51.2" y1="864.63" x2="55.7" y2="864.63" stroke="#000" stroke-width="1.25"/>
<line x1="52.5" y1="861" x2="55.7" y2="861" stroke="#000" stroke-width="1.3"/>
<text x="46.5" y="946.9" font-size="9.3" text-anchor="end" font-weight="normal" fill="#111" stroke="#111" stroke-width="0.22">0</text>
<text x="46.5" y="931.11" font-size="9.3" text-anchor="end" font-weight="normal" fill="#111" stroke="#111" stroke-width="0.22">20</text>
<text x="46.5" y="915.31" font-size="9.3" text-anchor="end" font-weight="normal" fill="#111" stroke="#111" stroke-width="0.22">40</text>
<text x="46.5" y="899.52" font-size="9.3" text-anchor="end" font-weight="normal" fill="#111" stroke="#111" stroke-width="0.22">60</text>
<text x="46.5" y="883.73" font-size="9.3" text-anchor="end" font-weight="normal" fill="#111" stroke="#111" stroke-width="0.22">80</text>
<text x="46.5" y="867.93" font-size="9.3" text-anchor="end" font-weight="normal" fill="#111" stroke="#111" stroke-width="0.22">100</text>
<line x1="55.7" y1="943.6" x2="55.7" y2="948.6" stroke="#000" stroke-width="1.4"/>
<line x1="61.67" y1="943.6" x2="61.67" y2="946.9" stroke="#000" stroke-width="1.15"/>
<line x1="65.16" y1="943.6" x2="65.16" y2="946.9" stroke="#000" stroke-width="1.15"/>
<line x1="67.64" y1="943.6" x2="67.64" y2="946.9" stroke="#000" stroke-width="1.15"/>
<line x1="69.56" y1="943.6" x2="69.56" y2="946.9" stroke="#000" stroke-width="1.15"/>
<line x1="71.13" y1="943.6" x2="71.13" y2="946.9" stroke="#000" stroke-width="1.15"/>
<line x1="72.45" y1="943.6" x2="72.45" y2="946.9" stroke="#000" stroke-width="1.15"/>
<line x1="73.6" y1="943.6" x2="73.6" y2="946.9" stroke="#000" stroke-width="1.15"/>
<line x1="74.62" y1="943.6" x2="74.62" y2="946.9" stroke="#000" stroke-width="1.15"/>
<text x="56.1" y="958.8" font-size="8.8" text-anchor="middle" fill="#1a1a1a" stroke="#1a1a1a" stroke-width="0.2">10<tspan font-size="5.8" dy="-3.1">0</tspan></text>
<line x1="75.53" y1="943.6" x2="75.53" y2="948.6" stroke="#000" stroke-width="1.4"/>
<line x1="81.49" y1="943.6" x2="81.49" y2="946.9" stroke="#000" stroke-width="1.15"/>
<line x1="84.98" y1="943.6" x2="84.98" y2="946.9" stroke="#000" stroke-width="1.15"/>
<line x1="87.46" y1="943.6" x2="87.46" y2="946.9" stroke="#000" stroke-width="1.15"/>
<line x1="89.38" y1="943.6" x2="89.38" y2="946.9" stroke="#000" stroke-width="1.15"/>
<line x1="90.95" y1="943.6" x2="90.95" y2="946.9" stroke="#000" stroke-width="1.15"/>
<line x1="92.28" y1="943.6" x2="92.28" y2="946.9" stroke="#000" stroke-width="1.15"/>
<line x1="93.43" y1="943.6" x2="93.43" y2="946.9" stroke="#000" stroke-width="1.15"/>
<line x1="94.44" y1="943.6" x2="94.44" y2="946.9" stroke="#000" stroke-width="1.15"/>
<text x="75.93" y="958.8" font-size="8.8" text-anchor="middle" fill="#1a1a1a" stroke="#1a1a1a" stroke-width="0.2">10<tspan font-size="5.8" dy="-3.1">1</tspan></text>
<line x1="95.35" y1="943.6" x2="95.35" y2="948.6" stroke="#000" stroke-width="1.4"/>
<line x1="101.32" y1="943.6" x2="101.32" y2="946.9" stroke="#000" stroke-width="1.15"/>
<line x1="104.81" y1="943.6" x2="104.81" y2="946.9" stroke="#000" stroke-width="1.15"/>
<line x1="107.29" y1="943.6" x2="107.29" y2="946.9" stroke="#000" stroke-width="1.15"/>
<line x1="109.21" y1="943.6" x2="109.21" y2="946.9" stroke="#000" stroke-width="1.15"/>
<line x1="110.78" y1="943.6" x2="110.78" y2="946.9" stroke="#000" stroke-width="1.15"/>
<line x1="112.1" y1="943.6" x2="112.1" y2="946.9" stroke="#000" stroke-width="1.15"/>
<line x1="113.25" y1="943.6" x2="113.25" y2="946.9" stroke="#000" stroke-width="1.15"/>
<line x1="114.27" y1="943.6" x2="114.27" y2="946.9" stroke="#000" stroke-width="1.15"/>
<text x="95.75" y="958.8" font-size="8.8" text-anchor="middle" fill="#1a1a1a" stroke="#1a1a1a" stroke-width="0.2">10<tspan font-size="5.8" dy="-3.1">2</tspan></text>
<line x1="115.17" y1="943.6" x2="115.17" y2="948.6" stroke="#000" stroke-width="1.4"/>
<line x1="121.14" y1="943.6" x2="121.14" y2="946.9" stroke="#000" stroke-width="1.15"/>
<line x1="124.63" y1="943.6" x2="124.63" y2="946.9" stroke="#000" stroke-width="1.15"/>
<line x1="127.11" y1="943.6" x2="127.11" y2="946.9" stroke="#000" stroke-width="1.15"/>
<line x1="129.03" y1="943.6" x2="129.03" y2="946.9" stroke="#000" stroke-width="1.15"/>
<line x1="130.6" y1="943.6" x2="130.6" y2="946.9" stroke="#000" stroke-width="1.15"/>
<line x1="131.93" y1="943.6" x2="131.93" y2="946.9" stroke="#000" stroke-width="1.15"/>
<line x1="133.08" y1="943.6" x2="133.08" y2="946.9" stroke="#000" stroke-width="1.15"/>
<line x1="134.09" y1="943.6" x2="134.09" y2="946.9" stroke="#000" stroke-width="1.15"/>
<text x="115.58" y="958.8" font-size="8.8" text-anchor="middle" fill="#1a1a1a" stroke="#1a1a1a" stroke-width="0.2">10<tspan font-size="5.8" dy="-3.1">3</tspan></text>
<line x1="135" y1="943.6" x2="135" y2="948.6" stroke="#000" stroke-width="1.4"/>
<text x="135.4" y="958.8" font-size="8.8" text-anchor="middle" fill="#1a1a1a" stroke="#1a1a1a" stroke-width="0.2">10<tspan font-size="5.8" dy="-3.1">4</tspan></text>
<text x="97.8" y="871.3" font-size="9.3" text-anchor="start" font-weight="normal" fill="#111" stroke="#111" stroke-width="0.22">Resting</text>
<path d="M168.3 927.81L168.39 926.61L168.48 925.03L168.61 923.12L168.78 920.93L169 918.53L169.3 915.96L169.69 913.08L170.17 909.82L170.71 906.34L171.26 902.8L171.8 899.37L172.29 896.22L172.72 893.2L173.13 890.17L173.52 887.24L173.91 884.55L174.29 882.24L174.68 880.43L175.1 879.26L175.53 878.64L175.96 878.4L176.37 878.35L176.75 878.3L177.08 878.06L177.35 877.64L177.57 877.18L177.75 876.73L177.92 876.3L178.09 875.95L178.28 875.69L178.47 875.41L178.66 875.05L178.85 874.75L179.04 874.67L179.25 874.93L179.47 875.69L179.71 877.01L179.97 878.79L180.25 880.92L180.52 883.29L180.8 885.8L181.07 888.32L181.33 890.89L181.59 893.59L181.85 896.42L182.12 899.38L182.39 902.47L182.66 905.7L182.95 909.24L183.26 913.13L183.56 917.15L183.87 921.08L184.17 924.71L184.46 927.81L184.74 930.36L185.01 932.54L185.27 934.42L185.53 936.05L185.79 937.51L186.06 938.86L186.34 940.07L186.65 941.08L186.95 941.92L187.24 942.61L187.48 943.16L187.65 943.6L187.65 943.6L168.3 943.6Z" fill="#d0d0d3" stroke="none"/>
<path d="M168.3 927.81L168.39 926.61L168.48 925.03L168.61 923.12L168.78 920.93L169 918.53L169.3 915.96L169.69 913.08L170.17 909.82L170.71 906.34L171.26 902.8L171.8 899.37L172.29 896.22L172.72 893.2L173.13 890.17L173.52 887.24L173.91 884.55L174.29 882.24L174.68 880.43L175.1 879.26L175.53 878.64L175.96 878.4L176.37 878.35L176.75 878.3L177.08 878.06L177.35 877.64L177.57 877.18L177.75 876.73L177.92 876.3L178.09 875.95L178.28 875.69L178.47 875.41L178.66 875.05L178.85 874.75L179.04 874.67L179.25 874.93L179.47 875.69L179.71 877.01L179.97 878.79L180.25 880.92L180.52 883.29L180.8 885.8L181.07 888.32L181.33 890.89L181.59 893.59L181.85 896.42L182.12 899.38L182.39 902.47L182.66 905.7L182.95 909.24L183.26 913.13L183.56 917.15L183.87 921.08L184.17 924.71L184.46 927.81L184.74 930.36L185.01 932.54L185.27 934.42L185.53 936.05L185.79 937.51L186.06 938.86L186.34 940.07L186.65 941.08L186.95 941.92L187.24 942.61L187.48 943.16L187.65 943.6" fill="none" stroke="#3c3c3c" stroke-width="1.1" stroke-linejoin="round"/>
<path d="M177.08 943.6L177.78 941.99L178.49 941.76L179.2 940.27L179.9 938.25L180.61 937.63L181.32 934.58L182.02 930.64L182.73 924.92L183.44 921.68L184.14 915.89L184.85 909.29L185.56 901.64L186.26 894.54L186.97 889.45L187.68 880.81L188.38 876.84L189.09 871L189.8 868.36L190.5 870.84L191.21 869.91L191.92 874.96L192.62 879.92L193.33 883.72L194.04 890.45L194.74 893.91L195.45 899.95L196.16 906.72L196.86 911.82L197.57 916.12L198.27 919.89L198.98 925.2L199.69 929.1L200.39 931.39L201.1 934.2L201.81 935.3L202.51 935.51L203.22 937.89L203.93 938.54L204.63 938.45L205.34 940.21L206.05 941.06L206.75 941.46L207.46 941.39L208.17 941.71L208.87 942.2L209.58 943.53L210.29 943.54L210.99 943.6" fill="none" stroke="#213d72" stroke-width="1.9" stroke-linejoin="round"/>
<path d="M176.88 943.6L177.59 942.83L178.29 941.69L179 940.47L179.7 939.16L180.41 937.01L181.12 934.74L181.82 931.7L182.53 925.97L183.24 921.47L183.94 915.52L184.65 909.09L185.36 900.81L186.06 895.11L186.77 887.62L187.48 880.17L188.18 874.94L188.89 871.58L189.6 869.96L190.3 868.64L191.01 871.21L191.72 872.67L192.42 879.67L193.13 883.39L193.84 888.01L194.54 893.84L195.25 899.46L195.96 904.52L196.66 911.46L197.37 914.97L198.08 919.31L198.78 925.58L199.49 928.44L200.2 931.25L200.9 933.44L201.61 934.79L202.31 936.66L203.02 936.92L203.73 937.38L204.43 938.11L205.14 939L205.85 940.85L206.55 940.57L207.26 941.1L207.97 941.87L208.67 942.18L209.38 943.18L210.09 942.8L210.79 943.6" fill="none" stroke="#4a1767" stroke-width="1.9" stroke-linejoin="round"/>
<path d="M177.48 943.6L178.18 942.5L178.89 942.17L179.6 939.94L180.3 939.15L181.01 936.02L181.72 934.98L182.42 929.84L183.13 926.21L183.84 918.63L184.54 912.89L185.25 908.82L185.96 900.86L186.66 894.93L187.37 886.59L188.08 879.09L188.78 876.02L189.49 871.3L190.2 868.99L190.9 868.69L191.61 869.25L192.31 873.89L193.02 878.05L193.73 881.12L194.43 888.12L195.14 893.62L195.85 899.21L196.55 903.49L197.26 910.71L197.97 914.9L198.67 918.76L199.38 923.91L200.09 928.24L200.79 931.5L201.5 932.65L202.21 935.38L202.91 936.21L203.62 936.46L204.33 937.45L205.03 939.23L205.74 939.8L206.45 940.66L207.15 941.31L207.86 941.52L208.57 942.66L209.27 943.07L209.98 943.39L210.69 943.47L211.39 943.6" fill="none" stroke="#5a984a" stroke-width="1.9" stroke-linejoin="round"/>
<path d="M177.68 943.6L178.38 943.28L179.09 941.7L179.8 941.06L180.5 938.35L181.21 936.94L181.92 935.36L182.62 931.57L183.33 925.04L184.04 920.92L184.74 913.56L185.45 907.72L186.16 901.7L186.86 893.49L187.57 886.87L188.27 880.63L188.98 875.89L189.69 871.92L190.39 869.52L191.1 868.21L191.81 870.41L192.51 872.56L193.22 878.24L193.93 882.7L194.63 886.63L195.34 893.27L196.05 898.7L196.75 904.33L197.46 909.31L198.17 916.34L198.87 919.42L199.58 925.32L200.29 928.46L200.99 930.61L201.7 933.47L202.41 934.81L203.11 936.65L203.82 937.63L204.53 938.17L205.23 938.64L205.94 939.24L206.65 940.31L207.35 941.18L208.06 940.74L208.77 941.56L209.47 942.38L210.18 942.77L210.88 943.6L211.59 943.6" fill="none" stroke="#e4aa55" stroke-width="2" stroke-linejoin="round"/>
<path d="M183.66 943.6L184.36 943.19L185.07 943.17L185.77 942.17L186.47 942.38L187.17 941.48L187.87 939.97L188.58 940.87L189.28 939.78L189.98 938.38L190.68 938.47L191.38 936.5L192.09 932.21L192.79 927.97L193.49 924.88L194.19 919.98L194.89 912.09L195.6 907.31L196.3 898.34L197 889.36L197.7 881.67L198.41 874.6L199.11 870.18L199.81 870.9L200.51 875.35L201.21 882.76L201.92 889.76L202.62 896.93L203.32 903.94L204.02 909.61L204.72 912.97L205.43 918.33L206.13 924.23L206.83 926.35L207.53 931.18L208.23 932.19L208.94 933.14L209.64 934.08L210.34 934.77L211.04 934.46L211.74 935.41L212.45 935.63L213.15 936.2L213.85 936.73L214.55 937.55L215.26 938.92L215.96 939.21L216.66 940.89L217.36 940.91L218.06 941.62L218.77 942.14L219.47 943.6L220.17 943.6" fill="none" stroke="#a3123d" stroke-width="1.9" stroke-linejoin="round"/>
<rect x="168.3" y="861" width="79.8" height="82.6" fill="none" stroke="#000" stroke-width="1.9"/>
<line x1="163.8" y1="943.6" x2="168.3" y2="943.6" stroke="#000" stroke-width="1.25"/>
<line x1="166.1" y1="939.65" x2="168.3" y2="939.65" stroke="#000" stroke-width="1.25"/>
<line x1="166.1" y1="935.7" x2="168.3" y2="935.7" stroke="#000" stroke-width="1.25"/>
<line x1="166.1" y1="931.76" x2="168.3" y2="931.76" stroke="#000" stroke-width="1.25"/>
<line x1="163.8" y1="927.81" x2="168.3" y2="927.81" stroke="#000" stroke-width="1.25"/>
<line x1="166.1" y1="923.86" x2="168.3" y2="923.86" stroke="#000" stroke-width="1.25"/>
<line x1="166.1" y1="919.91" x2="168.3" y2="919.91" stroke="#000" stroke-width="1.25"/>
<line x1="166.1" y1="915.96" x2="168.3" y2="915.96" stroke="#000" stroke-width="1.25"/>
<line x1="163.8" y1="912.01" x2="168.3" y2="912.01" stroke="#000" stroke-width="1.25"/>
<line x1="166.1" y1="908.07" x2="168.3" y2="908.07" stroke="#000" stroke-width="1.25"/>
<line x1="166.1" y1="904.12" x2="168.3" y2="904.12" stroke="#000" stroke-width="1.25"/>
<line x1="166.1" y1="900.17" x2="168.3" y2="900.17" stroke="#000" stroke-width="1.25"/>
<line x1="163.8" y1="896.22" x2="168.3" y2="896.22" stroke="#000" stroke-width="1.25"/>
<line x1="166.1" y1="892.27" x2="168.3" y2="892.27" stroke="#000" stroke-width="1.25"/>
<line x1="166.1" y1="888.32" x2="168.3" y2="888.32" stroke="#000" stroke-width="1.25"/>
<line x1="166.1" y1="884.38" x2="168.3" y2="884.38" stroke="#000" stroke-width="1.25"/>
<line x1="163.8" y1="880.43" x2="168.3" y2="880.43" stroke="#000" stroke-width="1.25"/>
<line x1="166.1" y1="876.48" x2="168.3" y2="876.48" stroke="#000" stroke-width="1.25"/>
<line x1="166.1" y1="872.53" x2="168.3" y2="872.53" stroke="#000" stroke-width="1.25"/>
<line x1="166.1" y1="868.58" x2="168.3" y2="868.58" stroke="#000" stroke-width="1.25"/>
<line x1="163.8" y1="864.63" x2="168.3" y2="864.63" stroke="#000" stroke-width="1.25"/>
<line x1="165.1" y1="861" x2="168.3" y2="861" stroke="#000" stroke-width="1.3"/>
<text x="159.1" y="946.9" font-size="9.3" text-anchor="end" font-weight="normal" fill="#111" stroke="#111" stroke-width="0.22">0</text>
<text x="159.1" y="931.11" font-size="9.3" text-anchor="end" font-weight="normal" fill="#111" stroke="#111" stroke-width="0.22">20</text>
<text x="159.1" y="915.31" font-size="9.3" text-anchor="end" font-weight="normal" fill="#111" stroke="#111" stroke-width="0.22">40</text>
<text x="159.1" y="899.52" font-size="9.3" text-anchor="end" font-weight="normal" fill="#111" stroke="#111" stroke-width="0.22">60</text>
<text x="159.1" y="883.73" font-size="9.3" text-anchor="end" font-weight="normal" fill="#111" stroke="#111" stroke-width="0.22">80</text>
<text x="159.1" y="867.93" font-size="9.3" text-anchor="end" font-weight="normal" fill="#111" stroke="#111" stroke-width="0.22">100</text>
<line x1="168.3" y1="943.6" x2="168.3" y2="948.6" stroke="#000" stroke-width="1.4"/>
<line x1="174.31" y1="943.6" x2="174.31" y2="946.9" stroke="#000" stroke-width="1.15"/>
<line x1="177.82" y1="943.6" x2="177.82" y2="946.9" stroke="#000" stroke-width="1.15"/>
<line x1="180.31" y1="943.6" x2="180.31" y2="946.9" stroke="#000" stroke-width="1.15"/>
<line x1="182.24" y1="943.6" x2="182.24" y2="946.9" stroke="#000" stroke-width="1.15"/>
<line x1="183.82" y1="943.6" x2="183.82" y2="946.9" stroke="#000" stroke-width="1.15"/>
<line x1="185.16" y1="943.6" x2="185.16" y2="946.9" stroke="#000" stroke-width="1.15"/>
<line x1="186.32" y1="943.6" x2="186.32" y2="946.9" stroke="#000" stroke-width="1.15"/>
<line x1="187.34" y1="943.6" x2="187.34" y2="946.9" stroke="#000" stroke-width="1.15"/>
<text x="168.7" y="958.8" font-size="8.8" text-anchor="middle" fill="#1a1a1a" stroke="#1a1a1a" stroke-width="0.2">10<tspan font-size="5.8" dy="-3.1">0</tspan></text>
<line x1="188.25" y1="943.6" x2="188.25" y2="948.6" stroke="#000" stroke-width="1.4"/>
<line x1="194.26" y1="943.6" x2="194.26" y2="946.9" stroke="#000" stroke-width="1.15"/>
<line x1="197.77" y1="943.6" x2="197.77" y2="946.9" stroke="#000" stroke-width="1.15"/>
<line x1="200.26" y1="943.6" x2="200.26" y2="946.9" stroke="#000" stroke-width="1.15"/>
<line x1="202.19" y1="943.6" x2="202.19" y2="946.9" stroke="#000" stroke-width="1.15"/>
<line x1="203.77" y1="943.6" x2="203.77" y2="946.9" stroke="#000" stroke-width="1.15"/>
<line x1="205.11" y1="943.6" x2="205.11" y2="946.9" stroke="#000" stroke-width="1.15"/>
<line x1="206.27" y1="943.6" x2="206.27" y2="946.9" stroke="#000" stroke-width="1.15"/>
<line x1="207.29" y1="943.6" x2="207.29" y2="946.9" stroke="#000" stroke-width="1.15"/>
<text x="188.65" y="958.8" font-size="8.8" text-anchor="middle" fill="#1a1a1a" stroke="#1a1a1a" stroke-width="0.2">10<tspan font-size="5.8" dy="-3.1">1</tspan></text>
<line x1="208.2" y1="943.6" x2="208.2" y2="948.6" stroke="#000" stroke-width="1.4"/>
<line x1="214.21" y1="943.6" x2="214.21" y2="946.9" stroke="#000" stroke-width="1.15"/>
<line x1="217.72" y1="943.6" x2="217.72" y2="946.9" stroke="#000" stroke-width="1.15"/>
<line x1="220.21" y1="943.6" x2="220.21" y2="946.9" stroke="#000" stroke-width="1.15"/>
<line x1="222.14" y1="943.6" x2="222.14" y2="946.9" stroke="#000" stroke-width="1.15"/>
<line x1="223.72" y1="943.6" x2="223.72" y2="946.9" stroke="#000" stroke-width="1.15"/>
<line x1="225.06" y1="943.6" x2="225.06" y2="946.9" stroke="#000" stroke-width="1.15"/>
<line x1="226.22" y1="943.6" x2="226.22" y2="946.9" stroke="#000" stroke-width="1.15"/>
<line x1="227.24" y1="943.6" x2="227.24" y2="946.9" stroke="#000" stroke-width="1.15"/>
<text x="208.6" y="958.8" font-size="8.8" text-anchor="middle" fill="#1a1a1a" stroke="#1a1a1a" stroke-width="0.2">10<tspan font-size="5.8" dy="-3.1">2</tspan></text>
<line x1="228.15" y1="943.6" x2="228.15" y2="948.6" stroke="#000" stroke-width="1.4"/>
<line x1="234.16" y1="943.6" x2="234.16" y2="946.9" stroke="#000" stroke-width="1.15"/>
<line x1="237.67" y1="943.6" x2="237.67" y2="946.9" stroke="#000" stroke-width="1.15"/>
<line x1="240.16" y1="943.6" x2="240.16" y2="946.9" stroke="#000" stroke-width="1.15"/>
<line x1="242.09" y1="943.6" x2="242.09" y2="946.9" stroke="#000" stroke-width="1.15"/>
<line x1="243.67" y1="943.6" x2="243.67" y2="946.9" stroke="#000" stroke-width="1.15"/>
<line x1="245.01" y1="943.6" x2="245.01" y2="946.9" stroke="#000" stroke-width="1.15"/>
<line x1="246.17" y1="943.6" x2="246.17" y2="946.9" stroke="#000" stroke-width="1.15"/>
<line x1="247.19" y1="943.6" x2="247.19" y2="946.9" stroke="#000" stroke-width="1.15"/>
<text x="228.55" y="958.8" font-size="8.8" text-anchor="middle" fill="#1a1a1a" stroke="#1a1a1a" stroke-width="0.2">10<tspan font-size="5.8" dy="-3.1">3</tspan></text>
<line x1="248.1" y1="943.6" x2="248.1" y2="948.6" stroke="#000" stroke-width="1.4"/>
<text x="248.5" y="958.8" font-size="8.8" text-anchor="middle" fill="#1a1a1a" stroke="#1a1a1a" stroke-width="0.2">10<tspan font-size="5.8" dy="-3.1">4</tspan></text>
<text x="205.9" y="870.9" font-size="9.3" text-anchor="start" font-weight="normal" fill="#111" stroke="#111" stroke-width="0.22">Activated</text>
<path d="M292.8 934.12L292.87 933.62L292.97 933.07L293.08 932.35L293.22 931.32L293.39 929.85L293.59 927.81L293.82 925.03L294.08 921.58L294.37 917.69L294.68 913.59L295.02 909.52L295.37 905.7L295.75 902.04L296.15 898.36L296.57 894.69L297.01 891.1L297.47 887.65L297.94 884.38L298.44 881.06L298.98 877.62L299.54 874.31L300.09 871.39L300.62 869.13L301.11 867.79L301.54 867.33L301.95 867.53L302.33 868.39L302.7 869.9L303.08 872.07L303.48 874.9L303.9 878.74L304.33 883.67L304.76 889.26L305.2 895.08L305.63 900.7L306.05 905.7L306.46 910.19L306.85 914.56L307.25 918.73L307.64 922.63L308.03 926.21L308.42 929.39L308.83 932.16L309.26 934.56L309.68 936.64L310.09 938.42L310.47 939.94L310.8 941.23L311.08 942.2L311.32 942.81L311.54 943.16L311.72 943.34L311.87 943.45L311.98 943.6L311.98 943.6L292.8 943.6Z" fill="#d0d0d3" stroke="none"/>
<path d="M292.8 934.12L292.87 933.62L292.97 933.07L293.08 932.35L293.22 931.32L293.39 929.85L293.59 927.81L293.82 925.03L294.08 921.58L294.37 917.69L294.68 913.59L295.02 909.52L295.37 905.7L295.75 902.04L296.15 898.36L296.57 894.69L297.01 891.1L297.47 887.65L297.94 884.38L298.44 881.06L298.98 877.62L299.54 874.31L300.09 871.39L300.62 869.13L301.11 867.79L301.54 867.33L301.95 867.53L302.33 868.39L302.7 869.9L303.08 872.07L303.48 874.9L303.9 878.74L304.33 883.67L304.76 889.26L305.2 895.08L305.63 900.7L306.05 905.7L306.46 910.19L306.85 914.56L307.25 918.73L307.64 922.63L308.03 926.21L308.42 929.39L308.83 932.16L309.26 934.56L309.68 936.64L310.09 938.42L310.47 939.94L310.8 941.23L311.08 942.2L311.32 942.81L311.54 943.16L311.72 943.34L311.87 943.45L311.98 943.6" fill="none" stroke="#3c3c3c" stroke-width="1.1" stroke-linejoin="round"/>
<path d="M292.8 932.21L293.5 928.78L294.21 919.28L294.91 910.81L295.61 901.17L296.32 896.3L297.02 889.28L297.72 882.75L298.43 879.63L299.13 873.12L299.84 869.8L300.54 867.07L301.24 864.91L301.95 864.94L302.65 867.96L303.35 870.21L304.06 878.99L304.76 886.03L305.46 896.1L306.17 907.27L306.87 914.55L307.57 921.45L308.28 927.02L308.98 933.35L309.68 936.02L310.39 939.28L311.09 940.61L311.8 940.85L312.5 941.1L313.2 942.24L313.91 941.34L314.61 941.96L315.31 941.31L316.02 941.99L316.72 941.28L317.42 941.17L318.13 941.47L318.83 941.47L319.53 941.5L320.24 941.91L320.94 942.66L321.64 941.32L322.35 942.33L323.05 943.26L323.76 942.75L324.46 942.93L325.16 943.4L325.87 942.29L326.57 943.6L327.27 943.26L327.98 943.37L328.68 943.49L329.38 943.6" fill="none" stroke="#e4aa55" stroke-width="1.9" stroke-linejoin="round"/>
<path d="M292.8 932.54L293.5 927.52L294.21 921.12L294.91 910.23L295.61 903.38L296.32 895.55L297.02 891.32L297.72 884.55L298.43 882.27L299.13 875.09L299.84 873.02L300.54 870.55L301.24 868.18L301.95 867.08L302.65 871.27L303.35 874.38L304.06 882.15L304.76 890.56L305.46 899.51L306.17 907.76L306.87 915.35L307.57 921.35L308.28 928.43L308.98 932.18L309.68 935.68L310.39 938.41L311.09 940.41L311.8 941.53L312.5 941.32L313.2 941.1L313.91 941.77L314.61 942.51L315.31 941.92L316.02 941.94L316.72 942.57L317.42 942.74L318.13 942.6L318.83 941.75L319.53 941.57L320.24 941.85L320.94 942.26L321.64 942.99L322.35 943.13L323.05 942.23L323.76 942.62L324.46 942.88L325.16 943.45L325.87 943.6L326.57 943.6L327.27 943.27L327.98 943.38L328.68 943.49L329.38 943.6" fill="none" stroke="#a3123d" stroke-width="2" stroke-linejoin="round"/>
<rect x="292.8" y="861" width="79.1" height="82.6" fill="none" stroke="#000" stroke-width="1.9"/>
<line x1="288.3" y1="943.6" x2="292.8" y2="943.6" stroke="#000" stroke-width="1.25"/>
<line x1="290.6" y1="939.65" x2="292.8" y2="939.65" stroke="#000" stroke-width="1.25"/>
<line x1="290.6" y1="935.7" x2="292.8" y2="935.7" stroke="#000" stroke-width="1.25"/>
<line x1="290.6" y1="931.76" x2="292.8" y2="931.76" stroke="#000" stroke-width="1.25"/>
<line x1="288.3" y1="927.81" x2="292.8" y2="927.81" stroke="#000" stroke-width="1.25"/>
<line x1="290.6" y1="923.86" x2="292.8" y2="923.86" stroke="#000" stroke-width="1.25"/>
<line x1="290.6" y1="919.91" x2="292.8" y2="919.91" stroke="#000" stroke-width="1.25"/>
<line x1="290.6" y1="915.96" x2="292.8" y2="915.96" stroke="#000" stroke-width="1.25"/>
<line x1="288.3" y1="912.01" x2="292.8" y2="912.01" stroke="#000" stroke-width="1.25"/>
<line x1="290.6" y1="908.07" x2="292.8" y2="908.07" stroke="#000" stroke-width="1.25"/>
<line x1="290.6" y1="904.12" x2="292.8" y2="904.12" stroke="#000" stroke-width="1.25"/>
<line x1="290.6" y1="900.17" x2="292.8" y2="900.17" stroke="#000" stroke-width="1.25"/>
<line x1="288.3" y1="896.22" x2="292.8" y2="896.22" stroke="#000" stroke-width="1.25"/>
<line x1="290.6" y1="892.27" x2="292.8" y2="892.27" stroke="#000" stroke-width="1.25"/>
<line x1="290.6" y1="888.32" x2="292.8" y2="888.32" stroke="#000" stroke-width="1.25"/>
<line x1="290.6" y1="884.38" x2="292.8" y2="884.38" stroke="#000" stroke-width="1.25"/>
<line x1="288.3" y1="880.43" x2="292.8" y2="880.43" stroke="#000" stroke-width="1.25"/>
<line x1="290.6" y1="876.48" x2="292.8" y2="876.48" stroke="#000" stroke-width="1.25"/>
<line x1="290.6" y1="872.53" x2="292.8" y2="872.53" stroke="#000" stroke-width="1.25"/>
<line x1="290.6" y1="868.58" x2="292.8" y2="868.58" stroke="#000" stroke-width="1.25"/>
<line x1="288.3" y1="864.63" x2="292.8" y2="864.63" stroke="#000" stroke-width="1.25"/>
<line x1="289.6" y1="861" x2="292.8" y2="861" stroke="#000" stroke-width="1.3"/>
<text x="283.6" y="946.9" font-size="9.3" text-anchor="end" font-weight="normal" fill="#111" stroke="#111" stroke-width="0.22">0</text>
<text x="283.6" y="931.11" font-size="9.3" text-anchor="end" font-weight="normal" fill="#111" stroke="#111" stroke-width="0.22">20</text>
<text x="283.6" y="915.31" font-size="9.3" text-anchor="end" font-weight="normal" fill="#111" stroke="#111" stroke-width="0.22">40</text>
<text x="283.6" y="899.52" font-size="9.3" text-anchor="end" font-weight="normal" fill="#111" stroke="#111" stroke-width="0.22">60</text>
<text x="283.6" y="883.73" font-size="9.3" text-anchor="end" font-weight="normal" fill="#111" stroke="#111" stroke-width="0.22">80</text>
<text x="283.6" y="867.93" font-size="9.3" text-anchor="end" font-weight="normal" fill="#111" stroke="#111" stroke-width="0.22">100</text>
<line x1="292.8" y1="943.6" x2="292.8" y2="948.6" stroke="#000" stroke-width="1.4"/>
<line x1="298.75" y1="943.6" x2="298.75" y2="946.9" stroke="#000" stroke-width="1.15"/>
<line x1="302.24" y1="943.6" x2="302.24" y2="946.9" stroke="#000" stroke-width="1.15"/>
<line x1="304.71" y1="943.6" x2="304.71" y2="946.9" stroke="#000" stroke-width="1.15"/>
<line x1="306.62" y1="943.6" x2="306.62" y2="946.9" stroke="#000" stroke-width="1.15"/>
<line x1="308.19" y1="943.6" x2="308.19" y2="946.9" stroke="#000" stroke-width="1.15"/>
<line x1="309.51" y1="943.6" x2="309.51" y2="946.9" stroke="#000" stroke-width="1.15"/>
<line x1="310.66" y1="943.6" x2="310.66" y2="946.9" stroke="#000" stroke-width="1.15"/>
<line x1="311.67" y1="943.6" x2="311.67" y2="946.9" stroke="#000" stroke-width="1.15"/>
<text x="293.2" y="958.8" font-size="8.8" text-anchor="middle" fill="#1a1a1a" stroke="#1a1a1a" stroke-width="0.2">10<tspan font-size="5.8" dy="-3.1">0</tspan></text>
<line x1="312.57" y1="943.6" x2="312.57" y2="948.6" stroke="#000" stroke-width="1.4"/>
<line x1="318.53" y1="943.6" x2="318.53" y2="946.9" stroke="#000" stroke-width="1.15"/>
<line x1="322.01" y1="943.6" x2="322.01" y2="946.9" stroke="#000" stroke-width="1.15"/>
<line x1="324.48" y1="943.6" x2="324.48" y2="946.9" stroke="#000" stroke-width="1.15"/>
<line x1="326.4" y1="943.6" x2="326.4" y2="946.9" stroke="#000" stroke-width="1.15"/>
<line x1="327.96" y1="943.6" x2="327.96" y2="946.9" stroke="#000" stroke-width="1.15"/>
<line x1="329.29" y1="943.6" x2="329.29" y2="946.9" stroke="#000" stroke-width="1.15"/>
<line x1="330.43" y1="943.6" x2="330.43" y2="946.9" stroke="#000" stroke-width="1.15"/>
<line x1="331.45" y1="943.6" x2="331.45" y2="946.9" stroke="#000" stroke-width="1.15"/>
<text x="312.97" y="958.8" font-size="8.8" text-anchor="middle" fill="#1a1a1a" stroke="#1a1a1a" stroke-width="0.2">10<tspan font-size="5.8" dy="-3.1">1</tspan></text>
<line x1="332.35" y1="943.6" x2="332.35" y2="948.6" stroke="#000" stroke-width="1.4"/>
<line x1="338.3" y1="943.6" x2="338.3" y2="946.9" stroke="#000" stroke-width="1.15"/>
<line x1="341.79" y1="943.6" x2="341.79" y2="946.9" stroke="#000" stroke-width="1.15"/>
<line x1="344.26" y1="943.6" x2="344.26" y2="946.9" stroke="#000" stroke-width="1.15"/>
<line x1="346.17" y1="943.6" x2="346.17" y2="946.9" stroke="#000" stroke-width="1.15"/>
<line x1="347.74" y1="943.6" x2="347.74" y2="946.9" stroke="#000" stroke-width="1.15"/>
<line x1="349.06" y1="943.6" x2="349.06" y2="946.9" stroke="#000" stroke-width="1.15"/>
<line x1="350.21" y1="943.6" x2="350.21" y2="946.9" stroke="#000" stroke-width="1.15"/>
<line x1="351.22" y1="943.6" x2="351.22" y2="946.9" stroke="#000" stroke-width="1.15"/>
<text x="332.75" y="958.8" font-size="8.8" text-anchor="middle" fill="#1a1a1a" stroke="#1a1a1a" stroke-width="0.2">10<tspan font-size="5.8" dy="-3.1">2</tspan></text>
<line x1="352.12" y1="943.6" x2="352.12" y2="948.6" stroke="#000" stroke-width="1.4"/>
<line x1="358.08" y1="943.6" x2="358.08" y2="946.9" stroke="#000" stroke-width="1.15"/>
<line x1="361.56" y1="943.6" x2="361.56" y2="946.9" stroke="#000" stroke-width="1.15"/>
<line x1="364.03" y1="943.6" x2="364.03" y2="946.9" stroke="#000" stroke-width="1.15"/>
<line x1="365.95" y1="943.6" x2="365.95" y2="946.9" stroke="#000" stroke-width="1.15"/>
<line x1="367.51" y1="943.6" x2="367.51" y2="946.9" stroke="#000" stroke-width="1.15"/>
<line x1="368.84" y1="943.6" x2="368.84" y2="946.9" stroke="#000" stroke-width="1.15"/>
<line x1="369.98" y1="943.6" x2="369.98" y2="946.9" stroke="#000" stroke-width="1.15"/>
<line x1="371" y1="943.6" x2="371" y2="946.9" stroke="#000" stroke-width="1.15"/>
<text x="352.52" y="958.8" font-size="8.8" text-anchor="middle" fill="#1a1a1a" stroke="#1a1a1a" stroke-width="0.2">10<tspan font-size="5.8" dy="-3.1">3</tspan></text>
<line x1="371.9" y1="943.6" x2="371.9" y2="948.6" stroke="#000" stroke-width="1.4"/>
<text x="372.3" y="958.8" font-size="8.8" text-anchor="middle" fill="#1a1a1a" stroke="#1a1a1a" stroke-width="0.2">10<tspan font-size="5.8" dy="-3.1">4</tspan></text>
<text x="336.2" y="871.2" font-size="9.3" text-anchor="start" font-weight="normal" fill="#111" stroke="#111" stroke-width="0.22">Resting</text>
<path d="M409.6 937.28L409.68 936.4L409.77 935.29L409.89 933.93L410.05 932.25L410.28 930.23L410.6 927.81L411.02 924.94L411.55 921.64L412.15 917.99L412.78 914.06L413.4 909.94L413.98 905.7L414.54 900.95L415.11 895.58L415.68 890L416.23 884.67L416.73 880.01L417.16 876.48L417.51 874.05L417.78 872.38L418.01 871.4L418.22 871.01L418.46 871.15L418.75 871.74L419.1 872.83L419.48 874.49L419.89 876.68L420.3 879.35L420.72 882.45L421.14 885.96L421.56 890.15L421.99 895.14L422.42 900.56L422.86 906.08L423.3 911.33L423.73 915.96L424.16 920.09L424.6 924L425.03 927.66L425.47 930.99L425.9 933.96L426.32 936.49L426.75 938.54L427.22 940.12L427.67 941.33L428.09 942.25L428.45 942.98L428.7 943.6L428.7 943.6L409.6 943.6Z" fill="#d0d0d3" stroke="none"/>
<path d="M409.6 937.28L409.68 936.4L409.77 935.29L409.89 933.93L410.05 932.25L410.28 930.23L410.6 927.81L411.02 924.94L411.55 921.64L412.15 917.99L412.78 914.06L413.4 909.94L413.98 905.7L414.54 900.95L415.11 895.58L415.68 890L416.23 884.67L416.73 880.01L417.16 876.48L417.51 874.05L417.78 872.38L418.01 871.4L418.22 871.01L418.46 871.15L418.75 871.74L419.1 872.83L419.48 874.49L419.89 876.68L420.3 879.35L420.72 882.45L421.14 885.96L421.56 890.15L421.99 895.14L422.42 900.56L422.86 906.08L423.3 911.33L423.73 915.96L424.16 920.09L424.6 924L425.03 927.66L425.47 930.99L425.9 933.96L426.32 936.49L426.75 938.54L427.22 940.12L427.67 941.33L428.09 942.25L428.45 942.98L428.7 943.6" fill="none" stroke="#7a7a9a" stroke-width="1.1" stroke-linejoin="round"/>
<path d="M409.6 935.7L410.3 929.64L411 924.26L411.7 920.98L412.4 915.98L413.09 910.81L413.79 907L414.49 900.59L415.19 893.77L415.89 886.26L416.59 882.3L417.29 876.92L417.99 871.06L418.68 870.84L419.38 873.07L420.08 873.21L420.78 878.12L421.48 881.66L422.18 886.52L422.88 893.9L423.58 902.04L424.28 908.97L424.97 915.55L425.67 922.76L426.37 927.62L427.07 931.26L427.77 935.86L428.47 936.32L429.17 937.11L429.87 936.38L430.56 937.31L431.26 937.57L431.96 938.21L432.66 937.37L433.36 937.52L434.06 938.17L434.76 937.37L435.46 938.32L436.15 937.73L436.85 936.06L437.55 937.06L438.25 936.83L438.95 936.78L439.65 935.26L440.35 934.8L441.05 936.29L441.75 935.32L442.44 935.42L443.14 935.51L443.84 935.65L444.54 935.28L445.24 935.72L445.94 934.02L446.64 935.43L447.34 934.63L448.03 934.31L448.73 934.17L449.43 934.46L450.13 934.26L450.83 933.31L451.53 934.85L452.23 934.76L452.93 934.55L453.63 933.67L454.32 934.48L455.02 934.81L455.72 935.77L456.42 936.03L457.12 935.37L457.82 936.67L458.52 936.67L459.22 937.58L459.91 937.9L460.61 938.59L461.31 937.65L462.01 938.65L462.71 939.35L463.41 940.28L464.11 939.61L464.81 940.55L465.51 941.74L466.2 942.08L466.9 941.19L467.6 942.66L468.3 942.92L469 943.6L469.7 943.6" fill="none" stroke="#213d72" stroke-width="1.9" stroke-linejoin="round"/>
<path d="M409.8 935.7L410.5 928.97L411.2 926.06L411.9 920.73L412.59 916.58L413.29 910.75L413.99 907.39L414.69 901.43L415.39 894.22L416.09 887.76L416.79 879.46L417.49 874.57L418.18 871.98L418.88 873.17L419.58 870.61L420.28 873.85L420.98 876.71L421.68 881.07L422.38 886.28L423.08 891.76L423.78 901.65L424.47 909.99L425.17 914.62L425.87 922.9L426.57 928.51L427.27 932.45L427.97 934.11L428.67 936.12L429.37 937.27L430.06 937.2L430.76 937.67L431.46 938.4L432.16 936.94L432.86 937.45L433.56 938.73L434.26 938.57L434.96 937.07L435.66 937.4L436.35 937.53L437.05 936.82L437.75 935.54L438.45 936.64L439.15 935.55L439.85 936.61L440.55 935.5L441.25 935.91L441.94 935.61L442.64 935.43L443.34 935.3L444.04 934.28L444.74 935.32L445.44 935.97L446.14 934.2L446.84 933.92L447.53 933.99L448.23 935.03L448.93 934.81L449.63 933.84L450.33 935.19L451.03 935.16L451.73 934.15L452.43 934.7L453.13 934.21L453.82 934.89L454.52 933.35L455.22 934.58L455.92 935.21L456.62 935.66L457.32 936.14L458.02 935.55L458.72 935.99L459.41 936.48L460.11 936.68L460.81 937.78L461.51 938.66L462.21 939.03L462.91 940.02L463.61 940.02L464.31 940.25L465.01 940.01L465.7 940.96L466.4 942.22L467.1 941.89L467.8 942.63L468.5 942.29L469.2 942.67L469.9 943.6" fill="none" stroke="#4a1767" stroke-width="1.9" stroke-linejoin="round"/>
<path d="M410 935.55L410.7 930.57L411.4 923.72L412.09 921.31L412.79 915.35L413.49 910.42L414.19 905.62L414.89 901.01L415.59 893.93L416.29 885.55L416.99 878L417.68 873.92L418.38 871.18L419.08 870.62L419.78 871.16L420.48 871.88L421.18 875.94L421.88 879.84L422.58 884.76L423.28 891.65L423.97 901.5L424.67 909.06L425.37 914.83L426.07 921.71L426.77 926.88L427.47 933.08L428.17 935.33L428.87 935.71L429.56 935.63L430.26 937.22L430.96 936.47L431.66 937.51L432.36 937.98L433.06 937.14L433.76 938.69L434.46 937.1L435.16 938.27L435.85 937.95L436.55 937.9L437.25 936.91L437.95 935.67L438.65 936.54L439.35 935.55L440.05 935.58L440.75 935.72L441.44 935.98L442.14 934.7L442.84 935.22L443.54 935.05L444.24 934.71L444.94 935.7L445.64 934.13L446.34 933.89L447.04 935.15L447.73 933.86L448.43 934L449.13 934.75L449.83 934.71L450.53 935.02L451.23 934.23L451.93 934.08L452.63 933.97L453.32 933.98L454.02 933.88L454.72 934.94L455.42 934.98L456.12 934.59L456.82 935.15L457.52 936.2L458.22 936.44L458.91 935.47L459.61 936.32L460.31 936.95L461.01 938.16L461.71 938.49L462.41 938.39L463.11 939.12L463.81 939.43L464.51 941.02L465.2 940.21L465.9 941.59L466.6 941.79L467.3 941.86L468 941.58L468.7 942.92L469.4 942.95L470.1 943.6" fill="none" stroke="#5a984a" stroke-width="1.9" stroke-linejoin="round"/>
<path d="M410.2 935.86L410.9 929.14L411.59 925.42L412.29 921.39L412.99 917.01L413.69 911.91L414.39 906.44L415.09 902.34L415.79 896.24L416.49 888.89L417.19 883.43L417.88 876.71L418.58 872.53L419.28 874.08L419.98 872.84L420.68 876.36L421.38 876.97L422.08 882.27L422.78 887.83L423.47 895.49L424.17 902.83L424.87 908.6L425.57 917.29L426.27 922.46L426.97 928.17L427.67 932.66L428.37 934.67L429.06 936.78L429.76 936.09L430.46 937.73L431.16 937.82L431.86 937.24L432.56 938.42L433.26 938.72L433.96 938.14L434.66 937.91L435.35 939.06L436.05 937.57L436.75 937.39L437.45 938.08L438.15 936.52L438.85 937.25L439.55 935.87L440.25 935.55L440.94 935.86L441.64 935.81L442.34 934.85L443.04 936L443.74 935.39L444.44 935.27L445.14 936.14L445.84 934.33L446.54 935.72L447.23 934.39L447.93 934.95L448.63 935.79L449.33 935.09L450.03 934.42L450.73 934.58L451.43 933.57L452.13 935.32L452.82 933.64L453.52 933.57L454.22 935.06L454.92 934.49L455.62 935.68L456.32 934.9L457.02 935.03L457.72 936.26L458.42 935.7L459.11 937.23L459.81 938.05L460.51 937.69L461.21 937.63L461.91 938.91L462.61 939.5L463.31 939.13L464.01 939.55L464.7 940.94L465.4 941.31L466.1 940.94L466.8 941.08L467.5 942.57L468.2 942.16L468.9 942.54L469.6 943.6L470.3 943.6" fill="none" stroke="#e4aa55" stroke-width="2" stroke-linejoin="round"/>
<path d="M409.6 935.7L410.3 930.9L411.01 924.85L411.71 921.72L412.41 915.95L413.11 910.13L413.82 907.36L414.52 900.47L415.22 896.19L415.93 890.12L416.63 887.78L417.33 881.02L418.03 878.16L418.74 875.3L419.44 874.11L420.14 870.4L420.85 869.36L421.55 866.12L422.25 867.08L422.95 874.49L423.66 882.52L424.36 891.51L425.06 899.79L425.77 906.51L426.47 906.9L427.17 909.25L427.87 911.06L428.58 914.19L429.28 915.01L429.98 916.72L430.69 918.25L431.39 918.54L432.09 919.85L432.79 918.33L433.5 918.94L434.2 920.2L434.9 920.33L435.61 918.49L436.31 916.62L437.01 916.29L437.71 914.28L438.42 916.04L439.12 914.86L439.82 914.4L440.53 916.11L441.23 915.27L441.93 914.66L442.63 914.64L443.34 912.02L444.04 913.28L444.74 913.41L445.45 913.68L446.15 915.52L446.85 915.6L447.55 916.97L448.26 917.68L448.96 916.26L449.66 917.07L450.37 916.5L451.07 915.31L451.77 914.39L452.47 914.79L453.18 913.12L453.88 912.98L454.58 912.49L455.29 915.56L455.99 915.48L456.69 914.65L457.39 913.58L458.1 914.9L458.8 914.1L459.5 917.86L460.21 918.4L460.91 921.53L461.61 922.97L462.31 923.43L463.02 925.91L463.72 926.62L464.42 928.36L465.13 931.34L465.83 932.99L466.53 934.94L467.23 936.7L467.94 937.22L468.64 937.31L469.34 938.77L470.05 938.67L470.75 940.49L471.45 941.09L472.15 940.11L472.86 942L473.56 942.7L474.26 942L474.97 942.72L475.67 943.6" fill="none" stroke="#a3123d" stroke-width="1.9" stroke-linejoin="round"/>
<rect x="409.6" y="861" width="79.6" height="82.6" fill="none" stroke="#000" stroke-width="1.9"/>
<line x1="405.1" y1="943.6" x2="409.6" y2="943.6" stroke="#000" stroke-width="1.25"/>
<line x1="407.4" y1="939.65" x2="409.6" y2="939.65" stroke="#000" stroke-width="1.25"/>
<line x1="407.4" y1="935.7" x2="409.6" y2="935.7" stroke="#000" stroke-width="1.25"/>
<line x1="407.4" y1="931.76" x2="409.6" y2="931.76" stroke="#000" stroke-width="1.25"/>
<line x1="405.1" y1="927.81" x2="409.6" y2="927.81" stroke="#000" stroke-width="1.25"/>
<line x1="407.4" y1="923.86" x2="409.6" y2="923.86" stroke="#000" stroke-width="1.25"/>
<line x1="407.4" y1="919.91" x2="409.6" y2="919.91" stroke="#000" stroke-width="1.25"/>
<line x1="407.4" y1="915.96" x2="409.6" y2="915.96" stroke="#000" stroke-width="1.25"/>
<line x1="405.1" y1="912.01" x2="409.6" y2="912.01" stroke="#000" stroke-width="1.25"/>
<line x1="407.4" y1="908.07" x2="409.6" y2="908.07" stroke="#000" stroke-width="1.25"/>
<line x1="407.4" y1="904.12" x2="409.6" y2="904.12" stroke="#000" stroke-width="1.25"/>
<line x1="407.4" y1="900.17" x2="409.6" y2="900.17" stroke="#000" stroke-width="1.25"/>
<line x1="405.1" y1="896.22" x2="409.6" y2="896.22" stroke="#000" stroke-width="1.25"/>
<line x1="407.4" y1="892.27" x2="409.6" y2="892.27" stroke="#000" stroke-width="1.25"/>
<line x1="407.4" y1="888.32" x2="409.6" y2="888.32" stroke="#000" stroke-width="1.25"/>
<line x1="407.4" y1="884.38" x2="409.6" y2="884.38" stroke="#000" stroke-width="1.25"/>
<line x1="405.1" y1="880.43" x2="409.6" y2="880.43" stroke="#000" stroke-width="1.25"/>
<line x1="407.4" y1="876.48" x2="409.6" y2="876.48" stroke="#000" stroke-width="1.25"/>
<line x1="407.4" y1="872.53" x2="409.6" y2="872.53" stroke="#000" stroke-width="1.25"/>
<line x1="407.4" y1="868.58" x2="409.6" y2="868.58" stroke="#000" stroke-width="1.25"/>
<line x1="405.1" y1="864.63" x2="409.6" y2="864.63" stroke="#000" stroke-width="1.25"/>
<line x1="406.4" y1="861" x2="409.6" y2="861" stroke="#000" stroke-width="1.3"/>
<text x="400.4" y="946.9" font-size="9.3" text-anchor="end" font-weight="normal" fill="#111" stroke="#111" stroke-width="0.22">0</text>
<text x="400.4" y="931.11" font-size="9.3" text-anchor="end" font-weight="normal" fill="#111" stroke="#111" stroke-width="0.22">20</text>
<text x="400.4" y="915.31" font-size="9.3" text-anchor="end" font-weight="normal" fill="#111" stroke="#111" stroke-width="0.22">40</text>
<text x="400.4" y="899.52" font-size="9.3" text-anchor="end" font-weight="normal" fill="#111" stroke="#111" stroke-width="0.22">60</text>
<text x="400.4" y="883.73" font-size="9.3" text-anchor="end" font-weight="normal" fill="#111" stroke="#111" stroke-width="0.22">80</text>
<text x="400.4" y="867.93" font-size="9.3" text-anchor="end" font-weight="normal" fill="#111" stroke="#111" stroke-width="0.22">100</text>
<line x1="409.6" y1="943.6" x2="409.6" y2="948.6" stroke="#000" stroke-width="1.4"/>
<line x1="415.59" y1="943.6" x2="415.59" y2="946.9" stroke="#000" stroke-width="1.15"/>
<line x1="419.09" y1="943.6" x2="419.09" y2="946.9" stroke="#000" stroke-width="1.15"/>
<line x1="421.58" y1="943.6" x2="421.58" y2="946.9" stroke="#000" stroke-width="1.15"/>
<line x1="423.51" y1="943.6" x2="423.51" y2="946.9" stroke="#000" stroke-width="1.15"/>
<line x1="425.09" y1="943.6" x2="425.09" y2="946.9" stroke="#000" stroke-width="1.15"/>
<line x1="426.42" y1="943.6" x2="426.42" y2="946.9" stroke="#000" stroke-width="1.15"/>
<line x1="427.57" y1="943.6" x2="427.57" y2="946.9" stroke="#000" stroke-width="1.15"/>
<line x1="428.59" y1="943.6" x2="428.59" y2="946.9" stroke="#000" stroke-width="1.15"/>
<text x="410" y="958.8" font-size="8.8" text-anchor="middle" fill="#1a1a1a" stroke="#1a1a1a" stroke-width="0.2">10<tspan font-size="5.8" dy="-3.1">0</tspan></text>
<line x1="429.5" y1="943.6" x2="429.5" y2="948.6" stroke="#000" stroke-width="1.4"/>
<line x1="435.49" y1="943.6" x2="435.49" y2="946.9" stroke="#000" stroke-width="1.15"/>
<line x1="438.99" y1="943.6" x2="438.99" y2="946.9" stroke="#000" stroke-width="1.15"/>
<line x1="441.48" y1="943.6" x2="441.48" y2="946.9" stroke="#000" stroke-width="1.15"/>
<line x1="443.41" y1="943.6" x2="443.41" y2="946.9" stroke="#000" stroke-width="1.15"/>
<line x1="444.99" y1="943.6" x2="444.99" y2="946.9" stroke="#000" stroke-width="1.15"/>
<line x1="446.32" y1="943.6" x2="446.32" y2="946.9" stroke="#000" stroke-width="1.15"/>
<line x1="447.47" y1="943.6" x2="447.47" y2="946.9" stroke="#000" stroke-width="1.15"/>
<line x1="448.49" y1="943.6" x2="448.49" y2="946.9" stroke="#000" stroke-width="1.15"/>
<text x="429.9" y="958.8" font-size="8.8" text-anchor="middle" fill="#1a1a1a" stroke="#1a1a1a" stroke-width="0.2">10<tspan font-size="5.8" dy="-3.1">1</tspan></text>
<line x1="449.4" y1="943.6" x2="449.4" y2="948.6" stroke="#000" stroke-width="1.4"/>
<line x1="455.39" y1="943.6" x2="455.39" y2="946.9" stroke="#000" stroke-width="1.15"/>
<line x1="458.89" y1="943.6" x2="458.89" y2="946.9" stroke="#000" stroke-width="1.15"/>
<line x1="461.38" y1="943.6" x2="461.38" y2="946.9" stroke="#000" stroke-width="1.15"/>
<line x1="463.31" y1="943.6" x2="463.31" y2="946.9" stroke="#000" stroke-width="1.15"/>
<line x1="464.89" y1="943.6" x2="464.89" y2="946.9" stroke="#000" stroke-width="1.15"/>
<line x1="466.22" y1="943.6" x2="466.22" y2="946.9" stroke="#000" stroke-width="1.15"/>
<line x1="467.37" y1="943.6" x2="467.37" y2="946.9" stroke="#000" stroke-width="1.15"/>
<line x1="468.39" y1="943.6" x2="468.39" y2="946.9" stroke="#000" stroke-width="1.15"/>
<text x="449.8" y="958.8" font-size="8.8" text-anchor="middle" fill="#1a1a1a" stroke="#1a1a1a" stroke-width="0.2">10<tspan font-size="5.8" dy="-3.1">2</tspan></text>
<line x1="469.3" y1="943.6" x2="469.3" y2="948.6" stroke="#000" stroke-width="1.4"/>
<line x1="475.29" y1="943.6" x2="475.29" y2="946.9" stroke="#000" stroke-width="1.15"/>
<line x1="478.79" y1="943.6" x2="478.79" y2="946.9" stroke="#000" stroke-width="1.15"/>
<line x1="481.28" y1="943.6" x2="481.28" y2="946.9" stroke="#000" stroke-width="1.15"/>
<line x1="483.21" y1="943.6" x2="483.21" y2="946.9" stroke="#000" stroke-width="1.15"/>
<line x1="484.79" y1="943.6" x2="484.79" y2="946.9" stroke="#000" stroke-width="1.15"/>
<line x1="486.12" y1="943.6" x2="486.12" y2="946.9" stroke="#000" stroke-width="1.15"/>
<line x1="487.27" y1="943.6" x2="487.27" y2="946.9" stroke="#000" stroke-width="1.15"/>
<line x1="488.29" y1="943.6" x2="488.29" y2="946.9" stroke="#000" stroke-width="1.15"/>
<text x="469.7" y="958.8" font-size="8.8" text-anchor="middle" fill="#1a1a1a" stroke="#1a1a1a" stroke-width="0.2">10<tspan font-size="5.8" dy="-3.1">3</tspan></text>
<line x1="489.2" y1="943.6" x2="489.2" y2="948.6" stroke="#000" stroke-width="1.4"/>
<text x="489.6" y="958.8" font-size="8.8" text-anchor="middle" fill="#1a1a1a" stroke="#1a1a1a" stroke-width="0.2">10<tspan font-size="5.8" dy="-3.1">4</tspan></text>
<text x="446.5" y="871.2" font-size="9.3" text-anchor="start" font-weight="normal" fill="#111" stroke="#111" stroke-width="0.22">Activated</text>
<text transform="translate(22.9 902.3) rotate(-90) scale(0.66 1)" font-size="13" font-weight="bold" text-anchor="middle" fill="#1a1a1a" stroke="#1a1a1a" stroke-width="0">% of Max</text>
<text transform="translate(114.4 978.8) scale(0.62 1)" font-size="12.3" font-weight="bold" fill="#1a1a1a">PD-L1</text>
<line x1="142.7" y1="975" x2="184.4" y2="975" stroke="#000" stroke-width="1.5"/>
<path d="M182.4 971.9L190.4 975L182.4 978.1Z" fill="#000"/>
<text transform="translate(355 978.8) scale(0.66 1)" font-size="12.3" font-weight="bold" fill="#1a1a1a">CD69</text>
<line x1="380" y1="975" x2="422.8" y2="975" stroke="#000" stroke-width="1.5"/>
<path d="M420.8 971.9L428.8 975L420.8 978.1Z" fill="#000"/>
<line x1="137.7" y1="996.5" x2="154.9" y2="996.5" stroke="#d0d0d3" stroke-width="3"/>
<text x="159.3" y="999.7" font-size="9" text-anchor="start" font-weight="normal" fill="#333" stroke="#333" stroke-width="0.22">Isotype control</text>
<line x1="137.7" y1="1010.1" x2="154.9" y2="1010.1" stroke="#4a1767" stroke-width="3"/>
<text x="159.3" y="1013.3" font-size="9" text-anchor="start" font-weight="normal" fill="#333" stroke="#333" stroke-width="0.22">No cytokine</text>
<line x1="241.5" y1="996.5" x2="258.7" y2="996.5" stroke="#213d72" stroke-width="3"/>
<text x="263.9" y="999.7" font-size="9" text-anchor="start" font-weight="normal" fill="#333" stroke="#333" stroke-width="0.22">IL1a</text>
<line x1="241.5" y1="1010.1" x2="258.7" y2="1010.1" stroke="#5a984a" stroke-width="3"/>
<text x="263.9" y="1013.3" font-size="9" text-anchor="start" font-weight="normal" fill="#333" stroke="#333" stroke-width="0.22">IL17A</text>
<line x1="310.7" y1="996.5" x2="327.9" y2="996.5" stroke="#e4aa55" stroke-width="3"/>
<text x="332.3" y="999.7" font-size="9" text-anchor="start" font-weight="normal" fill="#333" stroke="#333" stroke-width="0.22">IL23</text>
<line x1="310.7" y1="1010.1" x2="327.9" y2="1010.1" stroke="#a3123d" stroke-width="3"/>
<text x="332.3" y="1013.3" font-size="9" text-anchor="start" font-weight="normal" fill="#333" stroke="#333" stroke-width="0.22">IL27</text>
</svg>
</body></html>
